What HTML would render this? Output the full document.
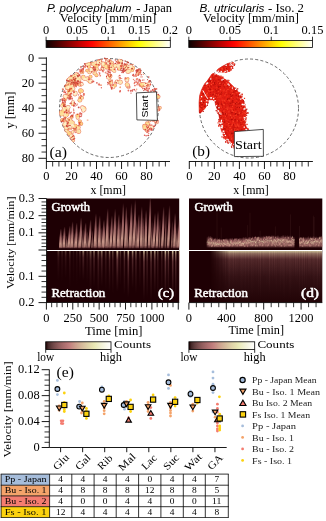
<!DOCTYPE html>
<html><head><meta charset="utf-8"><style>
html,body{margin:0;padding:0;background:#fff;overflow:hidden;width:326px;height:521px;}
svg{display:block;will-change:transform;}
</style></head><body>
<svg width="326" height="521" viewBox="0 0 326 521">
<defs><linearGradient id="ghot" x1="0" y1="0" x2="1" y2="0"><stop offset="0.0000" stop-color="#0b0000"/><stop offset="0.0417" stop-color="#270000"/><stop offset="0.0833" stop-color="#420000"/><stop offset="0.1250" stop-color="#5e0000"/><stop offset="0.1667" stop-color="#7a0000"/><stop offset="0.2083" stop-color="#960000"/><stop offset="0.2500" stop-color="#b20000"/><stop offset="0.2917" stop-color="#ce0000"/><stop offset="0.3333" stop-color="#ea0000"/><stop offset="0.3750" stop-color="#ff0700"/><stop offset="0.4167" stop-color="#ff2300"/><stop offset="0.4583" stop-color="#ff3e00"/><stop offset="0.5000" stop-color="#ff5a00"/><stop offset="0.5417" stop-color="#ff7600"/><stop offset="0.5833" stop-color="#ff9200"/><stop offset="0.6250" stop-color="#ffae00"/><stop offset="0.6667" stop-color="#ffca00"/><stop offset="0.7083" stop-color="#ffe600"/><stop offset="0.7500" stop-color="#ffff04"/><stop offset="0.7917" stop-color="#ffff2e"/><stop offset="0.8333" stop-color="#ffff58"/><stop offset="0.8750" stop-color="#ffff81"/><stop offset="0.9167" stop-color="#ffffab"/><stop offset="0.9583" stop-color="#ffffd5"/><stop offset="1.0000" stop-color="#ffffff"/></linearGradient><linearGradient id="gpink" x1="0" y1="0" x2="1" y2="0"><stop offset="0.0000" stop-color="#1e0000"/><stop offset="0.0417" stop-color="#472a2a"/><stop offset="0.0833" stop-color="#603c3c"/><stop offset="0.1250" stop-color="#744a4a"/><stop offset="0.1667" stop-color="#855555"/><stop offset="0.2083" stop-color="#945f5f"/><stop offset="0.2500" stop-color="#a16868"/><stop offset="0.2917" stop-color="#ae7070"/><stop offset="0.3333" stop-color="#b97878"/><stop offset="0.3750" stop-color="#c38280"/><stop offset="0.4167" stop-color="#c79186"/><stop offset="0.4583" stop-color="#cc9f8d"/><stop offset="0.5000" stop-color="#d0ab93"/><stop offset="0.5417" stop-color="#d4b799"/><stop offset="0.5833" stop-color="#d9c29f"/><stop offset="0.6250" stop-color="#ddcda5"/><stop offset="0.6667" stop-color="#e1d7aa"/><stop offset="0.7083" stop-color="#e5e0af"/><stop offset="0.7500" stop-color="#e9e9b5"/><stop offset="0.7917" stop-color="#ededc3"/><stop offset="0.8333" stop-color="#f0f0d1"/><stop offset="0.8750" stop-color="#f4f4dd"/><stop offset="0.9167" stop-color="#f8f8e9"/><stop offset="0.9583" stop-color="#fbfbf4"/><stop offset="1.0000" stop-color="#ffffff"/></linearGradient><linearGradient id="gup" x1="0" y1="0" x2="0" y2="1"><stop offset="0" stop-color="#aa6e6e" stop-opacity="0.0"/><stop offset="0.12" stop-color="#b07272" stop-opacity="0.32"/><stop offset="0.45" stop-color="#c2807f" stop-opacity="0.75"/><stop offset="0.78" stop-color="#ca998a" stop-opacity="0.97"/><stop offset="0.93" stop-color="#c78f85" stop-opacity="0.82"/><stop offset="1" stop-color="#b67676" stop-opacity="0.35"/></linearGradient><linearGradient id="gdn" x1="0" y1="0" x2="0" y2="1"><stop offset="0" stop-color="#e0d5a9" stop-opacity="1"/><stop offset="0.07" stop-color="#d0ab93" stop-opacity="0.75"/><stop offset="0.22" stop-color="#c07d7d" stop-opacity="0.42"/><stop offset="0.6" stop-color="#aa6e6e" stop-opacity="0.2"/><stop offset="1" stop-color="#a16868" stop-opacity="0"/></linearGradient><linearGradient id="gdn2" x1="0" y1="0" x2="0" y2="1"><stop offset="0" stop-color="#e2daac" stop-opacity="1"/><stop offset="0.05" stop-color="#d0ab93" stop-opacity="0.7"/><stop offset="0.16" stop-color="#bb7979" stop-opacity="0.36"/><stop offset="0.5" stop-color="#a46a6a" stop-opacity="0.18"/><stop offset="1" stop-color="#986262" stop-opacity="0.04"/></linearGradient><linearGradient id="gband" x1="0" y1="0" x2="0" y2="1"><stop offset="0" stop-color="#b07272" stop-opacity="0"/><stop offset="0.2" stop-color="#b87878" stop-opacity="0.55"/><stop offset="0.5" stop-color="#c89287" stop-opacity="0.85"/><stop offset="0.8" stop-color="#c68b84" stop-opacity="0.75"/><stop offset="1" stop-color="#b07272" stop-opacity="0.25"/></linearGradient><linearGradient id="hramp" x1="0" y1="0" x2="1" y2="0"><stop offset="0" stop-color="#fff" stop-opacity="0"/><stop offset="1" stop-color="#fff" stop-opacity="1"/></linearGradient><mask id="dmask" maskUnits="userSpaceOnUse" x="189.0" y="250" width="133.3" height="53"><rect x="210" y="250" width="20" height="53" fill="url(#hramp)"/><rect x="229.9" y="250" width="93.4" height="53" fill="#fff"/></mask></defs>
<text x="46.90" y="11.80" font-family="Liberation Sans" font-size="10" font-style="italic" textLength="84.50" lengthAdjust="spacingAndGlyphs">P. polycephalum</text>
<text x="136.30" y="11.80" font-family="Liberation Serif" font-size="11.5" textLength="35.60" lengthAdjust="spacingAndGlyphs">- Japan</text>
<text x="59.70" y="22.10" font-family="Liberation Serif" font-size="11.5" textLength="96.60" lengthAdjust="spacingAndGlyphs">Velocity [mm/min]</text>
<text x="199.60" y="11.80" font-family="Liberation Sans" font-size="10" font-style="italic" textLength="64.80" lengthAdjust="spacingAndGlyphs">B. utricularis</text>
<text x="268.00" y="11.80" font-family="Liberation Serif" font-size="11.5" textLength="36.00" lengthAdjust="spacingAndGlyphs">- Iso. 2</text>
<text x="202.90" y="22.10" font-family="Liberation Serif" font-size="11.5" textLength="96.00" lengthAdjust="spacingAndGlyphs">Velocity [mm/min]</text>
<rect x="46.10" y="40.50" width="124.20" height="7.00" fill="url(#ghot)" stroke="#000" stroke-width="0.8"/>
<line x1="46.10" y1="36.70" x2="46.10" y2="40.50" stroke="#000" stroke-width="0.8"/>
<text x="46.10" y="34.30" font-family="Liberation Serif" font-size="11.5" text-anchor="middle" textLength="6.23" lengthAdjust="spacingAndGlyphs">0</text>
<line x1="77.15" y1="36.70" x2="77.15" y2="40.50" stroke="#000" stroke-width="0.8"/>
<text x="77.15" y="34.30" font-family="Liberation Serif" font-size="11.5" text-anchor="middle" textLength="21.79" lengthAdjust="spacingAndGlyphs">0.05</text>
<line x1="108.20" y1="36.70" x2="108.20" y2="40.50" stroke="#000" stroke-width="0.8"/>
<text x="108.20" y="34.30" font-family="Liberation Serif" font-size="11.5" text-anchor="middle" textLength="15.56" lengthAdjust="spacingAndGlyphs">0.1</text>
<line x1="139.25" y1="36.70" x2="139.25" y2="40.50" stroke="#000" stroke-width="0.8"/>
<text x="139.25" y="34.30" font-family="Liberation Serif" font-size="11.5" text-anchor="middle" textLength="21.79" lengthAdjust="spacingAndGlyphs">0.15</text>
<line x1="170.30" y1="36.70" x2="170.30" y2="40.50" stroke="#000" stroke-width="0.8"/>
<text x="170.30" y="34.30" font-family="Liberation Serif" font-size="11.5" text-anchor="middle" textLength="15.56" lengthAdjust="spacingAndGlyphs">0.2</text>
<rect x="188.80" y="40.50" width="123.70" height="7.00" fill="url(#ghot)" stroke="#000" stroke-width="0.8"/>
<line x1="188.80" y1="36.70" x2="188.80" y2="40.50" stroke="#000" stroke-width="0.8"/>
<text x="188.80" y="34.30" font-family="Liberation Serif" font-size="11.5" text-anchor="middle" textLength="6.23" lengthAdjust="spacingAndGlyphs">0</text>
<line x1="230.03" y1="36.70" x2="230.03" y2="40.50" stroke="#000" stroke-width="0.8"/>
<text x="230.03" y="34.30" font-family="Liberation Serif" font-size="11.5" text-anchor="middle" textLength="21.79" lengthAdjust="spacingAndGlyphs">0.05</text>
<line x1="271.27" y1="36.70" x2="271.27" y2="40.50" stroke="#000" stroke-width="0.8"/>
<text x="271.27" y="34.30" font-family="Liberation Serif" font-size="11.5" text-anchor="middle" textLength="15.56" lengthAdjust="spacingAndGlyphs">0.1</text>
<line x1="312.50" y1="36.70" x2="312.50" y2="40.50" stroke="#000" stroke-width="0.8"/>
<text x="312.50" y="34.30" font-family="Liberation Serif" font-size="11.5" text-anchor="middle" textLength="21.79" lengthAdjust="spacingAndGlyphs">0.15</text>
<line x1="46.00" y1="161.50" x2="170.00" y2="161.50" stroke="#000" stroke-width="0.9"/>
<line x1="46.40" y1="161.50" x2="46.40" y2="169.00" stroke="#000" stroke-width="0.9"/>
<text x="46.40" y="180.10" font-family="Liberation Serif" font-size="11.5" text-anchor="middle" textLength="6.23" lengthAdjust="spacingAndGlyphs">0</text>
<line x1="52.66" y1="161.50" x2="52.66" y2="166.50" stroke="#000" stroke-width="0.8"/>
<line x1="58.92" y1="161.50" x2="58.92" y2="166.50" stroke="#000" stroke-width="0.8"/>
<line x1="65.19" y1="161.50" x2="65.19" y2="166.50" stroke="#000" stroke-width="0.8"/>
<line x1="71.45" y1="161.50" x2="71.45" y2="169.00" stroke="#000" stroke-width="0.9"/>
<text x="71.45" y="180.10" font-family="Liberation Serif" font-size="11.5" text-anchor="middle" textLength="12.46" lengthAdjust="spacingAndGlyphs">20</text>
<line x1="77.71" y1="161.50" x2="77.71" y2="166.50" stroke="#000" stroke-width="0.8"/>
<line x1="83.97" y1="161.50" x2="83.97" y2="166.50" stroke="#000" stroke-width="0.8"/>
<line x1="90.24" y1="161.50" x2="90.24" y2="166.50" stroke="#000" stroke-width="0.8"/>
<line x1="96.50" y1="161.50" x2="96.50" y2="169.00" stroke="#000" stroke-width="0.9"/>
<text x="96.50" y="180.10" font-family="Liberation Serif" font-size="11.5" text-anchor="middle" textLength="12.46" lengthAdjust="spacingAndGlyphs">40</text>
<line x1="102.76" y1="161.50" x2="102.76" y2="166.50" stroke="#000" stroke-width="0.8"/>
<line x1="109.03" y1="161.50" x2="109.03" y2="166.50" stroke="#000" stroke-width="0.8"/>
<line x1="115.29" y1="161.50" x2="115.29" y2="166.50" stroke="#000" stroke-width="0.8"/>
<line x1="121.55" y1="161.50" x2="121.55" y2="169.00" stroke="#000" stroke-width="0.9"/>
<text x="121.55" y="180.10" font-family="Liberation Serif" font-size="11.5" text-anchor="middle" textLength="12.46" lengthAdjust="spacingAndGlyphs">60</text>
<line x1="127.81" y1="161.50" x2="127.81" y2="166.50" stroke="#000" stroke-width="0.8"/>
<line x1="134.07" y1="161.50" x2="134.07" y2="166.50" stroke="#000" stroke-width="0.8"/>
<line x1="140.34" y1="161.50" x2="140.34" y2="166.50" stroke="#000" stroke-width="0.8"/>
<line x1="146.60" y1="161.50" x2="146.60" y2="169.00" stroke="#000" stroke-width="0.9"/>
<text x="146.60" y="180.10" font-family="Liberation Serif" font-size="11.5" text-anchor="middle" textLength="12.46" lengthAdjust="spacingAndGlyphs">80</text>
<line x1="152.86" y1="161.50" x2="152.86" y2="166.50" stroke="#000" stroke-width="0.8"/>
<line x1="159.12" y1="161.50" x2="159.12" y2="166.50" stroke="#000" stroke-width="0.8"/>
<line x1="165.39" y1="161.50" x2="165.39" y2="166.50" stroke="#000" stroke-width="0.8"/>
<text x="108.20" y="193.80" font-family="Liberation Serif" font-size="11.5" text-anchor="middle" textLength="35.50" lengthAdjust="spacingAndGlyphs">x [mm]</text>
<line x1="188.90" y1="161.50" x2="312.90" y2="161.50" stroke="#000" stroke-width="0.9"/>
<line x1="189.30" y1="161.50" x2="189.30" y2="169.00" stroke="#000" stroke-width="0.9"/>
<text x="189.30" y="180.10" font-family="Liberation Serif" font-size="11.5" text-anchor="middle" textLength="6.23" lengthAdjust="spacingAndGlyphs">0</text>
<line x1="195.56" y1="161.50" x2="195.56" y2="166.50" stroke="#000" stroke-width="0.8"/>
<line x1="201.83" y1="161.50" x2="201.83" y2="166.50" stroke="#000" stroke-width="0.8"/>
<line x1="208.09" y1="161.50" x2="208.09" y2="166.50" stroke="#000" stroke-width="0.8"/>
<line x1="214.35" y1="161.50" x2="214.35" y2="169.00" stroke="#000" stroke-width="0.9"/>
<text x="214.35" y="180.10" font-family="Liberation Serif" font-size="11.5" text-anchor="middle" textLength="12.46" lengthAdjust="spacingAndGlyphs">20</text>
<line x1="220.61" y1="161.50" x2="220.61" y2="166.50" stroke="#000" stroke-width="0.8"/>
<line x1="226.88" y1="161.50" x2="226.88" y2="166.50" stroke="#000" stroke-width="0.8"/>
<line x1="233.14" y1="161.50" x2="233.14" y2="166.50" stroke="#000" stroke-width="0.8"/>
<line x1="239.40" y1="161.50" x2="239.40" y2="169.00" stroke="#000" stroke-width="0.9"/>
<text x="239.40" y="180.10" font-family="Liberation Serif" font-size="11.5" text-anchor="middle" textLength="12.46" lengthAdjust="spacingAndGlyphs">40</text>
<line x1="245.66" y1="161.50" x2="245.66" y2="166.50" stroke="#000" stroke-width="0.8"/>
<line x1="251.93" y1="161.50" x2="251.93" y2="166.50" stroke="#000" stroke-width="0.8"/>
<line x1="258.19" y1="161.50" x2="258.19" y2="166.50" stroke="#000" stroke-width="0.8"/>
<line x1="264.45" y1="161.50" x2="264.45" y2="169.00" stroke="#000" stroke-width="0.9"/>
<text x="264.45" y="180.10" font-family="Liberation Serif" font-size="11.5" text-anchor="middle" textLength="12.46" lengthAdjust="spacingAndGlyphs">60</text>
<line x1="270.71" y1="161.50" x2="270.71" y2="166.50" stroke="#000" stroke-width="0.8"/>
<line x1="276.98" y1="161.50" x2="276.98" y2="166.50" stroke="#000" stroke-width="0.8"/>
<line x1="283.24" y1="161.50" x2="283.24" y2="166.50" stroke="#000" stroke-width="0.8"/>
<line x1="289.50" y1="161.50" x2="289.50" y2="169.00" stroke="#000" stroke-width="0.9"/>
<text x="289.50" y="180.10" font-family="Liberation Serif" font-size="11.5" text-anchor="middle" textLength="12.46" lengthAdjust="spacingAndGlyphs">80</text>
<line x1="295.76" y1="161.50" x2="295.76" y2="166.50" stroke="#000" stroke-width="0.8"/>
<line x1="302.02" y1="161.50" x2="302.02" y2="166.50" stroke="#000" stroke-width="0.8"/>
<line x1="308.29" y1="161.50" x2="308.29" y2="166.50" stroke="#000" stroke-width="0.8"/>
<text x="251.10" y="193.80" font-family="Liberation Serif" font-size="11.5" text-anchor="middle" textLength="35.50" lengthAdjust="spacingAndGlyphs">x [mm]</text>
<line x1="46.40" y1="57.30" x2="46.40" y2="161.50" stroke="#000" stroke-width="0.9"/>
<line x1="38.50" y1="58.10" x2="46.40" y2="58.10" stroke="#000" stroke-width="0.9"/>
<text x="34.20" y="61.70" font-family="Liberation Serif" font-size="11.5" text-anchor="end" textLength="6.23" lengthAdjust="spacingAndGlyphs">0</text>
<line x1="41.50" y1="64.36" x2="46.40" y2="64.36" stroke="#000" stroke-width="0.8"/>
<line x1="41.50" y1="70.62" x2="46.40" y2="70.62" stroke="#000" stroke-width="0.8"/>
<line x1="41.50" y1="76.89" x2="46.40" y2="76.89" stroke="#000" stroke-width="0.8"/>
<line x1="38.50" y1="83.15" x2="46.40" y2="83.15" stroke="#000" stroke-width="0.9"/>
<text x="34.20" y="86.75" font-family="Liberation Serif" font-size="11.5" text-anchor="end" textLength="12.46" lengthAdjust="spacingAndGlyphs">20</text>
<line x1="41.50" y1="89.41" x2="46.40" y2="89.41" stroke="#000" stroke-width="0.8"/>
<line x1="41.50" y1="95.67" x2="46.40" y2="95.67" stroke="#000" stroke-width="0.8"/>
<line x1="41.50" y1="101.94" x2="46.40" y2="101.94" stroke="#000" stroke-width="0.8"/>
<line x1="38.50" y1="108.20" x2="46.40" y2="108.20" stroke="#000" stroke-width="0.9"/>
<text x="34.20" y="111.80" font-family="Liberation Serif" font-size="11.5" text-anchor="end" textLength="12.46" lengthAdjust="spacingAndGlyphs">40</text>
<line x1="41.50" y1="114.46" x2="46.40" y2="114.46" stroke="#000" stroke-width="0.8"/>
<line x1="41.50" y1="120.72" x2="46.40" y2="120.72" stroke="#000" stroke-width="0.8"/>
<line x1="41.50" y1="126.99" x2="46.40" y2="126.99" stroke="#000" stroke-width="0.8"/>
<line x1="38.50" y1="133.25" x2="46.40" y2="133.25" stroke="#000" stroke-width="0.9"/>
<text x="34.20" y="136.85" font-family="Liberation Serif" font-size="11.5" text-anchor="end" textLength="12.46" lengthAdjust="spacingAndGlyphs">60</text>
<line x1="41.50" y1="139.51" x2="46.40" y2="139.51" stroke="#000" stroke-width="0.8"/>
<line x1="41.50" y1="145.78" x2="46.40" y2="145.78" stroke="#000" stroke-width="0.8"/>
<line x1="41.50" y1="152.04" x2="46.40" y2="152.04" stroke="#000" stroke-width="0.8"/>
<line x1="38.50" y1="158.30" x2="46.40" y2="158.30" stroke="#000" stroke-width="0.9"/>
<text x="34.20" y="161.90" font-family="Liberation Serif" font-size="11.5" text-anchor="end" textLength="12.46" lengthAdjust="spacingAndGlyphs">80</text>
<text x="14.20" y="110.00" font-family="Liberation Serif" font-size="11.6" text-anchor="middle" textLength="37.00" lengthAdjust="spacingAndGlyphs" transform="rotate(-90 14.20 110.00)">y [mm]</text>
<circle cx="109" cy="108" r="49.5" fill="none" stroke="#444" stroke-width="0.8" stroke-dasharray="3,2.2"/>
<circle cx="249" cy="108.5" r="49.5" fill="none" stroke="#444" stroke-width="0.8" stroke-dasharray="3,2.2"/>
<g fill="#e6603e" opacity="0.75"><circle cx="73.6" cy="78.3" r="1.65"/><circle cx="74.1" cy="79.5" r="1.69"/><circle cx="74.5" cy="79.7" r="2.17"/><circle cx="73.4" cy="140.6" r="1.65"/><circle cx="73.2" cy="138.4" r="1.76"/><circle cx="73.7" cy="126.8" r="2.25"/><circle cx="74.4" cy="127.0" r="2.07"/><circle cx="74.9" cy="129.6" r="1.85"/><circle cx="102.9" cy="68.5" r="1.96"/><circle cx="103.1" cy="68.4" r="2.49"/><circle cx="73.9" cy="84.3" r="2.08"/><circle cx="120.8" cy="67.7" r="1.80"/><circle cx="149.9" cy="127.0" r="1.83"/><circle cx="151.4" cy="127.6" r="2.40"/><circle cx="73.7" cy="82.6" r="1.99"/><circle cx="76.0" cy="84.1" r="2.43"/><circle cx="74.0" cy="83.2" r="2.02"/><circle cx="129.9" cy="68.1" r="1.80"/><circle cx="131.0" cy="66.4" r="2.21"/><circle cx="89.5" cy="72.1" r="2.21"/><circle cx="64.1" cy="109.6" r="2.40"/><circle cx="107.1" cy="62.1" r="2.09"/><circle cx="79.0" cy="78.2" r="1.91"/><circle cx="78.7" cy="80.1" r="2.50"/><circle cx="64.7" cy="112.5" r="1.88"/><circle cx="75.3" cy="77.2" r="2.25"/><circle cx="75.5" cy="76.8" r="1.87"/><circle cx="76.4" cy="75.5" r="2.03"/><circle cx="127.1" cy="84.5" r="2.30"/><circle cx="127.9" cy="84.8" r="1.88"/><circle cx="128.5" cy="87.0" r="2.10"/><circle cx="62.1" cy="105.7" r="1.82"/><circle cx="72.7" cy="132.0" r="1.76"/><circle cx="62.4" cy="120.0" r="2.10"/><circle cx="71.4" cy="79.0" r="2.33"/><circle cx="68.8" cy="80.1" r="2.30"/><circle cx="69.4" cy="79.7" r="2.09"/><circle cx="64.6" cy="124.5" r="2.26"/><circle cx="103.6" cy="67.2" r="1.76"/><circle cx="106.1" cy="66.8" r="2.20"/><circle cx="94.6" cy="67.6" r="1.79"/><circle cx="96.1" cy="66.2" r="2.42"/><circle cx="95.7" cy="65.5" r="2.31"/><circle cx="94.4" cy="70.0" r="2.45"/><circle cx="96.5" cy="69.1" r="2.41"/><circle cx="133.2" cy="67.9" r="1.99"/><circle cx="69.0" cy="80.1" r="2.39"/><circle cx="70.2" cy="78.8" r="1.90"/><circle cx="70.6" cy="78.2" r="2.26"/><circle cx="149.4" cy="120.7" r="1.63"/><circle cx="149.3" cy="119.6" r="2.03"/><circle cx="149.7" cy="119.6" r="2.39"/><circle cx="122.4" cy="65.5" r="1.69"/><circle cx="63.4" cy="104.4" r="2.27"/><circle cx="67.9" cy="107.6" r="2.07"/><circle cx="68.4" cy="107.6" r="1.99"/><circle cx="68.1" cy="107.1" r="2.21"/><circle cx="141.3" cy="84.4" r="2.31"/><circle cx="143.7" cy="84.1" r="1.86"/><circle cx="142.6" cy="85.2" r="2.26"/><circle cx="86.6" cy="64.6" r="1.77"/><circle cx="67.4" cy="85.6" r="1.71"/><circle cx="66.7" cy="85.4" r="2.00"/><circle cx="68.1" cy="86.6" r="1.89"/><circle cx="71.2" cy="90.8" r="1.67"/><circle cx="79.1" cy="130.7" r="1.82"/><circle cx="78.9" cy="131.6" r="2.31"/><circle cx="77.9" cy="131.5" r="2.07"/><circle cx="98.4" cy="63.7" r="2.41"/><circle cx="98.7" cy="61.2" r="1.89"/><circle cx="99.4" cy="62.3" r="2.04"/><circle cx="110.1" cy="68.5" r="2.03"/><circle cx="109.8" cy="67.2" r="1.95"/><circle cx="109.9" cy="66.6" r="1.99"/><circle cx="69.0" cy="91.3" r="2.21"/><circle cx="69.5" cy="92.4" r="2.42"/><circle cx="126.9" cy="80.1" r="2.33"/><circle cx="127.8" cy="78.5" r="1.62"/><circle cx="68.6" cy="120.3" r="1.81"/><circle cx="69.8" cy="119.8" r="2.26"/><circle cx="65.1" cy="116.2" r="2.07"/><circle cx="65.1" cy="120.2" r="2.18"/><circle cx="66.1" cy="119.3" r="1.86"/><circle cx="113.2" cy="70.0" r="2.03"/><circle cx="114.4" cy="70.9" r="1.92"/><circle cx="69.3" cy="133.5" r="2.43"/><circle cx="146.8" cy="84.8" r="2.16"/><circle cx="149.0" cy="84.2" r="2.14"/><circle cx="146.1" cy="85.4" r="2.05"/><circle cx="129.6" cy="67.2" r="2.46"/><circle cx="98.3" cy="62.4" r="2.09"/><circle cx="99.4" cy="61.4" r="1.99"/><circle cx="67.0" cy="109.2" r="2.13"/><circle cx="65.2" cy="110.0" r="2.18"/><circle cx="68.0" cy="110.8" r="2.00"/><circle cx="71.5" cy="135.8" r="2.18"/><circle cx="83.4" cy="108.5" r="2.06"/><circle cx="84.1" cy="108.5" r="2.25"/><circle cx="82.4" cy="107.6" r="2.26"/><circle cx="128.8" cy="71.2" r="2.22"/><circle cx="83.4" cy="110.0" r="1.98"/><circle cx="119.6" cy="68.5" r="1.81"/><circle cx="119.0" cy="68.8" r="1.85"/><circle cx="82.0" cy="71.9" r="2.33"/><circle cx="108.6" cy="77.1" r="2.50"/><circle cx="110.4" cy="75.9" r="2.05"/><circle cx="109.8" cy="76.8" r="2.16"/><circle cx="66.0" cy="114.8" r="2.44"/><circle cx="65.8" cy="115.2" r="2.16"/><circle cx="67.1" cy="114.4" r="2.10"/><circle cx="80.4" cy="97.8" r="2.06"/><circle cx="79.8" cy="100.3" r="2.32"/><circle cx="82.1" cy="97.7" r="1.84"/><circle cx="63.9" cy="107.5" r="1.86"/><circle cx="64.9" cy="107.8" r="1.66"/><circle cx="65.3" cy="108.0" r="1.62"/><circle cx="113.2" cy="68.6" r="2.10"/><circle cx="113.1" cy="68.7" r="2.35"/><circle cx="84.5" cy="109.7" r="1.86"/><circle cx="83.2" cy="109.5" r="1.79"/><circle cx="83.3" cy="110.9" r="1.71"/><circle cx="108.5" cy="63.0" r="2.02"/><circle cx="117.0" cy="81.6" r="2.15"/><circle cx="72.8" cy="84.8" r="2.30"/><circle cx="72.0" cy="85.2" r="2.14"/><circle cx="70.3" cy="83.5" r="1.80"/><circle cx="100.2" cy="61.7" r="2.20"/><circle cx="125.6" cy="66.8" r="2.27"/><circle cx="126.0" cy="68.8" r="1.67"/><circle cx="126.8" cy="66.1" r="2.07"/><circle cx="72.7" cy="104.0" r="2.04"/><circle cx="71.7" cy="80.6" r="1.72"/><circle cx="70.9" cy="82.6" r="2.19"/><circle cx="72.7" cy="82.3" r="2.19"/><circle cx="68.5" cy="86.6" r="2.11"/><circle cx="72.5" cy="137.8" r="2.36"/><circle cx="73.2" cy="137.0" r="1.66"/><circle cx="71.8" cy="136.8" r="2.29"/><circle cx="76.9" cy="127.2" r="1.66"/><circle cx="71.8" cy="82.5" r="1.88"/><circle cx="148.7" cy="123.8" r="1.64"/><circle cx="146.9" cy="123.2" r="1.88"/><circle cx="147.8" cy="123.9" r="1.74"/><circle cx="119.9" cy="64.0" r="2.08"/><circle cx="70.4" cy="91.6" r="1.62"/><circle cx="69.6" cy="92.4" r="2.33"/><circle cx="126.4" cy="66.8" r="2.20"/><circle cx="125.8" cy="67.1" r="2.44"/><circle cx="66.3" cy="87.1" r="1.74"/><circle cx="68.9" cy="87.3" r="2.44"/><circle cx="66.9" cy="87.9" r="2.04"/><circle cx="146.4" cy="130.6" r="1.62"/><circle cx="146.8" cy="128.1" r="2.20"/><circle cx="147.1" cy="127.9" r="2.44"/><circle cx="91.2" cy="70.0" r="2.34"/><circle cx="90.9" cy="69.4" r="2.30"/><circle cx="89.7" cy="70.0" r="1.85"/><circle cx="127.8" cy="71.6" r="2.38"/><circle cx="88.9" cy="66.8" r="1.94"/><circle cx="89.1" cy="64.0" r="2.07"/><circle cx="87.6" cy="64.7" r="1.69"/><circle cx="125.4" cy="68.8" r="2.21"/><circle cx="72.5" cy="122.7" r="2.32"/><circle cx="72.0" cy="123.6" r="1.96"/><circle cx="72.6" cy="125.9" r="2.48"/><circle cx="119.3" cy="60.6" r="1.90"/><circle cx="120.6" cy="63.0" r="2.26"/><circle cx="72.8" cy="77.7" r="1.74"/><circle cx="72.6" cy="77.0" r="1.75"/><circle cx="72.8" cy="78.4" r="1.65"/><circle cx="118.1" cy="66.0" r="2.41"/><circle cx="118.0" cy="65.8" r="1.78"/><circle cx="115.3" cy="65.7" r="2.42"/><circle cx="70.3" cy="90.8" r="1.86"/><circle cx="69.7" cy="90.6" r="2.12"/><circle cx="70.0" cy="92.4" r="1.81"/><circle cx="77.7" cy="128.2" r="2.06"/><circle cx="78.3" cy="127.4" r="2.33"/><circle cx="76.7" cy="127.0" r="2.24"/><circle cx="68.5" cy="95.6" r="2.02"/><circle cx="69.0" cy="96.4" r="2.19"/><circle cx="103.5" cy="64.0" r="2.46"/><circle cx="102.8" cy="64.6" r="1.85"/><circle cx="102.9" cy="63.4" r="1.74"/><circle cx="71.9" cy="116.9" r="1.79"/><circle cx="77.1" cy="77.0" r="2.10"/><circle cx="77.8" cy="78.3" r="1.69"/><circle cx="78.6" cy="77.4" r="2.34"/><circle cx="156.5" cy="121.9" r="2.36"/><circle cx="67.7" cy="131.5" r="1.81"/><circle cx="66.1" cy="130.6" r="1.66"/><circle cx="73.8" cy="76.3" r="2.14"/><circle cx="76.4" cy="77.9" r="1.97"/><circle cx="75.8" cy="76.8" r="1.88"/><circle cx="91.0" cy="70.1" r="1.73"/><circle cx="89.8" cy="71.7" r="1.63"/><circle cx="90.2" cy="71.0" r="2.06"/><circle cx="70.9" cy="122.2" r="1.70"/><circle cx="68.9" cy="124.0" r="1.68"/><circle cx="69.5" cy="124.5" r="2.27"/><circle cx="70.8" cy="87.2" r="2.25"/><circle cx="73.0" cy="88.8" r="2.36"/><circle cx="71.2" cy="89.1" r="2.42"/><circle cx="70.2" cy="122.0" r="2.40"/><circle cx="71.0" cy="121.5" r="2.15"/><circle cx="70.1" cy="82.2" r="1.69"/><circle cx="72.6" cy="81.3" r="2.18"/><circle cx="70.1" cy="84.7" r="1.99"/><circle cx="68.4" cy="83.4" r="2.01"/><circle cx="75.1" cy="127.1" r="2.38"/><circle cx="75.3" cy="125.7" r="2.01"/><circle cx="112.9" cy="87.0" r="2.31"/><circle cx="114.8" cy="85.4" r="2.08"/><circle cx="111.9" cy="86.5" r="1.64"/><circle cx="80.1" cy="84.4" r="2.42"/><circle cx="81.5" cy="84.2" r="2.13"/><circle cx="95.3" cy="63.2" r="2.02"/><circle cx="93.3" cy="64.1" r="2.43"/><circle cx="110.9" cy="82.6" r="2.22"/><circle cx="110.2" cy="83.0" r="1.84"/><circle cx="110.0" cy="80.4" r="1.65"/><circle cx="68.2" cy="126.6" r="2.12"/><circle cx="68.6" cy="127.5" r="2.27"/><circle cx="66.1" cy="127.6" r="2.23"/><circle cx="78.0" cy="78.8" r="1.68"/><circle cx="79.6" cy="79.0" r="1.85"/><circle cx="77.0" cy="78.8" r="2.47"/><circle cx="76.0" cy="74.1" r="1.66"/><circle cx="76.5" cy="74.4" r="2.07"/><circle cx="139.0" cy="72.9" r="1.80"/><circle cx="137.7" cy="73.8" r="1.71"/><circle cx="138.8" cy="72.0" r="2.34"/><circle cx="160.0" cy="107.8" r="1.73"/><circle cx="157.9" cy="109.0" r="2.50"/><circle cx="77.7" cy="117.7" r="2.02"/><circle cx="87.1" cy="70.5" r="1.86"/><circle cx="120.8" cy="61.6" r="2.17"/><circle cx="118.6" cy="62.1" r="2.00"/><circle cx="121.0" cy="60.8" r="1.68"/><circle cx="75.2" cy="93.1" r="2.37"/><circle cx="75.0" cy="94.0" r="2.41"/><circle cx="77.6" cy="115.7" r="2.21"/><circle cx="154.5" cy="120.3" r="1.79"/><circle cx="152.8" cy="119.3" r="2.26"/><circle cx="65.5" cy="123.6" r="2.09"/><circle cx="65.0" cy="98.4" r="1.84"/><circle cx="65.3" cy="98.9" r="2.04"/><circle cx="65.2" cy="96.4" r="2.46"/><circle cx="90.5" cy="76.7" r="2.01"/><circle cx="112.0" cy="63.9" r="1.81"/><circle cx="112.2" cy="62.3" r="1.60"/><circle cx="109.8" cy="61.1" r="2.06"/><circle cx="83.7" cy="78.5" r="2.03"/><circle cx="83.3" cy="76.9" r="2.25"/><circle cx="85.3" cy="78.9" r="2.08"/><circle cx="81.4" cy="90.9" r="2.21"/><circle cx="80.6" cy="90.7" r="2.50"/><circle cx="81.6" cy="91.1" r="1.99"/><circle cx="127.2" cy="85.3" r="2.10"/><circle cx="96.5" cy="75.2" r="1.93"/><circle cx="94.6" cy="73.1" r="2.22"/><circle cx="89.6" cy="81.5" r="2.03"/><circle cx="90.7" cy="81.3" r="2.35"/><circle cx="62.6" cy="113.7" r="2.26"/><circle cx="60.7" cy="111.9" r="1.75"/><circle cx="69.0" cy="90.9" r="2.25"/><circle cx="70.1" cy="125.6" r="2.37"/><circle cx="70.0" cy="128.1" r="2.21"/><circle cx="77.0" cy="78.9" r="2.42"/><circle cx="80.0" cy="121.7" r="2.08"/><circle cx="79.7" cy="121.6" r="1.74"/><circle cx="81.1" cy="123.8" r="2.14"/><circle cx="62.8" cy="111.6" r="2.12"/><circle cx="61.7" cy="114.1" r="2.49"/><circle cx="111.8" cy="66.4" r="1.94"/><circle cx="111.0" cy="67.5" r="2.45"/><circle cx="110.5" cy="66.3" r="1.64"/><circle cx="132.1" cy="70.0" r="2.10"/><circle cx="131.3" cy="69.7" r="2.34"/><circle cx="131.5" cy="70.0" r="2.15"/><circle cx="158.8" cy="96.5" r="1.65"/><circle cx="158.2" cy="97.3" r="1.85"/><circle cx="156.5" cy="95.8" r="2.21"/><circle cx="72.9" cy="102.4" r="2.05"/><circle cx="126.8" cy="67.9" r="2.50"/><circle cx="145.1" cy="84.8" r="1.77"/><circle cx="143.6" cy="84.6" r="2.35"/><circle cx="143.1" cy="84.7" r="1.93"/><circle cx="120.3" cy="82.2" r="2.49"/><circle cx="69.0" cy="119.6" r="2.03"/><circle cx="144.5" cy="126.1" r="2.30"/><circle cx="144.7" cy="128.0" r="2.20"/><circle cx="147.1" cy="127.6" r="2.14"/><circle cx="108.3" cy="67.2" r="2.47"/><circle cx="106.2" cy="66.5" r="2.47"/><circle cx="69.7" cy="84.3" r="1.80"/><circle cx="87.6" cy="79.3" r="2.20"/><circle cx="87.5" cy="78.4" r="2.09"/></g>
<g opacity="0.95"><circle cx="73.6" cy="78.3" r="1.05" fill="#ffe49a"/><circle cx="74.1" cy="79.5" r="1.09" fill="#fff4d0"/><circle cx="74.5" cy="79.7" r="1.57" fill="#ffd884"/><circle cx="73.4" cy="140.6" r="1.05" fill="#ffeeb8"/><circle cx="73.2" cy="138.4" r="1.16" fill="#ffd884"/><circle cx="73.7" cy="126.8" r="1.65" fill="#ffe49a"/><circle cx="74.4" cy="127.0" r="1.47" fill="#fff4d0"/><circle cx="74.9" cy="129.6" r="1.25" fill="#ffe49a"/><circle cx="102.9" cy="68.5" r="1.36" fill="#ffeeb8"/><circle cx="103.1" cy="68.4" r="1.89" fill="#fff4d0"/><circle cx="73.9" cy="84.3" r="1.48" fill="#ffeeb8"/><circle cx="120.8" cy="67.7" r="1.20" fill="#ffe49a"/><circle cx="149.9" cy="127.0" r="1.23" fill="#ffe49a"/><circle cx="151.4" cy="127.6" r="1.80" fill="#fff4d0"/><circle cx="73.7" cy="82.6" r="1.39" fill="#ffe49a"/><circle cx="76.0" cy="84.1" r="1.83" fill="#ffe49a"/><circle cx="74.0" cy="83.2" r="1.42" fill="#fde3a6"/><circle cx="129.9" cy="68.1" r="1.20" fill="#ffe49a"/><circle cx="131.0" cy="66.4" r="1.61" fill="#fff4d0"/><circle cx="89.5" cy="72.1" r="1.61" fill="#ffeeb8"/><circle cx="64.1" cy="109.6" r="1.80" fill="#fde3a6"/><circle cx="107.1" cy="62.1" r="1.49" fill="#fff4d0"/><circle cx="79.0" cy="78.2" r="1.31" fill="#fff4d0"/><circle cx="78.7" cy="80.1" r="1.90" fill="#ffeeb8"/><circle cx="64.7" cy="112.5" r="1.28" fill="#fff4d0"/><circle cx="75.3" cy="77.2" r="1.65" fill="#ffe49a"/><circle cx="75.5" cy="76.8" r="1.27" fill="#fde3a6"/><circle cx="76.4" cy="75.5" r="1.43" fill="#ffe49a"/><circle cx="127.1" cy="84.5" r="1.70" fill="#ffe49a"/><circle cx="127.9" cy="84.8" r="1.28" fill="#fde3a6"/><circle cx="128.5" cy="87.0" r="1.50" fill="#fff4d0"/><circle cx="62.1" cy="105.7" r="1.22" fill="#ffeeb8"/><circle cx="72.7" cy="132.0" r="1.16" fill="#ffeeb8"/><circle cx="62.4" cy="120.0" r="1.50" fill="#ffd884"/><circle cx="71.4" cy="79.0" r="1.73" fill="#ffd884"/><circle cx="68.8" cy="80.1" r="1.70" fill="#ffeeb8"/><circle cx="69.4" cy="79.7" r="1.49" fill="#ffd884"/><circle cx="64.6" cy="124.5" r="1.66" fill="#ffeeb8"/><circle cx="103.6" cy="67.2" r="1.16" fill="#ffeeb8"/><circle cx="106.1" cy="66.8" r="1.60" fill="#ffe49a"/><circle cx="94.6" cy="67.6" r="1.19" fill="#ffeeb8"/><circle cx="96.1" cy="66.2" r="1.82" fill="#ffe49a"/><circle cx="95.7" cy="65.5" r="1.71" fill="#ffd884"/><circle cx="94.4" cy="70.0" r="1.85" fill="#fff4d0"/><circle cx="96.5" cy="69.1" r="1.81" fill="#fde3a6"/><circle cx="133.2" cy="67.9" r="1.39" fill="#ffe49a"/><circle cx="69.0" cy="80.1" r="1.79" fill="#fff4d0"/><circle cx="70.2" cy="78.8" r="1.30" fill="#ffeeb8"/><circle cx="70.6" cy="78.2" r="1.66" fill="#fde3a6"/><circle cx="149.4" cy="120.7" r="1.03" fill="#ffd884"/><circle cx="149.3" cy="119.6" r="1.43" fill="#ffd884"/><circle cx="149.7" cy="119.6" r="1.79" fill="#fff4d0"/><circle cx="122.4" cy="65.5" r="1.09" fill="#ffeeb8"/><circle cx="63.4" cy="104.4" r="1.67" fill="#ffd884"/><circle cx="67.9" cy="107.6" r="1.47" fill="#ffeeb8"/><circle cx="68.4" cy="107.6" r="1.39" fill="#fff4d0"/><circle cx="68.1" cy="107.1" r="1.61" fill="#fff4d0"/><circle cx="141.3" cy="84.4" r="1.71" fill="#ffd884"/><circle cx="143.7" cy="84.1" r="1.26" fill="#ffeeb8"/><circle cx="142.6" cy="85.2" r="1.66" fill="#ffd884"/><circle cx="86.6" cy="64.6" r="1.17" fill="#ffeeb8"/><circle cx="67.4" cy="85.6" r="1.11" fill="#ffe49a"/><circle cx="66.7" cy="85.4" r="1.40" fill="#fde3a6"/><circle cx="68.1" cy="86.6" r="1.29" fill="#fff4d0"/><circle cx="71.2" cy="90.8" r="1.07" fill="#ffeeb8"/><circle cx="79.1" cy="130.7" r="1.22" fill="#ffeeb8"/><circle cx="78.9" cy="131.6" r="1.71" fill="#ffeeb8"/><circle cx="77.9" cy="131.5" r="1.47" fill="#fde3a6"/><circle cx="98.4" cy="63.7" r="1.81" fill="#ffe49a"/><circle cx="98.7" cy="61.2" r="1.29" fill="#ffe49a"/><circle cx="99.4" cy="62.3" r="1.44" fill="#fff4d0"/><circle cx="110.1" cy="68.5" r="1.43" fill="#ffeeb8"/><circle cx="109.8" cy="67.2" r="1.35" fill="#ffeeb8"/><circle cx="109.9" cy="66.6" r="1.39" fill="#ffd884"/><circle cx="69.0" cy="91.3" r="1.61" fill="#ffd884"/><circle cx="69.5" cy="92.4" r="1.82" fill="#fff4d0"/><circle cx="126.9" cy="80.1" r="1.73" fill="#fff4d0"/><circle cx="127.8" cy="78.5" r="1.02" fill="#ffd884"/><circle cx="68.6" cy="120.3" r="1.21" fill="#fff4d0"/><circle cx="69.8" cy="119.8" r="1.66" fill="#ffeeb8"/><circle cx="65.1" cy="116.2" r="1.47" fill="#ffeeb8"/><circle cx="65.1" cy="120.2" r="1.58" fill="#fde3a6"/><circle cx="66.1" cy="119.3" r="1.26" fill="#fff4d0"/><circle cx="113.2" cy="70.0" r="1.43" fill="#fde3a6"/><circle cx="114.4" cy="70.9" r="1.32" fill="#ffeeb8"/><circle cx="69.3" cy="133.5" r="1.83" fill="#ffd884"/><circle cx="146.8" cy="84.8" r="1.56" fill="#ffe49a"/><circle cx="149.0" cy="84.2" r="1.54" fill="#fff4d0"/><circle cx="146.1" cy="85.4" r="1.45" fill="#fff4d0"/><circle cx="129.6" cy="67.2" r="1.86" fill="#fff4d0"/><circle cx="98.3" cy="62.4" r="1.49" fill="#fff4d0"/><circle cx="99.4" cy="61.4" r="1.39" fill="#ffe49a"/><circle cx="67.0" cy="109.2" r="1.53" fill="#fde3a6"/><circle cx="65.2" cy="110.0" r="1.58" fill="#ffeeb8"/><circle cx="68.0" cy="110.8" r="1.40" fill="#ffeeb8"/><circle cx="71.5" cy="135.8" r="1.58" fill="#fff4d0"/><circle cx="83.4" cy="108.5" r="1.46" fill="#ffeeb8"/><circle cx="84.1" cy="108.5" r="1.65" fill="#ffe49a"/><circle cx="82.4" cy="107.6" r="1.66" fill="#fff4d0"/><circle cx="128.8" cy="71.2" r="1.62" fill="#ffeeb8"/><circle cx="83.4" cy="110.0" r="1.38" fill="#ffd884"/><circle cx="119.6" cy="68.5" r="1.21" fill="#ffe49a"/><circle cx="119.0" cy="68.8" r="1.25" fill="#ffe49a"/><circle cx="82.0" cy="71.9" r="1.73" fill="#fde3a6"/><circle cx="108.6" cy="77.1" r="1.90" fill="#fff4d0"/><circle cx="110.4" cy="75.9" r="1.45" fill="#ffe49a"/><circle cx="109.8" cy="76.8" r="1.56" fill="#fde3a6"/><circle cx="66.0" cy="114.8" r="1.84" fill="#fff4d0"/><circle cx="65.8" cy="115.2" r="1.56" fill="#ffeeb8"/><circle cx="67.1" cy="114.4" r="1.50" fill="#ffe49a"/><circle cx="80.4" cy="97.8" r="1.46" fill="#ffd884"/><circle cx="79.8" cy="100.3" r="1.72" fill="#ffe49a"/><circle cx="82.1" cy="97.7" r="1.24" fill="#fde3a6"/><circle cx="63.9" cy="107.5" r="1.26" fill="#fff4d0"/><circle cx="64.9" cy="107.8" r="1.06" fill="#ffd884"/><circle cx="65.3" cy="108.0" r="1.02" fill="#fde3a6"/><circle cx="113.2" cy="68.6" r="1.50" fill="#ffd884"/><circle cx="113.1" cy="68.7" r="1.75" fill="#fde3a6"/><circle cx="84.5" cy="109.7" r="1.26" fill="#fff4d0"/><circle cx="83.2" cy="109.5" r="1.19" fill="#fff4d0"/><circle cx="83.3" cy="110.9" r="1.11" fill="#fff4d0"/><circle cx="108.5" cy="63.0" r="1.42" fill="#fff4d0"/><circle cx="117.0" cy="81.6" r="1.55" fill="#fff4d0"/><circle cx="72.8" cy="84.8" r="1.70" fill="#ffeeb8"/><circle cx="72.0" cy="85.2" r="1.54" fill="#ffeeb8"/><circle cx="70.3" cy="83.5" r="1.20" fill="#fde3a6"/><circle cx="100.2" cy="61.7" r="1.60" fill="#fff4d0"/><circle cx="125.6" cy="66.8" r="1.67" fill="#fde3a6"/><circle cx="126.0" cy="68.8" r="1.07" fill="#ffeeb8"/><circle cx="126.8" cy="66.1" r="1.47" fill="#fde3a6"/><circle cx="72.7" cy="104.0" r="1.44" fill="#ffe49a"/><circle cx="71.7" cy="80.6" r="1.12" fill="#ffe49a"/><circle cx="70.9" cy="82.6" r="1.59" fill="#fff4d0"/><circle cx="72.7" cy="82.3" r="1.59" fill="#fde3a6"/><circle cx="68.5" cy="86.6" r="1.51" fill="#ffd884"/><circle cx="72.5" cy="137.8" r="1.76" fill="#fff4d0"/><circle cx="73.2" cy="137.0" r="1.06" fill="#fde3a6"/><circle cx="71.8" cy="136.8" r="1.69" fill="#ffeeb8"/><circle cx="76.9" cy="127.2" r="1.06" fill="#fff4d0"/><circle cx="71.8" cy="82.5" r="1.28" fill="#ffd884"/><circle cx="148.7" cy="123.8" r="1.04" fill="#ffd884"/><circle cx="146.9" cy="123.2" r="1.28" fill="#ffd884"/><circle cx="147.8" cy="123.9" r="1.14" fill="#ffe49a"/><circle cx="119.9" cy="64.0" r="1.48" fill="#ffeeb8"/><circle cx="70.4" cy="91.6" r="1.02" fill="#ffd884"/><circle cx="69.6" cy="92.4" r="1.73" fill="#ffd884"/><circle cx="126.4" cy="66.8" r="1.60" fill="#ffeeb8"/><circle cx="125.8" cy="67.1" r="1.84" fill="#fde3a6"/><circle cx="66.3" cy="87.1" r="1.14" fill="#ffd884"/><circle cx="68.9" cy="87.3" r="1.84" fill="#fff4d0"/><circle cx="66.9" cy="87.9" r="1.44" fill="#ffeeb8"/><circle cx="146.4" cy="130.6" r="1.02" fill="#fff4d0"/><circle cx="146.8" cy="128.1" r="1.60" fill="#ffd884"/><circle cx="147.1" cy="127.9" r="1.84" fill="#fff4d0"/><circle cx="91.2" cy="70.0" r="1.74" fill="#ffe49a"/><circle cx="90.9" cy="69.4" r="1.70" fill="#fff4d0"/><circle cx="89.7" cy="70.0" r="1.25" fill="#fff4d0"/><circle cx="127.8" cy="71.6" r="1.78" fill="#ffeeb8"/><circle cx="88.9" cy="66.8" r="1.34" fill="#ffd884"/><circle cx="89.1" cy="64.0" r="1.47" fill="#ffe49a"/><circle cx="87.6" cy="64.7" r="1.09" fill="#ffeeb8"/><circle cx="125.4" cy="68.8" r="1.61" fill="#fff4d0"/><circle cx="72.5" cy="122.7" r="1.72" fill="#ffe49a"/><circle cx="72.0" cy="123.6" r="1.36" fill="#fde3a6"/><circle cx="72.6" cy="125.9" r="1.88" fill="#fff4d0"/><circle cx="119.3" cy="60.6" r="1.30" fill="#fff4d0"/><circle cx="120.6" cy="63.0" r="1.66" fill="#ffeeb8"/><circle cx="72.8" cy="77.7" r="1.14" fill="#ffe49a"/><circle cx="72.6" cy="77.0" r="1.15" fill="#ffeeb8"/><circle cx="72.8" cy="78.4" r="1.05" fill="#ffeeb8"/><circle cx="118.1" cy="66.0" r="1.81" fill="#fff4d0"/><circle cx="118.0" cy="65.8" r="1.18" fill="#ffeeb8"/><circle cx="115.3" cy="65.7" r="1.82" fill="#ffeeb8"/><circle cx="70.3" cy="90.8" r="1.26" fill="#fde3a6"/><circle cx="69.7" cy="90.6" r="1.52" fill="#ffd884"/><circle cx="70.0" cy="92.4" r="1.21" fill="#fff4d0"/><circle cx="77.7" cy="128.2" r="1.46" fill="#fff4d0"/><circle cx="78.3" cy="127.4" r="1.73" fill="#fde3a6"/><circle cx="76.7" cy="127.0" r="1.64" fill="#ffe49a"/><circle cx="68.5" cy="95.6" r="1.42" fill="#ffd884"/><circle cx="69.0" cy="96.4" r="1.59" fill="#fde3a6"/><circle cx="103.5" cy="64.0" r="1.86" fill="#ffd884"/><circle cx="102.8" cy="64.6" r="1.25" fill="#ffeeb8"/><circle cx="102.9" cy="63.4" r="1.14" fill="#fff4d0"/><circle cx="71.9" cy="116.9" r="1.19" fill="#ffd884"/><circle cx="77.1" cy="77.0" r="1.50" fill="#fde3a6"/><circle cx="77.8" cy="78.3" r="1.09" fill="#ffeeb8"/><circle cx="78.6" cy="77.4" r="1.74" fill="#fff4d0"/><circle cx="156.5" cy="121.9" r="1.76" fill="#fff4d0"/><circle cx="67.7" cy="131.5" r="1.21" fill="#ffe49a"/><circle cx="66.1" cy="130.6" r="1.06" fill="#ffeeb8"/><circle cx="73.8" cy="76.3" r="1.54" fill="#ffe49a"/><circle cx="76.4" cy="77.9" r="1.37" fill="#ffd884"/><circle cx="75.8" cy="76.8" r="1.28" fill="#fff4d0"/><circle cx="91.0" cy="70.1" r="1.13" fill="#fff4d0"/><circle cx="89.8" cy="71.7" r="1.03" fill="#fde3a6"/><circle cx="90.2" cy="71.0" r="1.46" fill="#fff4d0"/><circle cx="70.9" cy="122.2" r="1.10" fill="#fff4d0"/><circle cx="68.9" cy="124.0" r="1.08" fill="#ffeeb8"/><circle cx="69.5" cy="124.5" r="1.67" fill="#ffd884"/><circle cx="70.8" cy="87.2" r="1.65" fill="#fde3a6"/><circle cx="73.0" cy="88.8" r="1.76" fill="#fff4d0"/><circle cx="71.2" cy="89.1" r="1.82" fill="#ffd884"/><circle cx="70.2" cy="122.0" r="1.80" fill="#fde3a6"/><circle cx="71.0" cy="121.5" r="1.55" fill="#fde3a6"/><circle cx="70.1" cy="82.2" r="1.09" fill="#fff4d0"/><circle cx="72.6" cy="81.3" r="1.58" fill="#fde3a6"/><circle cx="70.1" cy="84.7" r="1.39" fill="#ffd884"/><circle cx="68.4" cy="83.4" r="1.41" fill="#fde3a6"/><circle cx="75.1" cy="127.1" r="1.78" fill="#ffeeb8"/><circle cx="75.3" cy="125.7" r="1.41" fill="#ffd884"/><circle cx="112.9" cy="87.0" r="1.71" fill="#fff4d0"/><circle cx="114.8" cy="85.4" r="1.48" fill="#ffd884"/><circle cx="111.9" cy="86.5" r="1.04" fill="#fff4d0"/><circle cx="80.1" cy="84.4" r="1.82" fill="#ffeeb8"/><circle cx="81.5" cy="84.2" r="1.53" fill="#fff4d0"/><circle cx="95.3" cy="63.2" r="1.42" fill="#ffeeb8"/><circle cx="93.3" cy="64.1" r="1.83" fill="#fde3a6"/><circle cx="110.9" cy="82.6" r="1.62" fill="#ffeeb8"/><circle cx="110.2" cy="83.0" r="1.24" fill="#ffe49a"/><circle cx="110.0" cy="80.4" r="1.05" fill="#fde3a6"/><circle cx="68.2" cy="126.6" r="1.52" fill="#fff4d0"/><circle cx="68.6" cy="127.5" r="1.67" fill="#fff4d0"/><circle cx="66.1" cy="127.6" r="1.63" fill="#ffeeb8"/><circle cx="78.0" cy="78.8" r="1.08" fill="#ffd884"/><circle cx="79.6" cy="79.0" r="1.25" fill="#fde3a6"/><circle cx="77.0" cy="78.8" r="1.87" fill="#ffe49a"/><circle cx="76.0" cy="74.1" r="1.06" fill="#ffeeb8"/><circle cx="76.5" cy="74.4" r="1.47" fill="#ffeeb8"/><circle cx="139.0" cy="72.9" r="1.20" fill="#ffeeb8"/><circle cx="137.7" cy="73.8" r="1.11" fill="#ffeeb8"/><circle cx="138.8" cy="72.0" r="1.74" fill="#fff4d0"/><circle cx="160.0" cy="107.8" r="1.13" fill="#ffe49a"/><circle cx="157.9" cy="109.0" r="1.90" fill="#fff4d0"/><circle cx="77.7" cy="117.7" r="1.42" fill="#ffeeb8"/><circle cx="87.1" cy="70.5" r="1.26" fill="#ffd884"/><circle cx="120.8" cy="61.6" r="1.57" fill="#fff4d0"/><circle cx="118.6" cy="62.1" r="1.40" fill="#fde3a6"/><circle cx="121.0" cy="60.8" r="1.08" fill="#fde3a6"/><circle cx="75.2" cy="93.1" r="1.77" fill="#fff4d0"/><circle cx="75.0" cy="94.0" r="1.81" fill="#fff4d0"/><circle cx="77.6" cy="115.7" r="1.61" fill="#ffd884"/><circle cx="154.5" cy="120.3" r="1.19" fill="#ffeeb8"/><circle cx="152.8" cy="119.3" r="1.66" fill="#fff4d0"/><circle cx="65.5" cy="123.6" r="1.49" fill="#fff4d0"/><circle cx="65.0" cy="98.4" r="1.24" fill="#ffeeb8"/><circle cx="65.3" cy="98.9" r="1.44" fill="#ffe49a"/><circle cx="65.2" cy="96.4" r="1.86" fill="#fff4d0"/><circle cx="90.5" cy="76.7" r="1.41" fill="#ffd884"/><circle cx="112.0" cy="63.9" r="1.21" fill="#ffe49a"/><circle cx="112.2" cy="62.3" r="1.00" fill="#fde3a6"/><circle cx="109.8" cy="61.1" r="1.46" fill="#ffeeb8"/><circle cx="83.7" cy="78.5" r="1.43" fill="#fff4d0"/><circle cx="83.3" cy="76.9" r="1.65" fill="#ffe49a"/><circle cx="85.3" cy="78.9" r="1.48" fill="#fff4d0"/><circle cx="81.4" cy="90.9" r="1.61" fill="#fff4d0"/><circle cx="80.6" cy="90.7" r="1.90" fill="#ffd884"/><circle cx="81.6" cy="91.1" r="1.39" fill="#ffd884"/><circle cx="127.2" cy="85.3" r="1.50" fill="#fde3a6"/><circle cx="96.5" cy="75.2" r="1.33" fill="#ffd884"/><circle cx="94.6" cy="73.1" r="1.62" fill="#fde3a6"/><circle cx="89.6" cy="81.5" r="1.43" fill="#ffd884"/><circle cx="90.7" cy="81.3" r="1.75" fill="#fff4d0"/><circle cx="62.6" cy="113.7" r="1.66" fill="#fde3a6"/><circle cx="60.7" cy="111.9" r="1.15" fill="#ffe49a"/><circle cx="69.0" cy="90.9" r="1.65" fill="#ffd884"/><circle cx="70.1" cy="125.6" r="1.77" fill="#fff4d0"/><circle cx="70.0" cy="128.1" r="1.61" fill="#fff4d0"/><circle cx="77.0" cy="78.9" r="1.82" fill="#ffeeb8"/><circle cx="80.0" cy="121.7" r="1.48" fill="#ffe49a"/><circle cx="79.7" cy="121.6" r="1.14" fill="#ffd884"/><circle cx="81.1" cy="123.8" r="1.54" fill="#ffd884"/><circle cx="62.8" cy="111.6" r="1.52" fill="#ffd884"/><circle cx="61.7" cy="114.1" r="1.89" fill="#ffe49a"/><circle cx="111.8" cy="66.4" r="1.34" fill="#ffd884"/><circle cx="111.0" cy="67.5" r="1.85" fill="#ffeeb8"/><circle cx="110.5" cy="66.3" r="1.04" fill="#fff4d0"/><circle cx="132.1" cy="70.0" r="1.50" fill="#ffd884"/><circle cx="131.3" cy="69.7" r="1.74" fill="#ffeeb8"/><circle cx="131.5" cy="70.0" r="1.55" fill="#ffe49a"/><circle cx="158.8" cy="96.5" r="1.05" fill="#ffd884"/><circle cx="158.2" cy="97.3" r="1.25" fill="#ffd884"/><circle cx="156.5" cy="95.8" r="1.61" fill="#ffe49a"/><circle cx="72.9" cy="102.4" r="1.45" fill="#fff4d0"/><circle cx="126.8" cy="67.9" r="1.90" fill="#fde3a6"/><circle cx="145.1" cy="84.8" r="1.17" fill="#fff4d0"/><circle cx="143.6" cy="84.6" r="1.75" fill="#fff4d0"/><circle cx="143.1" cy="84.7" r="1.33" fill="#ffe49a"/><circle cx="120.3" cy="82.2" r="1.89" fill="#ffeeb8"/><circle cx="69.0" cy="119.6" r="1.43" fill="#ffe49a"/><circle cx="144.5" cy="126.1" r="1.70" fill="#ffd884"/><circle cx="144.7" cy="128.0" r="1.60" fill="#ffe49a"/><circle cx="147.1" cy="127.6" r="1.54" fill="#fde3a6"/><circle cx="108.3" cy="67.2" r="1.87" fill="#ffd884"/><circle cx="106.2" cy="66.5" r="1.87" fill="#ffe49a"/><circle cx="69.7" cy="84.3" r="1.20" fill="#fde3a6"/><circle cx="87.6" cy="79.3" r="1.60" fill="#fff4d0"/><circle cx="87.5" cy="78.4" r="1.49" fill="#ffeeb8"/></g>
<g opacity="0.8"><circle cx="96.5" cy="64.4" r="0.88" fill="#e86a50"/><circle cx="98.3" cy="64.5" r="0.72" fill="#d8322a"/><circle cx="96.1" cy="64.6" r="0.75" fill="#d8322a"/><circle cx="99.0" cy="65.0" r="0.66" fill="#d8322a"/><circle cx="78.1" cy="73.2" r="0.78" fill="#e0483a"/><circle cx="76.1" cy="74.2" r="0.56" fill="#f08a60"/><circle cx="74.7" cy="129.1" r="0.62" fill="#e86a50"/><circle cx="73.8" cy="128.3" r="0.72" fill="#c82820"/><circle cx="137.0" cy="70.6" r="0.67" fill="#e0483a"/><circle cx="139.3" cy="72.4" r="0.92" fill="#e0483a"/><circle cx="138.9" cy="69.5" r="0.90" fill="#e0483a"/><circle cx="140.2" cy="70.9" r="0.56" fill="#d8322a"/><circle cx="64.0" cy="91.3" r="0.79" fill="#e0483a"/><circle cx="66.1" cy="93.9" r="0.84" fill="#e86a50"/><circle cx="64.7" cy="90.7" r="0.68" fill="#e86a50"/><circle cx="106.5" cy="76.4" r="0.59" fill="#c82820"/><circle cx="107.6" cy="74.3" r="0.83" fill="#f08a60"/><circle cx="108.4" cy="75.0" r="0.72" fill="#f08a60"/><circle cx="108.3" cy="73.9" r="0.58" fill="#e0483a"/><circle cx="148.2" cy="127.3" r="0.78" fill="#d8322a"/><circle cx="147.2" cy="127.5" r="0.72" fill="#c82820"/><circle cx="147.4" cy="128.1" r="0.73" fill="#d8322a"/><circle cx="138.2" cy="80.5" r="0.56" fill="#d8322a"/><circle cx="139.9" cy="80.3" r="0.57" fill="#d8322a"/><circle cx="118.1" cy="62.5" r="0.77" fill="#c82820"/><circle cx="119.6" cy="62.3" r="0.67" fill="#c82820"/><circle cx="119.7" cy="63.1" r="0.82" fill="#d8322a"/><circle cx="118.4" cy="61.1" r="0.57" fill="#c82820"/><circle cx="136.6" cy="79.2" r="0.85" fill="#e86a50"/><circle cx="137.5" cy="78.9" r="0.82" fill="#e86a50"/><circle cx="136.5" cy="81.1" r="0.66" fill="#d8322a"/><circle cx="131.0" cy="93.1" r="0.61" fill="#c82820"/><circle cx="130.6" cy="91.0" r="0.55" fill="#c82820"/><circle cx="128.4" cy="90.5" r="0.88" fill="#e0483a"/><circle cx="131.0" cy="90.7" r="0.91" fill="#d8322a"/><circle cx="101.4" cy="87.7" r="0.69" fill="#e0483a"/><circle cx="98.7" cy="84.5" r="0.91" fill="#e86a50"/><circle cx="101.1" cy="85.2" r="0.87" fill="#f08a60"/><circle cx="99.6" cy="84.9" r="0.55" fill="#f08a60"/><circle cx="75.0" cy="106.0" r="0.67" fill="#e0483a"/><circle cx="73.3" cy="104.0" r="0.56" fill="#f08a60"/><circle cx="73.6" cy="106.0" r="0.67" fill="#d8322a"/><circle cx="75.4" cy="103.8" r="0.83" fill="#c82820"/><circle cx="126.5" cy="65.9" r="0.74" fill="#c82820"/><circle cx="125.3" cy="65.2" r="0.63" fill="#f08a60"/><circle cx="128.8" cy="67.4" r="0.60" fill="#d8322a"/><circle cx="127.5" cy="68.1" r="0.57" fill="#e86a50"/><circle cx="147.9" cy="85.1" r="0.90" fill="#c82820"/><circle cx="150.3" cy="84.4" r="0.76" fill="#d8322a"/><circle cx="148.6" cy="85.4" r="0.80" fill="#f08a60"/><circle cx="121.7" cy="78.5" r="0.61" fill="#e86a50"/><circle cx="120.3" cy="78.2" r="0.85" fill="#d8322a"/><circle cx="110.4" cy="76.9" r="0.59" fill="#f08a60"/><circle cx="109.7" cy="76.9" r="0.58" fill="#c82820"/><circle cx="112.2" cy="80.3" r="0.86" fill="#e86a50"/><circle cx="81.6" cy="115.7" r="0.58" fill="#e0483a"/><circle cx="80.1" cy="113.4" r="0.92" fill="#c82820"/><circle cx="80.6" cy="113.4" r="0.86" fill="#d8322a"/><circle cx="79.8" cy="116.3" r="0.85" fill="#e0483a"/><circle cx="83.1" cy="68.7" r="0.90" fill="#e0483a"/><circle cx="85.2" cy="66.8" r="0.83" fill="#e0483a"/><circle cx="85.2" cy="66.6" r="0.59" fill="#e0483a"/><circle cx="83.6" cy="68.4" r="0.58" fill="#e0483a"/><circle cx="79.4" cy="74.5" r="0.86" fill="#e86a50"/><circle cx="79.4" cy="75.3" r="0.93" fill="#d8322a"/><circle cx="149.1" cy="81.3" r="0.67" fill="#e0483a"/><circle cx="149.0" cy="81.3" r="0.92" fill="#e86a50"/><circle cx="150.0" cy="81.1" r="0.89" fill="#c82820"/><circle cx="149.4" cy="80.7" r="0.66" fill="#c82820"/><circle cx="70.9" cy="75.6" r="0.78" fill="#c82820"/><circle cx="71.8" cy="75.9" r="0.65" fill="#c82820"/><circle cx="134.4" cy="83.5" r="0.83" fill="#e86a50"/><circle cx="134.9" cy="85.5" r="0.86" fill="#e0483a"/><circle cx="156.4" cy="121.1" r="0.74" fill="#c82820"/><circle cx="156.7" cy="121.8" r="0.87" fill="#c82820"/><circle cx="157.8" cy="120.4" r="0.70" fill="#c82820"/><circle cx="155.8" cy="122.8" r="0.69" fill="#c82820"/><circle cx="69.9" cy="128.2" r="0.70" fill="#e86a50"/><circle cx="71.0" cy="128.7" r="0.57" fill="#e0483a"/><circle cx="69.5" cy="125.5" r="0.65" fill="#e0483a"/><circle cx="77.6" cy="114.3" r="0.65" fill="#c82820"/><circle cx="79.7" cy="113.7" r="0.88" fill="#e86a50"/><circle cx="71.9" cy="126.9" r="0.76" fill="#f08a60"/><circle cx="70.2" cy="125.5" r="0.71" fill="#d8322a"/><circle cx="136.5" cy="72.5" r="0.76" fill="#d8322a"/><circle cx="138.0" cy="73.2" r="0.59" fill="#f08a60"/><circle cx="90.7" cy="62.6" r="0.70" fill="#d8322a"/><circle cx="91.7" cy="62.5" r="0.64" fill="#f08a60"/><circle cx="116.5" cy="66.8" r="0.62" fill="#f08a60"/><circle cx="117.6" cy="69.4" r="0.78" fill="#e86a50"/><circle cx="114.4" cy="69.4" r="0.79" fill="#d8322a"/><circle cx="137.6" cy="69.9" r="0.84" fill="#e86a50"/><circle cx="137.4" cy="72.0" r="0.68" fill="#f08a60"/><circle cx="136.6" cy="89.3" r="0.77" fill="#f08a60"/><circle cx="134.2" cy="89.5" r="0.77" fill="#d8322a"/><circle cx="134.3" cy="89.7" r="0.82" fill="#c82820"/><circle cx="135.9" cy="90.9" r="0.65" fill="#e0483a"/><circle cx="84.0" cy="66.5" r="0.81" fill="#e0483a"/><circle cx="83.1" cy="69.1" r="0.93" fill="#c82820"/><circle cx="85.3" cy="67.3" r="0.84" fill="#f08a60"/><circle cx="73.6" cy="109.2" r="0.66" fill="#e0483a"/><circle cx="73.7" cy="110.7" r="0.80" fill="#e86a50"/><circle cx="78.8" cy="84.2" r="0.80" fill="#f08a60"/><circle cx="80.2" cy="82.2" r="0.93" fill="#e0483a"/><circle cx="78.1" cy="83.8" r="0.69" fill="#d8322a"/><circle cx="109.0" cy="76.5" r="0.77" fill="#e0483a"/><circle cx="110.6" cy="76.3" r="0.59" fill="#c82820"/><circle cx="110.9" cy="75.1" r="0.93" fill="#c82820"/><circle cx="108.5" cy="75.2" r="0.59" fill="#d8322a"/><circle cx="69.4" cy="96.1" r="0.69" fill="#d8322a"/><circle cx="70.7" cy="97.1" r="0.86" fill="#e0483a"/><circle cx="101.6" cy="61.4" r="0.69" fill="#e86a50"/><circle cx="99.1" cy="60.0" r="0.69" fill="#c82820"/><circle cx="101.9" cy="59.6" r="0.82" fill="#e86a50"/><circle cx="146.8" cy="124.5" r="0.62" fill="#e86a50"/><circle cx="146.6" cy="126.5" r="0.56" fill="#c82820"/><circle cx="149.9" cy="124.9" r="0.88" fill="#e86a50"/><circle cx="148.4" cy="126.9" r="0.61" fill="#d8322a"/><circle cx="69.7" cy="81.3" r="0.64" fill="#f08a60"/><circle cx="68.9" cy="80.9" r="0.84" fill="#c82820"/><circle cx="69.9" cy="79.9" r="0.60" fill="#f08a60"/><circle cx="138.1" cy="70.1" r="0.91" fill="#e0483a"/><circle cx="138.5" cy="71.1" r="0.84" fill="#f08a60"/><circle cx="138.4" cy="70.6" r="0.57" fill="#e86a50"/><circle cx="71.4" cy="96.3" r="0.88" fill="#f08a60"/><circle cx="70.9" cy="96.4" r="0.73" fill="#c82820"/><circle cx="70.9" cy="98.8" r="0.72" fill="#d8322a"/><circle cx="119.6" cy="77.8" r="0.87" fill="#e0483a"/><circle cx="119.7" cy="75.5" r="0.86" fill="#d8322a"/><circle cx="118.3" cy="76.8" r="0.56" fill="#f08a60"/><circle cx="119.3" cy="75.5" r="0.60" fill="#e0483a"/><circle cx="132.5" cy="90.0" r="0.68" fill="#c82820"/><circle cx="132.5" cy="91.0" r="0.69" fill="#c82820"/><circle cx="80.7" cy="85.2" r="0.86" fill="#e86a50"/><circle cx="80.1" cy="83.4" r="0.87" fill="#e86a50"/><circle cx="81.8" cy="82.2" r="0.66" fill="#e86a50"/><circle cx="78.5" cy="85.0" r="0.86" fill="#f08a60"/><circle cx="149.7" cy="86.8" r="0.58" fill="#e0483a"/><circle cx="148.0" cy="86.8" r="0.91" fill="#f08a60"/><circle cx="123.2" cy="70.2" r="0.56" fill="#d8322a"/><circle cx="122.5" cy="70.3" r="0.61" fill="#c82820"/><circle cx="96.9" cy="82.9" r="0.79" fill="#c82820"/><circle cx="100.1" cy="85.1" r="0.63" fill="#e86a50"/><circle cx="99.2" cy="83.2" r="0.56" fill="#e86a50"/><circle cx="99.3" cy="84.6" r="0.59" fill="#d8322a"/><circle cx="107.3" cy="58.8" r="0.74" fill="#e86a50"/><circle cx="105.9" cy="59.0" r="0.91" fill="#f08a60"/><circle cx="124.2" cy="71.3" r="0.70" fill="#c82820"/><circle cx="124.8" cy="68.3" r="0.73" fill="#e86a50"/><circle cx="126.8" cy="69.7" r="0.61" fill="#e0483a"/><circle cx="126.1" cy="69.6" r="0.65" fill="#d8322a"/><circle cx="68.5" cy="129.2" r="0.88" fill="#f08a60"/><circle cx="67.8" cy="129.6" r="0.89" fill="#f08a60"/><circle cx="136.9" cy="82.3" r="0.88" fill="#e86a50"/><circle cx="135.8" cy="82.3" r="0.57" fill="#e0483a"/><circle cx="135.2" cy="81.8" r="0.67" fill="#e0483a"/><circle cx="134.8" cy="80.5" r="0.58" fill="#d8322a"/><circle cx="70.4" cy="98.2" r="0.88" fill="#e0483a"/><circle cx="69.0" cy="99.7" r="0.59" fill="#d8322a"/><circle cx="70.0" cy="98.8" r="0.87" fill="#d8322a"/><circle cx="69.6" cy="98.2" r="0.94" fill="#d8322a"/><circle cx="84.1" cy="95.1" r="0.73" fill="#e86a50"/><circle cx="84.3" cy="94.0" r="0.83" fill="#e86a50"/><circle cx="106.0" cy="71.9" r="0.60" fill="#f08a60"/><circle cx="105.4" cy="72.7" r="0.74" fill="#e86a50"/><circle cx="103.1" cy="71.8" r="0.73" fill="#e0483a"/><circle cx="102.6" cy="70.8" r="0.90" fill="#e0483a"/><circle cx="73.9" cy="79.4" r="0.94" fill="#c82820"/><circle cx="74.5" cy="81.4" r="0.87" fill="#f08a60"/><circle cx="75.6" cy="78.5" r="0.95" fill="#c82820"/><circle cx="140.9" cy="72.0" r="0.56" fill="#e86a50"/><circle cx="143.4" cy="74.2" r="0.76" fill="#f08a60"/><circle cx="140.5" cy="72.0" r="0.61" fill="#d8322a"/><circle cx="133.1" cy="75.5" r="0.69" fill="#c82820"/><circle cx="133.1" cy="75.2" r="0.91" fill="#d8322a"/><circle cx="134.0" cy="75.9" r="0.85" fill="#e0483a"/><circle cx="100.0" cy="70.1" r="0.93" fill="#e0483a"/><circle cx="101.7" cy="69.7" r="0.63" fill="#e0483a"/><circle cx="62.3" cy="99.4" r="0.94" fill="#f08a60"/><circle cx="64.4" cy="100.3" r="0.86" fill="#d8322a"/><circle cx="64.5" cy="98.5" r="0.76" fill="#e0483a"/><circle cx="65.4" cy="99.6" r="0.67" fill="#e86a50"/><circle cx="133.1" cy="64.5" r="0.79" fill="#f08a60"/><circle cx="131.0" cy="64.5" r="0.71" fill="#e0483a"/><circle cx="112.7" cy="82.1" r="0.64" fill="#f08a60"/><circle cx="115.2" cy="81.8" r="0.65" fill="#f08a60"/><circle cx="114.6" cy="82.5" r="0.63" fill="#f08a60"/><circle cx="95.7" cy="69.3" r="0.69" fill="#f08a60"/><circle cx="94.6" cy="70.2" r="0.93" fill="#c82820"/><circle cx="95.6" cy="67.3" r="0.83" fill="#e86a50"/><circle cx="95.1" cy="69.3" r="0.57" fill="#c82820"/><circle cx="89.3" cy="71.4" r="0.68" fill="#f08a60"/><circle cx="89.1" cy="69.9" r="0.85" fill="#f08a60"/><circle cx="133.5" cy="79.5" r="0.68" fill="#e86a50"/><circle cx="134.5" cy="82.4" r="0.67" fill="#e0483a"/><circle cx="137.6" cy="75.2" r="0.58" fill="#f08a60"/><circle cx="135.8" cy="75.7" r="0.88" fill="#e86a50"/><circle cx="110.4" cy="85.4" r="0.80" fill="#e0483a"/><circle cx="109.8" cy="83.6" r="0.69" fill="#e0483a"/><circle cx="108.2" cy="83.2" r="0.82" fill="#e0483a"/><circle cx="107.9" cy="84.6" r="0.56" fill="#c82820"/><circle cx="80.3" cy="98.0" r="0.88" fill="#d8322a"/><circle cx="80.8" cy="95.6" r="0.91" fill="#e86a50"/><circle cx="78.4" cy="94.9" r="0.56" fill="#d8322a"/><circle cx="93.5" cy="81.4" r="0.86" fill="#d8322a"/><circle cx="92.0" cy="82.0" r="0.80" fill="#c82820"/><circle cx="117.5" cy="80.8" r="0.57" fill="#d8322a"/><circle cx="119.6" cy="78.8" r="0.94" fill="#f08a60"/><circle cx="140.3" cy="68.6" r="0.68" fill="#f08a60"/><circle cx="138.6" cy="69.3" r="0.81" fill="#c82820"/><circle cx="137.0" cy="69.5" r="0.59" fill="#c82820"/><circle cx="108.3" cy="67.2" r="0.92" fill="#e86a50"/><circle cx="109.9" cy="69.9" r="0.76" fill="#c82820"/><circle cx="109.0" cy="69.1" r="0.91" fill="#e0483a"/><circle cx="154.7" cy="88.5" r="0.81" fill="#e0483a"/><circle cx="155.6" cy="88.7" r="0.60" fill="#e86a50"/><circle cx="154.3" cy="89.1" r="0.75" fill="#c82820"/><circle cx="156.6" cy="88.9" r="0.80" fill="#e0483a"/><circle cx="82.1" cy="69.2" r="0.61" fill="#e0483a"/><circle cx="80.9" cy="70.5" r="0.93" fill="#f08a60"/><circle cx="81.8" cy="70.7" r="0.83" fill="#d8322a"/><circle cx="82.9" cy="71.8" r="0.95" fill="#f08a60"/><circle cx="154.2" cy="89.8" r="0.79" fill="#e86a50"/><circle cx="154.1" cy="90.7" r="0.90" fill="#e0483a"/><circle cx="156.8" cy="92.2" r="0.74" fill="#d8322a"/><circle cx="155.4" cy="89.3" r="0.72" fill="#e86a50"/><circle cx="127.5" cy="62.1" r="0.86" fill="#f08a60"/><circle cx="125.9" cy="64.2" r="0.83" fill="#d8322a"/><circle cx="127.0" cy="63.9" r="0.85" fill="#f08a60"/><circle cx="129.0" cy="63.2" r="0.55" fill="#e86a50"/><circle cx="67.1" cy="126.7" r="0.74" fill="#f08a60"/><circle cx="68.1" cy="126.1" r="0.65" fill="#d8322a"/><circle cx="68.6" cy="128.5" r="0.67" fill="#e86a50"/><circle cx="66.3" cy="126.3" r="0.61" fill="#e86a50"/><circle cx="81.5" cy="113.9" r="0.87" fill="#d8322a"/><circle cx="80.9" cy="116.5" r="0.80" fill="#c82820"/><circle cx="74.1" cy="92.2" r="0.86" fill="#d8322a"/><circle cx="73.7" cy="91.4" r="0.84" fill="#e86a50"/><circle cx="120.3" cy="87.2" r="0.67" fill="#f08a60"/><circle cx="120.2" cy="87.3" r="0.84" fill="#f08a60"/><circle cx="137.8" cy="83.2" r="0.91" fill="#e0483a"/><circle cx="137.0" cy="84.8" r="0.82" fill="#e0483a"/><circle cx="139.0" cy="84.7" r="0.68" fill="#d8322a"/><circle cx="99.4" cy="64.0" r="0.58" fill="#e0483a"/><circle cx="99.6" cy="62.4" r="0.62" fill="#d8322a"/><circle cx="79.4" cy="122.8" r="0.77" fill="#d8322a"/><circle cx="80.0" cy="122.3" r="0.86" fill="#d8322a"/><circle cx="79.9" cy="124.6" r="0.73" fill="#e0483a"/><circle cx="79.4" cy="123.7" r="0.91" fill="#d8322a"/><circle cx="143.2" cy="85.9" r="0.61" fill="#c82820"/><circle cx="146.5" cy="85.6" r="0.68" fill="#d8322a"/><circle cx="146.7" cy="87.5" r="0.77" fill="#e86a50"/><circle cx="138.8" cy="73.5" r="0.93" fill="#e86a50"/><circle cx="138.4" cy="75.1" r="0.78" fill="#d8322a"/><circle cx="141.2" cy="74.8" r="0.74" fill="#c82820"/><circle cx="148.1" cy="89.1" r="0.74" fill="#e86a50"/><circle cx="148.2" cy="89.5" r="0.60" fill="#e86a50"/><circle cx="149.2" cy="88.6" r="0.81" fill="#d8322a"/><circle cx="147.4" cy="90.6" r="0.86" fill="#f08a60"/><circle cx="142.1" cy="76.8" r="0.66" fill="#e0483a"/><circle cx="140.9" cy="76.9" r="0.71" fill="#e86a50"/><circle cx="142.6" cy="80.1" r="0.72" fill="#c82820"/><circle cx="143.9" cy="80.0" r="0.63" fill="#e86a50"/><circle cx="109.1" cy="72.3" r="0.92" fill="#c82820"/><circle cx="108.6" cy="71.6" r="0.94" fill="#e0483a"/><circle cx="108.0" cy="71.1" r="0.82" fill="#c82820"/><circle cx="106.8" cy="69.8" r="0.55" fill="#e86a50"/><circle cx="141.7" cy="87.2" r="0.89" fill="#f08a60"/><circle cx="140.0" cy="86.1" r="0.75" fill="#d8322a"/><circle cx="138.9" cy="84.8" r="0.59" fill="#f08a60"/><circle cx="74.9" cy="130.8" r="0.63" fill="#e0483a"/><circle cx="75.4" cy="132.5" r="0.66" fill="#e86a50"/><circle cx="110.6" cy="70.1" r="0.68" fill="#f08a60"/><circle cx="109.5" cy="66.8" r="0.75" fill="#e86a50"/><circle cx="109.6" cy="69.2" r="0.58" fill="#c82820"/><circle cx="109.3" cy="67.8" r="0.78" fill="#c82820"/><circle cx="136.1" cy="76.1" r="0.92" fill="#e86a50"/><circle cx="135.5" cy="74.2" r="0.68" fill="#e0483a"/><circle cx="133.4" cy="74.5" r="0.78" fill="#e86a50"/><circle cx="133.4" cy="74.3" r="0.60" fill="#c82820"/><circle cx="154.5" cy="88.5" r="0.60" fill="#d8322a"/><circle cx="152.6" cy="89.9" r="0.71" fill="#d8322a"/><circle cx="154.1" cy="91.9" r="0.91" fill="#f08a60"/><circle cx="153.8" cy="91.8" r="0.74" fill="#e86a50"/><circle cx="83.6" cy="94.8" r="0.88" fill="#e0483a"/><circle cx="83.7" cy="93.8" r="0.78" fill="#e0483a"/><circle cx="81.5" cy="95.9" r="0.65" fill="#d8322a"/><circle cx="80.3" cy="93.7" r="0.86" fill="#f08a60"/><circle cx="74.9" cy="85.1" r="0.81" fill="#f08a60"/><circle cx="75.7" cy="85.7" r="0.72" fill="#e0483a"/><circle cx="74.6" cy="86.4" r="0.61" fill="#f08a60"/><circle cx="87.3" cy="120.1" r="0.65" fill="#f08a60"/><circle cx="88.0" cy="120.1" r="0.57" fill="#f08a60"/><circle cx="148.6" cy="91.9" r="0.60" fill="#d8322a"/><circle cx="151.0" cy="90.3" r="0.65" fill="#e0483a"/><circle cx="151.0" cy="91.4" r="0.77" fill="#d8322a"/><circle cx="126.1" cy="78.6" r="0.78" fill="#e86a50"/><circle cx="125.5" cy="78.4" r="0.80" fill="#f08a60"/><circle cx="125.3" cy="78.1" r="0.74" fill="#d8322a"/><circle cx="125.0" cy="78.9" r="0.73" fill="#f08a60"/><circle cx="69.0" cy="89.8" r="0.58" fill="#e0483a"/><circle cx="69.4" cy="90.8" r="0.89" fill="#c82820"/><circle cx="71.1" cy="88.6" r="0.91" fill="#d8322a"/><circle cx="69.8" cy="89.2" r="0.88" fill="#d8322a"/><circle cx="72.2" cy="116.7" r="0.83" fill="#c82820"/><circle cx="73.2" cy="115.0" r="0.78" fill="#e86a50"/><circle cx="70.7" cy="116.6" r="0.90" fill="#e0483a"/><circle cx="148.0" cy="84.8" r="0.77" fill="#e0483a"/><circle cx="145.7" cy="83.2" r="0.65" fill="#d8322a"/><circle cx="148.6" cy="84.5" r="0.75" fill="#e86a50"/><circle cx="129.2" cy="87.0" r="0.79" fill="#d8322a"/><circle cx="127.2" cy="87.2" r="0.56" fill="#d8322a"/><circle cx="127.8" cy="87.2" r="0.91" fill="#f08a60"/><circle cx="147.5" cy="79.6" r="0.59" fill="#c82820"/><circle cx="148.7" cy="77.0" r="0.79" fill="#d8322a"/><circle cx="76.4" cy="128.0" r="0.66" fill="#e0483a"/><circle cx="78.6" cy="125.5" r="0.93" fill="#e86a50"/><circle cx="76.3" cy="127.3" r="0.73" fill="#d8322a"/><circle cx="75.1" cy="128.9" r="0.86" fill="#c82820"/><circle cx="146.0" cy="89.3" r="0.64" fill="#d8322a"/><circle cx="146.6" cy="88.3" r="0.62" fill="#d8322a"/><circle cx="145.3" cy="89.6" r="0.95" fill="#e0483a"/><circle cx="138.4" cy="81.9" r="0.65" fill="#c82820"/><circle cx="139.4" cy="79.6" r="0.93" fill="#d03a30"/><circle cx="140.1" cy="81.0" r="0.95" fill="#e0483a"/><circle cx="140.3" cy="80.6" r="0.91" fill="#d8322a"/><circle cx="72.1" cy="115.2" r="0.67" fill="#b82018"/><circle cx="71.3" cy="112.3" r="0.76" fill="#e86a50"/><circle cx="71.9" cy="115.4" r="0.65" fill="#c82820"/><circle cx="74.0" cy="112.8" r="0.86" fill="#d8322a"/><circle cx="155.0" cy="125.2" r="0.73" fill="#e0483a"/><circle cx="151.8" cy="124.9" r="0.62" fill="#d8322a"/><circle cx="154.4" cy="126.4" r="0.76" fill="#d03a30"/><circle cx="122.3" cy="70.5" r="0.88" fill="#b82018"/><circle cx="122.0" cy="72.5" r="0.78" fill="#c82820"/><circle cx="123.4" cy="72.4" r="0.73" fill="#e0483a"/><circle cx="123.1" cy="71.6" r="0.94" fill="#b82018"/><circle cx="123.6" cy="69.9" r="0.73" fill="#c82820"/><circle cx="146.1" cy="135.8" r="0.76" fill="#d8322a"/><circle cx="148.3" cy="135.5" r="0.82" fill="#b82018"/><circle cx="144.6" cy="135.3" r="0.80" fill="#d8322a"/><circle cx="148.7" cy="133.5" r="0.70" fill="#e86a50"/><circle cx="147.9" cy="135.2" r="0.55" fill="#c82820"/><circle cx="109.5" cy="65.7" r="0.79" fill="#d03a30"/><circle cx="110.1" cy="67.3" r="0.63" fill="#d8322a"/><circle cx="108.0" cy="65.9" r="0.68" fill="#d8322a"/><circle cx="112.0" cy="63.8" r="0.68" fill="#e86a50"/><circle cx="111.6" cy="67.2" r="0.58" fill="#b82018"/><circle cx="70.0" cy="112.9" r="0.87" fill="#c82820"/><circle cx="68.3" cy="111.2" r="0.89" fill="#e86a50"/><circle cx="67.1" cy="112.9" r="0.61" fill="#d8322a"/><circle cx="70.0" cy="98.4" r="0.89" fill="#c82820"/><circle cx="70.2" cy="97.0" r="0.58" fill="#e86a50"/><circle cx="68.1" cy="98.1" r="0.83" fill="#c82820"/><circle cx="72.2" cy="98.2" r="0.75" fill="#d8322a"/><circle cx="72.2" cy="98.9" r="0.76" fill="#e0483a"/><circle cx="104.7" cy="58.3" r="0.86" fill="#b82018"/><circle cx="105.6" cy="60.1" r="0.58" fill="#d8322a"/><circle cx="106.5" cy="59.0" r="0.56" fill="#e0483a"/><circle cx="68.3" cy="95.5" r="0.60" fill="#c82820"/><circle cx="69.9" cy="97.7" r="0.71" fill="#d03a30"/><circle cx="69.1" cy="96.2" r="0.62" fill="#d8322a"/><circle cx="64.6" cy="112.3" r="0.89" fill="#d8322a"/><circle cx="66.4" cy="112.8" r="0.78" fill="#c82820"/><circle cx="66.4" cy="110.2" r="0.93" fill="#c82820"/><circle cx="65.1" cy="111.5" r="0.73" fill="#e0483a"/><circle cx="121.3" cy="66.4" r="0.82" fill="#d8322a"/><circle cx="121.8" cy="68.3" r="0.76" fill="#b82018"/><circle cx="121.0" cy="70.5" r="0.71" fill="#b82018"/><circle cx="66.1" cy="120.3" r="0.66" fill="#e86a50"/><circle cx="69.1" cy="119.9" r="0.88" fill="#c82820"/><circle cx="68.0" cy="122.5" r="0.90" fill="#d03a30"/><circle cx="122.0" cy="63.3" r="0.93" fill="#b82018"/><circle cx="121.0" cy="67.2" r="0.55" fill="#e86a50"/><circle cx="123.5" cy="66.2" r="0.59" fill="#e86a50"/><circle cx="74.6" cy="82.9" r="0.89" fill="#b82018"/><circle cx="76.2" cy="82.5" r="0.73" fill="#d03a30"/><circle cx="76.1" cy="82.9" r="0.79" fill="#d03a30"/><circle cx="77.1" cy="84.0" r="0.71" fill="#c82820"/><circle cx="124.4" cy="63.6" r="0.74" fill="#e0483a"/><circle cx="127.5" cy="62.1" r="0.65" fill="#c82820"/><circle cx="124.8" cy="64.8" r="0.82" fill="#b82018"/><circle cx="125.1" cy="61.0" r="0.74" fill="#d8322a"/><circle cx="128.5" cy="62.4" r="0.62" fill="#b82018"/><circle cx="155.8" cy="94.9" r="0.91" fill="#e86a50"/><circle cx="155.0" cy="93.1" r="0.79" fill="#d03a30"/><circle cx="155.0" cy="91.8" r="0.69" fill="#e0483a"/><circle cx="158.5" cy="94.5" r="0.68" fill="#c82820"/><circle cx="94.9" cy="68.5" r="0.67" fill="#c82820"/><circle cx="95.4" cy="69.4" r="0.68" fill="#c82820"/><circle cx="94.3" cy="67.9" r="0.74" fill="#e86a50"/><circle cx="93.8" cy="66.7" r="0.77" fill="#d8322a"/><circle cx="93.7" cy="69.7" r="0.89" fill="#d8322a"/><circle cx="149.0" cy="129.4" r="0.69" fill="#e0483a"/><circle cx="151.7" cy="129.9" r="0.88" fill="#d8322a"/><circle cx="149.7" cy="128.7" r="0.77" fill="#c82820"/><circle cx="148.9" cy="131.2" r="0.58" fill="#d03a30"/><circle cx="151.3" cy="128.5" r="0.68" fill="#d8322a"/><circle cx="78.0" cy="76.4" r="0.87" fill="#b82018"/><circle cx="75.1" cy="76.5" r="0.57" fill="#e86a50"/><circle cx="74.8" cy="76.7" r="0.59" fill="#e86a50"/><circle cx="77.4" cy="75.7" r="0.81" fill="#b82018"/><circle cx="68.8" cy="125.3" r="0.57" fill="#b82018"/><circle cx="67.7" cy="126.7" r="0.65" fill="#b82018"/><circle cx="67.5" cy="123.6" r="0.94" fill="#d03a30"/><circle cx="66.8" cy="126.0" r="0.94" fill="#c82820"/><circle cx="154.4" cy="120.1" r="0.82" fill="#d03a30"/><circle cx="152.9" cy="120.7" r="0.70" fill="#d8322a"/><circle cx="154.3" cy="120.6" r="0.82" fill="#d8322a"/><circle cx="103.5" cy="69.0" r="0.57" fill="#b82018"/><circle cx="101.2" cy="69.1" r="0.68" fill="#e86a50"/><circle cx="102.0" cy="67.3" r="0.83" fill="#b82018"/><circle cx="101.6" cy="67.4" r="0.75" fill="#e86a50"/><circle cx="103.7" cy="67.6" r="0.79" fill="#e0483a"/><circle cx="120.1" cy="91.8" r="0.68" fill="#e86a50"/><circle cx="119.7" cy="91.8" r="0.71" fill="#e86a50"/><circle cx="120.2" cy="90.9" r="0.88" fill="#d8322a"/><circle cx="63.9" cy="120.9" r="0.75" fill="#e86a50"/><circle cx="62.6" cy="120.4" r="0.81" fill="#d8322a"/><circle cx="63.6" cy="119.2" r="0.94" fill="#d03a30"/><circle cx="63.2" cy="121.1" r="0.70" fill="#e86a50"/><circle cx="61.4" cy="121.5" r="0.86" fill="#d03a30"/><circle cx="128.0" cy="67.7" r="0.66" fill="#b82018"/><circle cx="125.4" cy="70.3" r="0.67" fill="#b82018"/><circle cx="124.2" cy="71.2" r="0.84" fill="#d8322a"/><circle cx="123.8" cy="68.7" r="0.65" fill="#c82820"/><circle cx="125.5" cy="67.2" r="0.56" fill="#b82018"/><circle cx="95.0" cy="69.9" r="0.88" fill="#c82820"/><circle cx="93.7" cy="67.6" r="0.88" fill="#b82018"/><circle cx="92.7" cy="67.7" r="0.77" fill="#e86a50"/><circle cx="146.9" cy="88.6" r="0.68" fill="#d8322a"/><circle cx="146.8" cy="90.3" r="0.70" fill="#e0483a"/><circle cx="147.9" cy="90.7" r="0.88" fill="#d8322a"/><circle cx="155.7" cy="92.9" r="0.67" fill="#d03a30"/><circle cx="152.5" cy="90.0" r="0.58" fill="#d03a30"/><circle cx="155.6" cy="89.4" r="0.69" fill="#d03a30"/><circle cx="152.7" cy="89.7" r="0.71" fill="#c82820"/><circle cx="153.4" cy="93.7" r="0.74" fill="#d03a30"/><circle cx="111.8" cy="87.4" r="0.87" fill="#c82820"/><circle cx="111.6" cy="88.8" r="0.88" fill="#d03a30"/><circle cx="111.6" cy="87.6" r="0.84" fill="#d8322a"/><circle cx="137.7" cy="71.1" r="0.70" fill="#c82820"/><circle cx="140.7" cy="70.4" r="0.82" fill="#e0483a"/><circle cx="136.4" cy="70.5" r="0.87" fill="#d8322a"/><circle cx="66.0" cy="89.0" r="0.56" fill="#e86a50"/><circle cx="62.7" cy="89.1" r="0.93" fill="#e86a50"/><circle cx="63.3" cy="89.1" r="0.64" fill="#e86a50"/><circle cx="65.3" cy="92.3" r="0.90" fill="#c82820"/><circle cx="64.2" cy="92.3" r="0.93" fill="#e0483a"/><circle cx="73.6" cy="139.0" r="0.81" fill="#b82018"/><circle cx="73.5" cy="135.8" r="0.78" fill="#e0483a"/><circle cx="72.7" cy="136.6" r="0.80" fill="#c82820"/><circle cx="74.7" cy="138.6" r="0.69" fill="#d03a30"/><circle cx="91.3" cy="71.7" r="0.71" fill="#d03a30"/><circle cx="94.6" cy="70.8" r="0.57" fill="#d03a30"/><circle cx="94.0" cy="72.0" r="0.58" fill="#e86a50"/><circle cx="67.0" cy="121.5" r="0.82" fill="#e86a50"/><circle cx="65.3" cy="118.7" r="0.65" fill="#b82018"/><circle cx="65.1" cy="117.3" r="0.91" fill="#e0483a"/><circle cx="62.9" cy="121.0" r="0.63" fill="#d8322a"/><circle cx="65.2" cy="119.9" r="0.57" fill="#b82018"/><circle cx="62.8" cy="102.6" r="0.90" fill="#d03a30"/><circle cx="65.0" cy="104.6" r="0.79" fill="#e86a50"/><circle cx="63.3" cy="103.2" r="0.60" fill="#d03a30"/><circle cx="107.2" cy="73.3" r="0.85" fill="#e0483a"/><circle cx="110.3" cy="72.9" r="0.63" fill="#b82018"/><circle cx="110.5" cy="72.1" r="0.56" fill="#d8322a"/><circle cx="76.8" cy="82.7" r="0.74" fill="#d8322a"/><circle cx="74.1" cy="83.7" r="0.70" fill="#b82018"/><circle cx="76.7" cy="84.4" r="0.63" fill="#e86a50"/><circle cx="69.6" cy="81.3" r="0.84" fill="#d03a30"/><circle cx="70.2" cy="81.8" r="0.94" fill="#e86a50"/><circle cx="67.0" cy="80.4" r="0.94" fill="#b82018"/><circle cx="70.1" cy="80.1" r="0.76" fill="#e0483a"/><circle cx="68.6" cy="81.2" r="0.60" fill="#b82018"/><circle cx="77.9" cy="81.9" r="0.57" fill="#d03a30"/><circle cx="78.3" cy="81.3" r="0.94" fill="#c82820"/><circle cx="77.3" cy="83.6" r="0.84" fill="#b82018"/><circle cx="77.4" cy="81.0" r="0.79" fill="#b82018"/><circle cx="116.4" cy="82.8" r="0.72" fill="#c82820"/><circle cx="112.9" cy="85.1" r="0.79" fill="#d8322a"/><circle cx="112.9" cy="84.8" r="0.66" fill="#e86a50"/><circle cx="147.9" cy="131.9" r="0.61" fill="#b82018"/><circle cx="147.4" cy="130.4" r="0.86" fill="#e0483a"/><circle cx="145.4" cy="129.7" r="0.89" fill="#d03a30"/><circle cx="148.3" cy="130.8" r="0.87" fill="#e0483a"/><circle cx="147.1" cy="132.5" r="0.82" fill="#e0483a"/><circle cx="144.8" cy="89.1" r="0.91" fill="#e0483a"/><circle cx="142.8" cy="88.6" r="0.79" fill="#e0483a"/><circle cx="144.4" cy="88.5" r="0.82" fill="#d8322a"/><circle cx="143.8" cy="90.6" r="0.67" fill="#b82018"/><circle cx="144.5" cy="88.8" r="0.70" fill="#b82018"/><circle cx="75.6" cy="84.9" r="0.61" fill="#b82018"/><circle cx="75.4" cy="84.0" r="0.89" fill="#d8322a"/><circle cx="75.9" cy="85.4" r="0.60" fill="#e0483a"/><circle cx="76.1" cy="86.4" r="0.86" fill="#e0483a"/><circle cx="88.4" cy="79.3" r="0.70" fill="#e0483a"/><circle cx="88.9" cy="77.9" r="0.68" fill="#e0483a"/><circle cx="89.0" cy="79.5" r="0.85" fill="#e0483a"/><circle cx="65.0" cy="101.8" r="0.95" fill="#d03a30"/><circle cx="63.7" cy="100.8" r="0.55" fill="#e86a50"/><circle cx="65.4" cy="102.7" r="0.58" fill="#e0483a"/><circle cx="80.8" cy="66.8" r="0.86" fill="#e86a50"/><circle cx="79.5" cy="69.9" r="0.68" fill="#d03a30"/><circle cx="81.1" cy="69.3" r="0.77" fill="#d03a30"/><circle cx="72.6" cy="80.9" r="0.73" fill="#e86a50"/><circle cx="75.0" cy="80.4" r="0.62" fill="#c82820"/><circle cx="71.9" cy="80.3" r="0.94" fill="#d8322a"/><circle cx="75.4" cy="82.7" r="0.77" fill="#d8322a"/><circle cx="75.9" cy="82.2" r="0.70" fill="#d8322a"/><circle cx="122.0" cy="65.4" r="0.84" fill="#d03a30"/><circle cx="121.0" cy="65.8" r="0.92" fill="#e0483a"/><circle cx="120.5" cy="68.9" r="0.65" fill="#d03a30"/><circle cx="123.7" cy="69.2" r="0.93" fill="#b82018"/><circle cx="73.6" cy="77.7" r="0.70" fill="#c82820"/><circle cx="74.9" cy="79.9" r="0.85" fill="#b82018"/><circle cx="73.2" cy="78.0" r="0.81" fill="#d8322a"/><circle cx="70.8" cy="93.7" r="0.93" fill="#d8322a"/><circle cx="70.3" cy="94.3" r="0.81" fill="#e86a50"/><circle cx="69.9" cy="95.0" r="0.87" fill="#d03a30"/><circle cx="68.4" cy="91.6" r="0.71" fill="#c82820"/><circle cx="138.5" cy="69.9" r="0.59" fill="#d8322a"/><circle cx="136.2" cy="71.2" r="0.66" fill="#d03a30"/><circle cx="137.3" cy="70.9" r="0.84" fill="#c82820"/><circle cx="136.6" cy="70.5" r="0.87" fill="#b82018"/><circle cx="81.2" cy="71.7" r="0.64" fill="#d8322a"/><circle cx="80.3" cy="71.5" r="0.94" fill="#e0483a"/><circle cx="82.2" cy="72.1" r="0.61" fill="#c82820"/><circle cx="99.0" cy="72.2" r="0.55" fill="#d03a30"/><circle cx="100.3" cy="75.7" r="0.85" fill="#e86a50"/><circle cx="99.8" cy="73.1" r="0.64" fill="#c82820"/><circle cx="99.5" cy="73.9" r="0.75" fill="#d8322a"/><circle cx="106.3" cy="63.0" r="0.81" fill="#d8322a"/><circle cx="108.1" cy="61.8" r="0.72" fill="#c82820"/><circle cx="109.5" cy="62.1" r="0.65" fill="#e86a50"/><circle cx="73.6" cy="84.5" r="0.60" fill="#b82018"/><circle cx="71.8" cy="82.3" r="0.85" fill="#c82820"/><circle cx="74.9" cy="81.5" r="0.57" fill="#d03a30"/><circle cx="72.9" cy="83.9" r="0.76" fill="#d03a30"/><circle cx="71.2" cy="83.7" r="0.91" fill="#d03a30"/><circle cx="110.4" cy="81.4" r="0.95" fill="#e0483a"/><circle cx="109.6" cy="81.9" r="0.67" fill="#b82018"/><circle cx="107.7" cy="82.4" r="0.62" fill="#b82018"/><circle cx="158.0" cy="109.8" r="0.89" fill="#e86a50"/><circle cx="159.2" cy="108.8" r="0.75" fill="#e0483a"/><circle cx="159.5" cy="110.0" r="0.70" fill="#d03a30"/><circle cx="156.3" cy="111.1" r="0.56" fill="#d03a30"/><circle cx="158.8" cy="107.7" r="0.69" fill="#d03a30"/><circle cx="109.8" cy="60.6" r="0.89" fill="#d03a30"/><circle cx="110.1" cy="63.6" r="0.94" fill="#c82820"/><circle cx="109.5" cy="61.5" r="0.65" fill="#d8322a"/><circle cx="115.3" cy="60.0" r="0.67" fill="#b82018"/><circle cx="116.4" cy="61.7" r="0.86" fill="#e0483a"/><circle cx="115.3" cy="63.4" r="0.69" fill="#b82018"/><circle cx="118.2" cy="63.4" r="0.58" fill="#e0483a"/><circle cx="72.5" cy="83.5" r="0.69" fill="#e86a50"/><circle cx="73.8" cy="85.5" r="0.70" fill="#d03a30"/><circle cx="71.0" cy="84.3" r="0.94" fill="#e86a50"/><circle cx="70.3" cy="84.2" r="0.56" fill="#e0483a"/><circle cx="73.2" cy="82.5" r="0.90" fill="#b82018"/><circle cx="71.5" cy="137.3" r="0.55" fill="#b82018"/><circle cx="71.1" cy="137.6" r="0.60" fill="#e86a50"/><circle cx="73.0" cy="139.3" r="0.64" fill="#d8322a"/><circle cx="73.9" cy="105.4" r="0.92" fill="#d8322a"/><circle cx="74.3" cy="102.7" r="0.80" fill="#d03a30"/><circle cx="70.2" cy="103.6" r="0.76" fill="#c82820"/><circle cx="71.2" cy="103.2" r="0.65" fill="#b82018"/><circle cx="70.7" cy="103.1" r="0.57" fill="#e0483a"/><circle cx="78.7" cy="107.4" r="0.94" fill="#c82820"/><circle cx="76.8" cy="105.1" r="0.72" fill="#c82820"/><circle cx="77.5" cy="104.1" r="0.65" fill="#e86a50"/><circle cx="65.2" cy="85.7" r="0.82" fill="#d8322a"/><circle cx="66.8" cy="85.2" r="0.73" fill="#e86a50"/><circle cx="68.1" cy="84.8" r="0.72" fill="#d03a30"/><circle cx="68.9" cy="83.4" r="0.62" fill="#e86a50"/><circle cx="151.4" cy="128.8" r="0.90" fill="#d03a30"/><circle cx="153.6" cy="126.2" r="0.62" fill="#c82820"/><circle cx="149.7" cy="128.7" r="0.83" fill="#e0483a"/><circle cx="150.1" cy="130.1" r="0.63" fill="#d03a30"/><circle cx="150.7" cy="127.2" r="0.57" fill="#e86a50"/><circle cx="65.1" cy="106.4" r="0.81" fill="#b82018"/><circle cx="63.9" cy="104.3" r="0.88" fill="#c82820"/><circle cx="63.7" cy="105.3" r="0.90" fill="#d03a30"/><circle cx="63.9" cy="106.2" r="0.91" fill="#b82018"/><circle cx="63.5" cy="103.9" r="0.64" fill="#e86a50"/><circle cx="84.7" cy="63.8" r="0.86" fill="#b82018"/><circle cx="87.3" cy="66.6" r="0.77" fill="#c82820"/><circle cx="83.8" cy="65.5" r="0.58" fill="#d03a30"/><circle cx="85.7" cy="65.4" r="0.56" fill="#d8322a"/><circle cx="83.7" cy="66.8" r="0.92" fill="#d03a30"/><circle cx="62.3" cy="100.3" r="0.81" fill="#c82820"/><circle cx="62.7" cy="101.1" r="0.81" fill="#e86a50"/><circle cx="62.3" cy="99.2" r="0.89" fill="#d03a30"/><circle cx="62.7" cy="100.7" r="0.83" fill="#b82018"/><circle cx="132.0" cy="68.6" r="0.88" fill="#d8322a"/><circle cx="132.1" cy="68.7" r="0.71" fill="#b82018"/><circle cx="131.3" cy="70.0" r="0.61" fill="#e86a50"/></g>
<polygon points="136.4,92.9 156.5,91.9 157.4,120.4 136.9,119.9" fill="#fff" stroke="#222" stroke-width="0.8"/>
<text x="148.30" y="106.40" font-family="Liberation Sans" font-size="9.6" text-anchor="middle" textLength="22.20" lengthAdjust="spacingAndGlyphs" transform="rotate(-90 148.30 106.40)">Start</text>
<text x="49.50" y="156.60" font-family="Liberation Serif" font-size="14.2" textLength="17.60" lengthAdjust="spacingAndGlyphs">(a)</text>
<polygon points="212.0,74.0 214.4,73.3 217.5,75.2 220.5,76.4 224.2,78.9 226.0,79.8 229.7,82.9 233.4,86.6 237.0,90.3 240.1,94.6 242.6,98.9 244.4,103.8 245.6,108.7 246.2,113.6 245.3,116.9 244.7,121.8 245.9,126.7 248.4,129.2 250.0,132.0 240.0,140.0 234.2,147.6 232.4,145.1 230.0,142.7 226.3,140.2 223.8,136.5 221.4,130.4 220.1,124.3 219.5,118.1 218.7,113.8 217.5,110.0 216.2,106.4 215.6,105.2 215.0,101.5 213.2,99.7 209.5,99.7 207.7,99.5 207.7,101.5 207.0,105.2 204.6,108.9 200.9,111.9 199.3,112.5 199.1,102.7 199.7,95.4 201.5,90.0 203.4,86.0 205.2,83.0 207.0,81.3 209.5,77.6" fill="#e21e12" stroke="#da1a0e" stroke-width="0.7" stroke-linejoin="round"/>
<polygon points="216.8,71.0 218.1,69.0 223.0,66.0 227.9,63.5 231.6,62.3 232.8,64.1 232.2,68.4 229.7,71.0 226.7,72.0 221.8,72.0 218.5,71.8" fill="#e21e12" stroke="#da1a0e" stroke-width="0.7" stroke-linejoin="round"/>
<rect x="228.2" y="139.5" width="1.2" height="1.2" fill="#c0100a"/>
<rect x="237.6" y="110.3" width="1.2" height="1.2" fill="#f02a18"/>
<rect x="223.9" y="85.3" width="1.2" height="1.2" fill="#f43c24"/>
<rect x="223.1" y="120.0" width="1.2" height="1.2" fill="#f43c24"/>
<rect x="237.4" y="119.9" width="1.2" height="1.2" fill="#b00c08"/>
<rect x="213.8" y="80.5" width="1.2" height="1.2" fill="#e8281c"/>
<rect x="233.1" y="92.8" width="1.2" height="1.2" fill="#d41a10"/>
<rect x="227.2" y="70.3" width="1.2" height="1.2" fill="#c0100a"/>
<rect x="203.6" y="92.4" width="1.2" height="1.2" fill="#cc160e"/>
<rect x="214.7" y="97.2" width="1.2" height="1.2" fill="#f02a18"/>
<rect x="207.3" y="87.6" width="1.2" height="1.2" fill="#ff4c2c"/>
<rect x="230.5" y="115.6" width="1.2" height="1.2" fill="#f43c24"/>
<rect x="245.6" y="113.1" width="1.2" height="1.2" fill="#b00c08"/>
<rect x="239.2" y="125.8" width="1.2" height="1.2" fill="#e8281c"/>
<rect x="218.1" y="94.5" width="1.2" height="1.2" fill="#ff4c2c"/>
<rect x="237.0" y="100.4" width="1.2" height="1.2" fill="#e62014"/>
<rect x="233.1" y="88.3" width="1.2" height="1.2" fill="#b00c08"/>
<rect x="203.3" y="108.1" width="1.2" height="1.2" fill="#ff4c2c"/>
<rect x="222.2" y="102.6" width="1.2" height="1.2" fill="#f02a18"/>
<rect x="216.9" y="97.0" width="1.2" height="1.2" fill="#f02a18"/>
<rect x="212.0" y="75.5" width="1.2" height="1.2" fill="#c0100a"/>
<rect x="217.9" y="86.7" width="1.2" height="1.2" fill="#b00c08"/>
<rect x="222.0" y="96.9" width="1.2" height="1.2" fill="#e62014"/>
<rect x="232.8" y="110.9" width="1.2" height="1.2" fill="#f02a18"/>
<rect x="242.0" y="115.7" width="1.2" height="1.2" fill="#cc160e"/>
<rect x="230.3" y="125.6" width="1.2" height="1.2" fill="#e8281c"/>
<rect x="235.8" y="103.0" width="1.2" height="1.2" fill="#b00c08"/>
<rect x="249.0" y="132.5" width="1.2" height="1.2" fill="#ff4c2c"/>
<rect x="238.0" y="94.2" width="1.2" height="1.2" fill="#b00c08"/>
<rect x="234.9" y="141.8" width="1.2" height="1.2" fill="#f02a18"/>
<rect x="225.1" y="132.1" width="1.2" height="1.2" fill="#b00c08"/>
<rect x="222.3" y="82.0" width="1.2" height="1.2" fill="#d41a10"/>
<rect x="233.6" y="98.0" width="1.2" height="1.2" fill="#c0100a"/>
<rect x="222.2" y="113.2" width="1.2" height="1.2" fill="#b00c08"/>
<rect x="207.1" y="94.3" width="1.2" height="1.2" fill="#ff4c2c"/>
<rect x="224.7" y="113.0" width="1.2" height="1.2" fill="#b00c08"/>
<rect x="228.0" y="82.3" width="1.2" height="1.2" fill="#f43c24"/>
<rect x="241.3" y="134.6" width="1.2" height="1.2" fill="#cc160e"/>
<rect x="225.2" y="90.9" width="1.2" height="1.2" fill="#cc160e"/>
<rect x="241.8" y="106.0" width="1.2" height="1.2" fill="#cc160e"/>
<rect x="227.2" y="91.0" width="1.2" height="1.2" fill="#e62014"/>
<rect x="244.4" y="132.1" width="1.2" height="1.2" fill="#d41a10"/>
<rect x="225.2" y="68.0" width="1.2" height="1.2" fill="#cc160e"/>
<rect x="222.5" y="125.5" width="1.2" height="1.2" fill="#ff4c2c"/>
<rect x="213.6" y="93.0" width="1.2" height="1.2" fill="#ff4c2c"/>
<rect x="199.7" y="102.3" width="1.2" height="1.2" fill="#b00c08"/>
<rect x="232.0" y="64.5" width="1.2" height="1.2" fill="#c0100a"/>
<rect x="206.9" y="97.9" width="1.2" height="1.2" fill="#f43c24"/>
<rect x="236.4" y="127.4" width="1.2" height="1.2" fill="#d41a10"/>
<rect x="227.2" y="140.6" width="1.2" height="1.2" fill="#f02a18"/>
<rect x="237.5" y="105.6" width="1.2" height="1.2" fill="#d41a10"/>
<rect x="236.1" y="106.4" width="1.2" height="1.2" fill="#f43c24"/>
<rect x="219.8" y="102.9" width="1.2" height="1.2" fill="#e8281c"/>
<rect x="227.5" y="108.0" width="1.2" height="1.2" fill="#ff4c2c"/>
<rect x="235.1" y="90.3" width="1.2" height="1.2" fill="#c0100a"/>
<rect x="225.5" y="66.5" width="1.2" height="1.2" fill="#ff4c2c"/>
<rect x="232.7" y="110.8" width="1.2" height="1.2" fill="#f43c24"/>
<rect x="234.0" y="127.7" width="1.2" height="1.2" fill="#d41a10"/>
<rect x="201.4" y="105.7" width="1.2" height="1.2" fill="#cc160e"/>
<rect x="206.4" y="98.0" width="1.2" height="1.2" fill="#f02a18"/>
<rect x="201.1" y="108.9" width="1.2" height="1.2" fill="#e8281c"/>
<rect x="242.6" y="130.2" width="1.2" height="1.2" fill="#d41a10"/>
<rect x="219.4" y="69.6" width="1.2" height="1.2" fill="#e62014"/>
<rect x="217.5" y="95.1" width="1.2" height="1.2" fill="#f02a18"/>
<rect x="233.2" y="91.4" width="1.2" height="1.2" fill="#b00c08"/>
<rect x="217.7" y="80.9" width="1.2" height="1.2" fill="#ff4c2c"/>
<rect x="232.6" y="98.8" width="1.2" height="1.2" fill="#e62014"/>
<rect x="216.7" y="76.6" width="1.2" height="1.2" fill="#d41a10"/>
<rect x="201.7" y="106.3" width="1.2" height="1.2" fill="#d41a10"/>
<rect x="221.5" y="122.0" width="1.2" height="1.2" fill="#f02a18"/>
<rect x="199.5" y="107.3" width="1.2" height="1.2" fill="#f02a18"/>
<rect x="221.2" y="92.4" width="1.2" height="1.2" fill="#b00c08"/>
<rect x="235.8" y="114.4" width="1.2" height="1.2" fill="#f02a18"/>
<rect x="224.1" y="86.9" width="1.2" height="1.2" fill="#e62014"/>
<rect x="218.0" y="76.2" width="1.2" height="1.2" fill="#f02a18"/>
<rect x="227.1" y="114.5" width="1.2" height="1.2" fill="#cc160e"/>
<rect x="216.4" y="91.8" width="1.2" height="1.2" fill="#e62014"/>
<rect x="242.3" y="119.4" width="1.2" height="1.2" fill="#f02a18"/>
<rect x="201.6" y="102.1" width="1.2" height="1.2" fill="#ff4c2c"/>
<rect x="210.6" y="86.0" width="1.2" height="1.2" fill="#cc160e"/>
<rect x="241.9" y="124.0" width="1.2" height="1.2" fill="#cc160e"/>
<rect x="227.7" y="89.6" width="1.2" height="1.2" fill="#d41a10"/>
<rect x="227.6" y="85.0" width="1.2" height="1.2" fill="#c0100a"/>
<rect x="229.5" y="124.5" width="1.2" height="1.2" fill="#e62014"/>
<rect x="233.8" y="128.4" width="1.2" height="1.2" fill="#f43c24"/>
<rect x="218.8" y="108.3" width="1.2" height="1.2" fill="#c0100a"/>
<rect x="228.9" y="93.7" width="1.2" height="1.2" fill="#f02a18"/>
<rect x="227.3" y="83.5" width="1.2" height="1.2" fill="#f02a18"/>
<rect x="240.4" y="121.3" width="1.2" height="1.2" fill="#ff4c2c"/>
<rect x="217.5" y="102.8" width="1.2" height="1.2" fill="#c0100a"/>
<rect x="205.0" y="95.2" width="1.2" height="1.2" fill="#f02a18"/>
<rect x="240.8" y="108.4" width="1.2" height="1.2" fill="#e8281c"/>
<rect x="238.1" y="131.9" width="1.2" height="1.2" fill="#b00c08"/>
<rect x="218.1" y="88.9" width="1.2" height="1.2" fill="#c0100a"/>
<rect x="224.2" y="100.3" width="1.2" height="1.2" fill="#f02a18"/>
<rect x="231.9" y="143.1" width="1.2" height="1.2" fill="#f43c24"/>
<rect x="223.4" y="101.9" width="1.2" height="1.2" fill="#d41a10"/>
<rect x="219.8" y="81.5" width="1.2" height="1.2" fill="#c0100a"/>
<rect x="221.1" y="112.5" width="1.2" height="1.2" fill="#f02a18"/>
<rect x="229.0" y="101.1" width="1.2" height="1.2" fill="#c0100a"/>
<rect x="223.7" y="113.7" width="1.2" height="1.2" fill="#d41a10"/>
<rect x="229.8" y="120.7" width="1.2" height="1.2" fill="#e8281c"/>
<rect x="234.1" y="98.0" width="1.2" height="1.2" fill="#e8281c"/>
<rect x="244.8" y="110.4" width="1.2" height="1.2" fill="#e8281c"/>
<rect x="230.3" y="103.2" width="1.2" height="1.2" fill="#cc160e"/>
<rect x="240.1" y="139.7" width="1.2" height="1.2" fill="#f43c24"/>
<rect x="199.3" y="108.0" width="1.2" height="1.2" fill="#ff4c2c"/>
<rect x="231.4" y="112.2" width="1.2" height="1.2" fill="#c0100a"/>
<rect x="223.3" y="104.0" width="1.2" height="1.2" fill="#f43c24"/>
<rect x="234.9" y="118.5" width="1.2" height="1.2" fill="#cc160e"/>
<rect x="237.9" y="102.4" width="1.2" height="1.2" fill="#f43c24"/>
<rect x="215.4" y="86.1" width="1.2" height="1.2" fill="#c0100a"/>
<rect x="225.0" y="128.4" width="1.2" height="1.2" fill="#e62014"/>
<rect x="230.8" y="133.3" width="1.2" height="1.2" fill="#cc160e"/>
<rect x="236.8" y="120.2" width="1.2" height="1.2" fill="#ff4c2c"/>
<rect x="220.1" y="96.2" width="1.2" height="1.2" fill="#e62014"/>
<rect x="237.6" y="137.5" width="1.2" height="1.2" fill="#f02a18"/>
<rect x="202.8" y="106.8" width="1.2" height="1.2" fill="#f02a18"/>
<rect x="224.3" y="79.2" width="1.2" height="1.2" fill="#ff4c2c"/>
<rect x="243.3" y="106.6" width="1.2" height="1.2" fill="#e8281c"/>
<rect x="206.6" y="92.4" width="1.2" height="1.2" fill="#f02a18"/>
<rect x="229.6" y="65.0" width="1.2" height="1.2" fill="#cc160e"/>
<rect x="231.0" y="113.1" width="1.2" height="1.2" fill="#cc160e"/>
<rect x="229.1" y="100.9" width="1.2" height="1.2" fill="#e8281c"/>
<rect x="226.4" y="85.6" width="1.2" height="1.2" fill="#b00c08"/>
<rect x="244.2" y="110.5" width="1.2" height="1.2" fill="#e62014"/>
<rect x="220.6" y="96.8" width="1.2" height="1.2" fill="#e8281c"/>
<rect x="241.9" y="113.5" width="1.2" height="1.2" fill="#b00c08"/>
<rect x="217.2" y="105.1" width="1.2" height="1.2" fill="#cc160e"/>
<rect x="229.0" y="97.6" width="1.2" height="1.2" fill="#c0100a"/>
<rect x="231.5" y="91.3" width="1.2" height="1.2" fill="#c0100a"/>
<rect x="234.8" y="122.9" width="1.2" height="1.2" fill="#c0100a"/>
<rect x="202.1" y="92.1" width="1.2" height="1.2" fill="#e8281c"/>
<rect x="217.6" y="107.2" width="1.2" height="1.2" fill="#c0100a"/>
<rect x="216.8" y="103.6" width="1.2" height="1.2" fill="#cc160e"/>
<rect x="209.6" y="82.9" width="1.2" height="1.2" fill="#e62014"/>
<rect x="223.6" y="81.8" width="1.2" height="1.2" fill="#c0100a"/>
<rect x="223.0" y="83.6" width="1.2" height="1.2" fill="#c0100a"/>
<rect x="239.9" y="98.5" width="1.2" height="1.2" fill="#d41a10"/>
<rect x="223.3" y="127.4" width="1.2" height="1.2" fill="#cc160e"/>
<rect x="204.5" y="99.4" width="1.2" height="1.2" fill="#ff4c2c"/>
<rect x="230.3" y="87.4" width="1.2" height="1.2" fill="#c0100a"/>
<rect x="223.2" y="108.6" width="1.2" height="1.2" fill="#cc160e"/>
<rect x="206.6" y="104.8" width="1.2" height="1.2" fill="#cc160e"/>
<rect x="230.5" y="119.3" width="1.2" height="1.2" fill="#d41a10"/>
<rect x="222.6" y="67.1" width="1.2" height="1.2" fill="#d41a10"/>
<rect x="213.6" y="85.2" width="1.2" height="1.2" fill="#d41a10"/>
<rect x="221.0" y="122.1" width="1.2" height="1.2" fill="#f43c24"/>
<rect x="209.7" y="81.0" width="1.2" height="1.2" fill="#b00c08"/>
<rect x="225.7" y="125.9" width="1.2" height="1.2" fill="#d41a10"/>
<rect x="229.1" y="119.1" width="1.2" height="1.2" fill="#d41a10"/>
<rect x="206.3" y="94.3" width="1.2" height="1.2" fill="#f02a18"/>
<rect x="228.9" y="102.6" width="1.2" height="1.2" fill="#f02a18"/>
<rect x="226.0" y="136.5" width="1.2" height="1.2" fill="#f02a18"/>
<rect x="221.3" y="117.3" width="1.2" height="1.2" fill="#cc160e"/>
<rect x="230.5" y="69.4" width="1.2" height="1.2" fill="#cc160e"/>
<rect x="228.8" y="137.1" width="1.2" height="1.2" fill="#d41a10"/>
<rect x="219.1" y="115.5" width="1.2" height="1.2" fill="#c0100a"/>
<rect x="235.1" y="114.5" width="1.2" height="1.2" fill="#ff4c2c"/>
<rect x="238.9" y="112.1" width="1.2" height="1.2" fill="#f02a18"/>
<rect x="217.8" y="76.6" width="1.2" height="1.2" fill="#d41a10"/>
<rect x="236.3" y="112.7" width="1.2" height="1.2" fill="#c0100a"/>
<rect x="237.9" y="122.2" width="1.2" height="1.2" fill="#d41a10"/>
<rect x="211.6" y="89.5" width="1.2" height="1.2" fill="#f02a18"/>
<rect x="230.9" y="119.0" width="1.2" height="1.2" fill="#b00c08"/>
<rect x="199.3" y="107.3" width="1.2" height="1.2" fill="#f43c24"/>
<rect x="212.7" y="76.0" width="1.2" height="1.2" fill="#f43c24"/>
<rect x="215.4" y="88.9" width="1.2" height="1.2" fill="#f43c24"/>
<rect x="236.4" y="99.6" width="1.2" height="1.2" fill="#f43c24"/>
<rect x="235.0" y="127.2" width="1.2" height="1.2" fill="#f43c24"/>
<rect x="240.4" y="123.9" width="1.2" height="1.2" fill="#c0100a"/>
<rect x="221.2" y="106.0" width="1.2" height="1.2" fill="#e62014"/>
<rect x="219.4" y="103.7" width="1.2" height="1.2" fill="#e62014"/>
<rect x="235.7" y="102.4" width="1.2" height="1.2" fill="#b00c08"/>
<rect x="234.9" y="136.3" width="1.2" height="1.2" fill="#e8281c"/>
<rect x="243.7" y="134.4" width="1.2" height="1.2" fill="#b00c08"/>
<rect x="217.3" y="102.1" width="1.2" height="1.2" fill="#b00c08"/>
<rect x="208.4" y="84.3" width="1.2" height="1.2" fill="#e62014"/>
<rect x="230.1" y="116.4" width="1.2" height="1.2" fill="#c0100a"/>
<rect x="234.8" y="101.7" width="1.2" height="1.2" fill="#e8281c"/>
<rect x="202.8" y="94.7" width="1.2" height="1.2" fill="#e62014"/>
<rect x="234.3" y="115.9" width="1.2" height="1.2" fill="#cc160e"/>
<rect x="245.4" y="109.1" width="1.2" height="1.2" fill="#d41a10"/>
<rect x="204.4" y="92.5" width="1.2" height="1.2" fill="#cc160e"/>
<rect x="226.5" y="94.0" width="1.2" height="1.2" fill="#c0100a"/>
<rect x="220.1" y="69.6" width="1.2" height="1.2" fill="#b00c08"/>
<rect x="244.6" y="115.5" width="1.2" height="1.2" fill="#e8281c"/>
<rect x="216.4" y="82.8" width="1.2" height="1.2" fill="#c0100a"/>
<rect x="239.8" y="122.1" width="1.2" height="1.2" fill="#cc160e"/>
<rect x="219.2" y="83.1" width="1.2" height="1.2" fill="#c0100a"/>
<rect x="238.1" y="139.1" width="1.2" height="1.2" fill="#c0100a"/>
<rect x="235.6" y="94.7" width="1.2" height="1.2" fill="#c0100a"/>
<rect x="204.5" y="102.1" width="1.2" height="1.2" fill="#e8281c"/>
<rect x="228.1" y="92.6" width="1.2" height="1.2" fill="#d41a10"/>
<rect x="211.0" y="76.6" width="1.2" height="1.2" fill="#ff4c2c"/>
<rect x="242.1" y="135.8" width="1.2" height="1.2" fill="#e62014"/>
<rect x="239.8" y="112.4" width="1.2" height="1.2" fill="#c0100a"/>
<rect x="225.3" y="92.5" width="1.2" height="1.2" fill="#ff4c2c"/>
<rect x="200.8" y="111.2" width="1.2" height="1.2" fill="#e62014"/>
<rect x="225.8" y="137.7" width="1.2" height="1.2" fill="#e62014"/>
<rect x="228.3" y="130.8" width="1.2" height="1.2" fill="#e8281c"/>
<rect x="216.8" y="106.9" width="1.2" height="1.2" fill="#b00c08"/>
<rect x="232.5" y="142.9" width="1.2" height="1.2" fill="#e62014"/>
<rect x="244.8" y="112.7" width="1.2" height="1.2" fill="#ff4c2c"/>
<rect x="217.8" y="91.3" width="1.2" height="1.2" fill="#ff4c2c"/>
<rect x="226.0" y="113.2" width="1.2" height="1.2" fill="#f43c24"/>
<rect x="237.6" y="130.0" width="1.2" height="1.2" fill="#b00c08"/>
<rect x="235.1" y="140.0" width="1.2" height="1.2" fill="#d41a10"/>
<rect x="236.9" y="140.6" width="1.2" height="1.2" fill="#ff4c2c"/>
<rect x="224.8" y="100.7" width="1.2" height="1.2" fill="#e8281c"/>
<rect x="236.8" y="143.0" width="1.2" height="1.2" fill="#b00c08"/>
<rect x="230.6" y="103.0" width="1.2" height="1.2" fill="#f43c24"/>
<rect x="230.5" y="129.8" width="1.2" height="1.2" fill="#b00c08"/>
<rect x="212.4" y="89.8" width="1.2" height="1.2" fill="#ff4c2c"/>
<rect x="238.2" y="130.3" width="1.2" height="1.2" fill="#c0100a"/>
<rect x="226.8" y="99.4" width="1.2" height="1.2" fill="#e8281c"/>
<rect x="224.3" y="99.5" width="1.2" height="1.2" fill="#e8281c"/>
<rect x="209.2" y="90.3" width="1.2" height="1.2" fill="#f43c24"/>
<rect x="240.3" y="108.0" width="1.2" height="1.2" fill="#e8281c"/>
<rect x="216.4" y="93.2" width="1.2" height="1.2" fill="#cc160e"/>
<rect x="234.0" y="88.6" width="1.2" height="1.2" fill="#e8281c"/>
<rect x="219.3" y="79.6" width="1.2" height="1.2" fill="#ff4c2c"/>
<rect x="234.5" y="124.1" width="1.2" height="1.2" fill="#e8281c"/>
<rect x="224.4" y="104.2" width="1.2" height="1.2" fill="#cc160e"/>
<rect x="220.1" y="69.8" width="1.2" height="1.2" fill="#e8281c"/>
<rect x="229.0" y="99.7" width="1.2" height="1.2" fill="#f43c24"/>
<rect x="226.0" y="64.8" width="1.2" height="1.2" fill="#d41a10"/>
<rect x="201.1" y="106.0" width="1.2" height="1.2" fill="#f43c24"/>
<rect x="221.7" y="83.4" width="1.2" height="1.2" fill="#e8281c"/>
<rect x="229.5" y="140.5" width="1.2" height="1.2" fill="#c0100a"/>
<rect x="238.6" y="105.0" width="1.2" height="1.2" fill="#f43c24"/>
<rect x="229.3" y="141.7" width="1.2" height="1.2" fill="#cc160e"/>
<rect x="249.0" y="131.0" width="1.2" height="1.2" fill="#b00c08"/>
<rect x="213.8" y="83.2" width="1.2" height="1.2" fill="#b00c08"/>
<rect x="230.6" y="112.3" width="1.2" height="1.2" fill="#b00c08"/>
<rect x="216.3" y="77.6" width="1.2" height="1.2" fill="#d41a10"/>
<rect x="224.0" y="100.2" width="1.2" height="1.2" fill="#ff4c2c"/>
<rect x="244.0" y="132.4" width="1.2" height="1.2" fill="#ff4c2c"/>
<rect x="231.3" y="89.7" width="1.2" height="1.2" fill="#d41a10"/>
<rect x="214.9" y="94.5" width="1.2" height="1.2" fill="#cc160e"/>
<rect x="243.7" y="112.1" width="1.2" height="1.2" fill="#ff4c2c"/>
<rect x="229.0" y="124.1" width="1.2" height="1.2" fill="#f43c24"/>
<rect x="220.2" y="115.7" width="1.2" height="1.2" fill="#c0100a"/>
<rect x="231.6" y="141.3" width="1.2" height="1.2" fill="#d41a10"/>
<rect x="222.5" y="90.0" width="1.2" height="1.2" fill="#f43c24"/>
<rect x="231.9" y="90.8" width="1.2" height="1.2" fill="#f02a18"/>
<rect x="238.0" y="121.2" width="1.2" height="1.2" fill="#cc160e"/>
<rect x="233.8" y="134.0" width="1.2" height="1.2" fill="#e62014"/>
<rect x="220.4" y="119.5" width="1.2" height="1.2" fill="#b00c08"/>
<rect x="215.9" y="92.8" width="1.2" height="1.2" fill="#c0100a"/>
<rect x="225.9" y="71.3" width="1.2" height="1.2" fill="#e8281c"/>
<rect x="220.9" y="101.3" width="1.2" height="1.2" fill="#c0100a"/>
<rect x="230.0" y="107.8" width="1.2" height="1.2" fill="#e8281c"/>
<rect x="220.8" y="82.7" width="1.2" height="1.2" fill="#cc160e"/>
<rect x="220.8" y="127.4" width="1.2" height="1.2" fill="#cc160e"/>
<rect x="234.9" y="103.1" width="1.2" height="1.2" fill="#b00c08"/>
<rect x="232.9" y="118.2" width="1.2" height="1.2" fill="#e8281c"/>
<rect x="227.2" y="129.8" width="1.2" height="1.2" fill="#c0100a"/>
<rect x="219.6" y="81.7" width="1.2" height="1.2" fill="#ff4c2c"/>
<rect x="227.2" y="123.7" width="1.2" height="1.2" fill="#f02a18"/>
<rect x="208.5" y="95.7" width="1.2" height="1.2" fill="#e8281c"/>
<rect x="228.2" y="104.6" width="1.2" height="1.2" fill="#c0100a"/>
<rect x="221.8" y="101.4" width="1.2" height="1.2" fill="#f02a18"/>
<rect x="239.6" y="96.2" width="1.2" height="1.2" fill="#c0100a"/>
<rect x="230.0" y="142.1" width="1.2" height="1.2" fill="#f02a18"/>
<rect x="222.6" y="128.7" width="1.2" height="1.2" fill="#b00c08"/>
<rect x="235.7" y="111.5" width="1.2" height="1.2" fill="#f02a18"/>
<rect x="244.3" y="109.7" width="1.2" height="1.2" fill="#cc160e"/>
<rect x="226.5" y="102.7" width="1.2" height="1.2" fill="#cc160e"/>
<rect x="226.0" y="97.3" width="1.2" height="1.2" fill="#c0100a"/>
<rect x="238.6" y="96.6" width="1.2" height="1.2" fill="#e8281c"/>
<rect x="227.3" y="107.5" width="1.2" height="1.2" fill="#f43c24"/>
<rect x="219.6" y="114.5" width="1.2" height="1.2" fill="#b00c08"/>
<rect x="213.4" y="79.5" width="1.2" height="1.2" fill="#c0100a"/>
<rect x="242.1" y="113.2" width="1.2" height="1.2" fill="#f43c24"/>
<rect x="225.0" y="69.2" width="1.2" height="1.2" fill="#f43c24"/>
<rect x="233.6" y="89.3" width="1.2" height="1.2" fill="#d41a10"/>
<rect x="236.6" y="104.4" width="1.2" height="1.2" fill="#f43c24"/>
<rect x="229.9" y="134.8" width="1.2" height="1.2" fill="#cc160e"/>
<rect x="221.8" y="69.4" width="1.2" height="1.2" fill="#f02a18"/>
<rect x="204.7" y="103.0" width="1.2" height="1.2" fill="#f43c24"/>
<rect x="224.4" y="70.8" width="1.2" height="1.2" fill="#f02a18"/>
<rect x="206.6" y="100.1" width="1.2" height="1.2" fill="#f02a18"/>
<rect x="240.3" y="99.2" width="1.2" height="1.2" fill="#ff4c2c"/>
<rect x="230.7" y="108.1" width="1.2" height="1.2" fill="#f43c24"/>
<rect x="225.9" y="67.7" width="1.2" height="1.2" fill="#b00c08"/>
<rect x="221.5" y="79.5" width="1.2" height="1.2" fill="#e8281c"/>
<rect x="237.4" y="113.2" width="1.2" height="1.2" fill="#b00c08"/>
<rect x="204.3" y="86.1" width="1.2" height="1.2" fill="#f43c24"/>
<rect x="219.6" y="113.3" width="1.2" height="1.2" fill="#f43c24"/>
<rect x="231.2" y="94.1" width="1.2" height="1.2" fill="#f43c24"/>
<rect x="215.0" y="101.3" width="1.2" height="1.2" fill="#b00c08"/>
<rect x="238.8" y="101.6" width="1.2" height="1.2" fill="#e8281c"/>
<rect x="222.3" y="116.2" width="1.2" height="1.2" fill="#f02a18"/>
<rect x="211.7" y="94.4" width="1.2" height="1.2" fill="#b00c08"/>
<rect x="224.3" y="127.2" width="1.2" height="1.2" fill="#f43c24"/>
<rect x="229.4" y="121.3" width="1.2" height="1.2" fill="#e62014"/>
<rect x="230.1" y="94.1" width="1.2" height="1.2" fill="#b00c08"/>
<rect x="202.3" y="108.7" width="1.2" height="1.2" fill="#e62014"/>
<rect x="233.0" y="117.6" width="1.2" height="1.2" fill="#e62014"/>
<rect x="234.0" y="142.4" width="1.2" height="1.2" fill="#e62014"/>
<rect x="227.8" y="115.2" width="1.2" height="1.2" fill="#e62014"/>
<rect x="203.0" y="93.8" width="1.2" height="1.2" fill="#cc160e"/>
<rect x="220.5" y="112.2" width="1.2" height="1.2" fill="#ff4c2c"/>
<rect x="246.3" y="134.3" width="1.2" height="1.2" fill="#d41a10"/>
<rect x="224.9" y="91.6" width="1.2" height="1.2" fill="#d41a10"/>
<rect x="238.1" y="112.5" width="1.2" height="1.2" fill="#c0100a"/>
<rect x="231.6" y="111.3" width="1.2" height="1.2" fill="#b00c08"/>
<rect x="236.9" y="142.6" width="1.2" height="1.2" fill="#f43c24"/>
<rect x="218.5" y="106.9" width="1.2" height="1.2" fill="#cc160e"/>
<rect x="242.1" y="100.0" width="1.2" height="1.2" fill="#f02a18"/>
<rect x="213.1" y="88.1" width="1.2" height="1.2" fill="#d41a10"/>
<rect x="231.7" y="101.2" width="1.2" height="1.2" fill="#c0100a"/>
<rect x="223.8" y="69.1" width="1.2" height="1.2" fill="#cc160e"/>
<rect x="231.5" y="120.7" width="1.2" height="1.2" fill="#d41a10"/>
<rect x="241.0" y="105.4" width="1.2" height="1.2" fill="#b00c08"/>
<rect x="223.8" y="105.3" width="1.2" height="1.2" fill="#e8281c"/>
<rect x="208.3" y="91.2" width="1.2" height="1.2" fill="#e62014"/>
<rect x="232.5" y="120.3" width="1.2" height="1.2" fill="#e62014"/>
<rect x="228.1" y="114.0" width="1.2" height="1.2" fill="#ff4c2c"/>
<rect x="221.4" y="113.5" width="1.2" height="1.2" fill="#e8281c"/>
<rect x="222.1" y="101.7" width="1.2" height="1.2" fill="#f02a18"/>
<rect x="237.8" y="103.0" width="1.2" height="1.2" fill="#d41a10"/>
<rect x="231.7" y="105.9" width="1.2" height="1.2" fill="#e8281c"/>
<rect x="207.6" y="89.9" width="1.2" height="1.2" fill="#e62014"/>
<rect x="239.2" y="140.6" width="1.2" height="1.2" fill="#cc160e"/>
<rect x="208.9" y="83.7" width="1.2" height="1.2" fill="#d41a10"/>
<rect x="243.9" y="105.4" width="1.2" height="1.2" fill="#c0100a"/>
<rect x="221.9" y="116.8" width="1.2" height="1.2" fill="#f02a18"/>
<rect x="222.0" y="70.8" width="1.2" height="1.2" fill="#d41a10"/>
<rect x="215.8" y="90.4" width="1.2" height="1.2" fill="#b00c08"/>
<rect x="219.8" y="111.1" width="1.2" height="1.2" fill="#f43c24"/>
<rect x="242.9" y="119.8" width="1.2" height="1.2" fill="#f43c24"/>
<rect x="237.5" y="124.7" width="1.2" height="1.2" fill="#ff4c2c"/>
<rect x="244.1" y="112.5" width="1.2" height="1.2" fill="#f02a18"/>
<rect x="228.8" y="107.9" width="1.2" height="1.2" fill="#e62014"/>
<rect x="219.8" y="104.3" width="1.2" height="1.2" fill="#f43c24"/>
<rect x="208.0" y="80.7" width="1.2" height="1.2" fill="#b00c08"/>
<rect x="240.4" y="111.5" width="1.2" height="1.2" fill="#c0100a"/>
<rect x="232.1" y="67.7" width="1.2" height="1.2" fill="#b00c08"/>
<rect x="201.1" y="99.6" width="1.2" height="1.2" fill="#c0100a"/>
<rect x="233.1" y="103.2" width="1.2" height="1.2" fill="#f02a18"/>
<rect x="231.9" y="94.7" width="1.2" height="1.2" fill="#b00c08"/>
<rect x="222.4" y="96.9" width="1.2" height="1.2" fill="#e8281c"/>
<rect x="223.8" y="91.1" width="1.2" height="1.2" fill="#f43c24"/>
<rect x="245.1" y="134.0" width="1.2" height="1.2" fill="#e62014"/>
<rect x="243.1" y="135.3" width="1.2" height="1.2" fill="#f02a18"/>
<rect x="222.3" y="90.7" width="1.2" height="1.2" fill="#c0100a"/>
<rect x="202.2" y="106.1" width="1.2" height="1.2" fill="#c0100a"/>
<rect x="239.9" y="104.2" width="1.2" height="1.2" fill="#d41a10"/>
<rect x="221.5" y="81.6" width="1.2" height="1.2" fill="#c0100a"/>
<rect x="232.8" y="124.6" width="1.2" height="1.2" fill="#c0100a"/>
<rect x="219.1" y="86.0" width="1.2" height="1.2" fill="#cc160e"/>
<rect x="240.8" y="119.6" width="1.2" height="1.2" fill="#c0100a"/>
<rect x="210.6" y="83.3" width="1.2" height="1.2" fill="#e62014"/>
<rect x="232.9" y="116.5" width="1.2" height="1.2" fill="#e8281c"/>
<rect x="243.2" y="123.3" width="1.2" height="1.2" fill="#ff4c2c"/>
<rect x="228.3" y="125.4" width="1.2" height="1.2" fill="#f43c24"/>
<rect x="213.3" y="74.7" width="1.2" height="1.2" fill="#f43c24"/>
<rect x="229.2" y="135.3" width="1.2" height="1.2" fill="#f43c24"/>
<rect x="224.9" y="71.7" width="1.2" height="1.2" fill="#ff4c2c"/>
<rect x="223.9" y="79.4" width="1.2" height="1.2" fill="#cc160e"/>
<rect x="239.4" y="102.6" width="1.2" height="1.2" fill="#e62014"/>
<rect x="225.5" y="108.2" width="1.2" height="1.2" fill="#e62014"/>
<rect x="209.4" y="79.6" width="1.2" height="1.2" fill="#b00c08"/>
<rect x="231.8" y="105.8" width="1.2" height="1.2" fill="#ff4c2c"/>
<rect x="224.8" y="128.6" width="1.2" height="1.2" fill="#cc160e"/>
<rect x="231.7" y="133.0" width="1.2" height="1.2" fill="#cc160e"/>
<rect x="241.3" y="122.5" width="1.2" height="1.2" fill="#e8281c"/>
<rect x="223.9" y="114.2" width="1.2" height="1.2" fill="#f02a18"/>
<rect x="229.0" y="123.8" width="1.2" height="1.2" fill="#cc160e"/>
<rect x="229.3" y="105.3" width="1.2" height="1.2" fill="#b00c08"/>
<rect x="208.8" y="82.1" width="1.2" height="1.2" fill="#e8281c"/>
<rect x="234.5" y="90.0" width="1.2" height="1.2" fill="#d41a10"/>
<rect x="203.0" y="101.9" width="1.2" height="1.2" fill="#b00c08"/>
<rect x="238.4" y="138.6" width="1.2" height="1.2" fill="#e8281c"/>
<rect x="230.5" y="136.1" width="1.2" height="1.2" fill="#ff4c2c"/>
<rect x="234.1" y="113.3" width="1.2" height="1.2" fill="#d41a10"/>
<rect x="228.0" y="81.7" width="1.2" height="1.2" fill="#f02a18"/>
<rect x="227.6" y="63.9" width="1.2" height="1.2" fill="#e62014"/>
<rect x="224.1" y="121.4" width="1.2" height="1.2" fill="#b00c08"/>
<rect x="226.3" y="98.2" width="1.2" height="1.2" fill="#f02a18"/>
<rect x="230.5" y="129.7" width="1.2" height="1.2" fill="#c0100a"/>
<rect x="219.9" y="89.0" width="1.2" height="1.2" fill="#ff4c2c"/>
<rect x="230.6" y="142.0" width="1.2" height="1.2" fill="#f43c24"/>
<rect x="231.4" y="143.6" width="1.2" height="1.2" fill="#d41a10"/>
<rect x="239.0" y="120.2" width="1.2" height="1.2" fill="#c0100a"/>
<rect x="226.0" y="130.6" width="1.2" height="1.2" fill="#e8281c"/>
<rect x="221.9" y="118.0" width="1.2" height="1.2" fill="#c0100a"/>
<rect x="202.0" y="97.0" width="1.2" height="1.2" fill="#c0100a"/>
<rect x="221.9" y="129.7" width="1.2" height="1.2" fill="#e8281c"/>
<rect x="219.9" y="93.0" width="1.2" height="1.2" fill="#d41a10"/>
<rect x="224.3" y="102.6" width="1.2" height="1.2" fill="#c0100a"/>
<rect x="231.2" y="95.1" width="1.2" height="1.2" fill="#cc160e"/>
<rect x="228.0" y="107.4" width="1.2" height="1.2" fill="#e8281c"/>
<rect x="224.0" y="118.3" width="1.2" height="1.2" fill="#ff4c2c"/>
<rect x="229.4" y="129.8" width="1.2" height="1.2" fill="#f43c24"/>
<rect x="226.7" y="96.1" width="1.2" height="1.2" fill="#f02a18"/>
<rect x="206.7" y="104.5" width="1.2" height="1.2" fill="#e8281c"/>
<rect x="227.3" y="106.2" width="1.2" height="1.2" fill="#cc160e"/>
<rect x="221.0" y="83.5" width="1.2" height="1.2" fill="#d41a10"/>
<rect x="219.0" y="79.2" width="1.2" height="1.2" fill="#c0100a"/>
<rect x="228.5" y="114.4" width="1.2" height="1.2" fill="#f02a18"/>
<rect x="221.1" y="118.0" width="1.2" height="1.2" fill="#e62014"/>
<rect x="241.4" y="122.3" width="1.2" height="1.2" fill="#cc160e"/>
<rect x="242.5" y="101.1" width="1.2" height="1.2" fill="#cc160e"/>
<rect x="236.0" y="111.0" width="1.2" height="1.2" fill="#ff4c2c"/>
<rect x="229.4" y="135.4" width="1.2" height="1.2" fill="#f02a18"/>
<rect x="234.8" y="123.0" width="1.2" height="1.2" fill="#cc160e"/>
<rect x="230.4" y="126.5" width="1.2" height="1.2" fill="#e62014"/>
<rect x="227.2" y="107.7" width="1.2" height="1.2" fill="#e62014"/>
<rect x="222.0" y="111.9" width="1.2" height="1.2" fill="#b00c08"/>
<rect x="218.2" y="104.1" width="1.2" height="1.2" fill="#f02a18"/>
<rect x="221.5" y="114.5" width="1.2" height="1.2" fill="#f02a18"/>
<rect x="217.9" y="104.3" width="1.2" height="1.2" fill="#b00c08"/>
<rect x="240.3" y="97.0" width="1.2" height="1.2" fill="#cc160e"/>
<rect x="225.9" y="127.3" width="1.2" height="1.2" fill="#e62014"/>
<rect x="221.4" y="103.2" width="1.2" height="1.2" fill="#c0100a"/>
<rect x="221.0" y="97.5" width="1.2" height="1.2" fill="#e62014"/>
<rect x="237.4" y="135.8" width="1.2" height="1.2" fill="#f43c24"/>
<rect x="232.4" y="126.5" width="1.2" height="1.2" fill="#c0100a"/>
<rect x="221.5" y="91.2" width="1.2" height="1.2" fill="#c0100a"/>
<rect x="215.3" y="100.0" width="1.2" height="1.2" fill="#e8281c"/>
<rect x="247.8" y="128.6" width="1.2" height="1.2" fill="#b00c08"/>
<rect x="230.0" y="110.2" width="1.2" height="1.2" fill="#b00c08"/>
<rect x="239.4" y="111.8" width="1.2" height="1.2" fill="#f43c24"/>
<rect x="233.4" y="118.0" width="1.2" height="1.2" fill="#d41a10"/>
<rect x="228.6" y="102.8" width="1.2" height="1.2" fill="#cc160e"/>
<rect x="229.1" y="86.9" width="1.2" height="1.2" fill="#ff4c2c"/>
<rect x="215.3" y="75.5" width="1.2" height="1.2" fill="#b00c08"/>
<rect x="222.0" y="131.0" width="1.2" height="1.2" fill="#c0100a"/>
<rect x="231.9" y="67.8" width="1.2" height="1.2" fill="#e62014"/>
<rect x="224.6" y="113.7" width="1.2" height="1.2" fill="#b00c08"/>
<rect x="241.8" y="102.8" width="1.2" height="1.2" fill="#e62014"/>
<rect x="231.1" y="133.2" width="1.2" height="1.2" fill="#b00c08"/>
<rect x="227.0" y="135.1" width="1.2" height="1.2" fill="#e8281c"/>
<rect x="232.2" y="89.1" width="1.2" height="1.2" fill="#ff4c2c"/>
<rect x="229.9" y="109.9" width="1.2" height="1.2" fill="#d41a10"/>
<rect x="227.7" y="86.2" width="1.2" height="1.2" fill="#e62014"/>
<rect x="232.1" y="128.7" width="1.2" height="1.2" fill="#f43c24"/>
<rect x="219.2" y="114.3" width="1.2" height="1.2" fill="#c0100a"/>
<rect x="201.1" y="110.7" width="1.2" height="1.2" fill="#e62014"/>
<rect x="221.5" y="98.3" width="1.2" height="1.2" fill="#e8281c"/>
<rect x="234.2" y="110.8" width="1.2" height="1.2" fill="#f02a18"/>
<rect x="224.3" y="94.8" width="1.2" height="1.2" fill="#f43c24"/>
<rect x="236.8" y="127.3" width="1.2" height="1.2" fill="#c0100a"/>
<rect x="241.7" y="124.7" width="1.2" height="1.2" fill="#f02a18"/>
<rect x="216.4" y="106.1" width="1.2" height="1.2" fill="#b00c08"/>
<rect x="206.7" y="104.7" width="1.2" height="1.2" fill="#b00c08"/>
<rect x="233.5" y="119.4" width="1.2" height="1.2" fill="#f02a18"/>
<rect x="233.5" y="115.4" width="1.2" height="1.2" fill="#f43c24"/>
<rect x="239.4" y="119.8" width="1.2" height="1.2" fill="#e62014"/>
<rect x="232.1" y="87.5" width="1.2" height="1.2" fill="#e62014"/>
<rect x="215.0" y="80.4" width="1.2" height="1.2" fill="#b00c08"/>
<rect x="219.3" y="94.5" width="1.2" height="1.2" fill="#c0100a"/>
<rect x="226.7" y="108.6" width="1.2" height="1.2" fill="#ff4c2c"/>
<rect x="217.7" y="103.2" width="1.2" height="1.2" fill="#cc160e"/>
<rect x="243.7" y="106.7" width="1.2" height="1.2" fill="#ff4c2c"/>
<rect x="231.3" y="117.1" width="1.2" height="1.2" fill="#ff4c2c"/>
<rect x="229.4" y="123.9" width="1.2" height="1.2" fill="#c0100a"/>
<rect x="223.8" y="106.7" width="1.2" height="1.2" fill="#f02a18"/>
<rect x="224.9" y="115.8" width="1.2" height="1.2" fill="#f43c24"/>
<rect x="211.4" y="78.5" width="1.2" height="1.2" fill="#cc160e"/>
<rect x="207.2" y="101.0" width="1.2" height="1.2" fill="#f02a18"/>
<rect x="222.2" y="93.6" width="1.2" height="1.2" fill="#e62014"/>
<rect x="233.1" y="104.2" width="1.2" height="1.2" fill="#e8281c"/>
<rect x="217.6" y="103.9" width="1.2" height="1.2" fill="#b00c08"/>
<rect x="200.2" y="99.2" width="1.2" height="1.2" fill="#e62014"/>
<rect x="234.4" y="142.5" width="1.2" height="1.2" fill="#f02a18"/>
<rect x="222.9" y="104.8" width="1.2" height="1.2" fill="#e62014"/>
<rect x="220.2" y="83.5" width="1.2" height="1.2" fill="#b00c08"/>
<rect x="229.6" y="126.6" width="1.2" height="1.2" fill="#f43c24"/>
<rect x="240.1" y="99.2" width="1.2" height="1.2" fill="#c0100a"/>
<rect x="218.2" y="69.4" width="1.2" height="1.2" fill="#ff4c2c"/>
<rect x="239.1" y="117.3" width="1.2" height="1.2" fill="#ff4c2c"/>
<rect x="239.0" y="106.9" width="1.2" height="1.2" fill="#b00c08"/>
<rect x="237.2" y="117.9" width="1.2" height="1.2" fill="#f43c24"/>
<rect x="225.0" y="91.1" width="1.2" height="1.2" fill="#e8281c"/>
<rect x="237.2" y="128.0" width="1.2" height="1.2" fill="#d41a10"/>
<rect x="241.4" y="104.4" width="1.2" height="1.2" fill="#d41a10"/>
<rect x="233.6" y="123.4" width="1.2" height="1.2" fill="#f02a18"/>
<rect x="224.3" y="88.7" width="1.2" height="1.2" fill="#d41a10"/>
<rect x="207.8" y="93.1" width="1.2" height="1.2" fill="#cc160e"/>
<rect x="234.1" y="117.5" width="1.2" height="1.2" fill="#f43c24"/>
<rect x="201.6" y="98.7" width="1.2" height="1.2" fill="#f43c24"/>
<rect x="219.2" y="106.0" width="1.2" height="1.2" fill="#f43c24"/>
<rect x="247.6" y="133.5" width="1.2" height="1.2" fill="#e8281c"/>
<rect x="220.5" y="113.5" width="1.2" height="1.2" fill="#b00c08"/>
<rect x="200.4" y="94.1" width="1.2" height="1.2" fill="#f43c24"/>
<rect x="225.4" y="84.9" width="1.2" height="1.2" fill="#f43c24"/>
<rect x="215.5" y="96.3" width="1.2" height="1.2" fill="#b00c08"/>
<rect x="238.7" y="96.2" width="1.2" height="1.2" fill="#e8281c"/>
<rect x="227.8" y="64.5" width="1.2" height="1.2" fill="#d41a10"/>
<rect x="225.1" y="137.4" width="1.2" height="1.2" fill="#f02a18"/>
<rect x="238.9" y="112.7" width="1.2" height="1.2" fill="#f43c24"/>
<rect x="224.1" y="102.8" width="1.2" height="1.2" fill="#cc160e"/>
<rect x="208.8" y="82.3" width="1.2" height="1.2" fill="#e62014"/>
<rect x="209.9" y="90.3" width="1.2" height="1.2" fill="#e62014"/>
<rect x="221.5" y="90.8" width="1.2" height="1.2" fill="#cc160e"/>
<rect x="223.8" y="106.3" width="1.2" height="1.2" fill="#e8281c"/>
<rect x="206.9" y="98.2" width="1.2" height="1.2" fill="#c0100a"/>
<rect x="244.5" y="110.0" width="1.2" height="1.2" fill="#c0100a"/>
<rect x="237.5" y="114.6" width="1.2" height="1.2" fill="#cc160e"/>
<rect x="225.2" y="65.5" width="1.2" height="1.2" fill="#b00c08"/>
<rect x="225.7" y="126.5" width="1.2" height="1.2" fill="#c0100a"/>
<rect x="233.1" y="126.3" width="1.2" height="1.2" fill="#cc160e"/>
<rect x="204.2" y="85.1" width="1.2" height="1.2" fill="#c0100a"/>
<rect x="214.1" y="76.5" width="1.2" height="1.2" fill="#e8281c"/>
<rect x="212.3" y="83.9" width="1.2" height="1.2" fill="#e62014"/>
<rect x="228.4" y="128.8" width="1.2" height="1.2" fill="#e62014"/>
<rect x="217.7" y="81.5" width="1.2" height="1.2" fill="#cc160e"/>
<rect x="231.0" y="139.6" width="1.2" height="1.2" fill="#b00c08"/>
<rect x="224.3" y="84.0" width="1.2" height="1.2" fill="#ff4c2c"/>
<rect x="216.9" y="83.8" width="1.2" height="1.2" fill="#f43c24"/>
<rect x="236.9" y="103.1" width="1.2" height="1.2" fill="#d41a10"/>
<rect x="203.5" y="86.9" width="1.2" height="1.2" fill="#e62014"/>
<rect x="235.4" y="141.6" width="1.2" height="1.2" fill="#f02a18"/>
<rect x="243.2" y="121.0" width="1.2" height="1.2" fill="#cc160e"/>
<rect x="222.9" y="80.9" width="1.2" height="1.2" fill="#c0100a"/>
<rect x="219.5" y="85.9" width="1.2" height="1.2" fill="#b00c08"/>
<rect x="241.8" y="102.8" width="1.2" height="1.2" fill="#f43c24"/>
<rect x="233.3" y="105.5" width="1.2" height="1.2" fill="#e62014"/>
<rect x="224.0" y="86.8" width="1.2" height="1.2" fill="#cc160e"/>
<rect x="236.1" y="102.9" width="1.2" height="1.2" fill="#ff4c2c"/>
<rect x="210.8" y="84.0" width="1.2" height="1.2" fill="#ff4c2c"/>
<rect x="217.3" y="91.9" width="1.2" height="1.2" fill="#e62014"/>
<rect x="232.5" y="120.0" width="1.2" height="1.2" fill="#f02a18"/>
<rect x="237.1" y="130.6" width="1.2" height="1.2" fill="#cc160e"/>
<rect x="217.9" y="82.4" width="1.2" height="1.2" fill="#b00c08"/>
<rect x="223.9" y="112.6" width="1.2" height="1.2" fill="#e8281c"/>
<rect x="202.1" y="105.9" width="1.2" height="1.2" fill="#e8281c"/>
<rect x="226.4" y="81.6" width="1.2" height="1.2" fill="#cc160e"/>
<rect x="244.2" y="103.9" width="1.2" height="1.2" fill="#f02a18"/>
<rect x="204.5" y="103.1" width="1.2" height="1.2" fill="#e62014"/>
<rect x="229.5" y="85.3" width="1.2" height="1.2" fill="#b00c08"/>
<rect x="223.4" y="114.6" width="1.2" height="1.2" fill="#e62014"/>
<rect x="225.4" y="100.8" width="1.2" height="1.2" fill="#cc160e"/>
<rect x="223.4" y="68.0" width="1.2" height="1.2" fill="#cc160e"/>
<rect x="234.9" y="111.8" width="1.2" height="1.2" fill="#f43c24"/>
<rect x="203.0" y="90.9" width="1.2" height="1.2" fill="#e62014"/>
<rect x="235.0" y="93.0" width="1.2" height="1.2" fill="#d41a10"/>
<rect x="243.6" y="109.5" width="1.2" height="1.2" fill="#f43c24"/>
<rect x="205.0" y="94.4" width="1.2" height="1.2" fill="#f02a18"/>
<rect x="242.0" y="110.3" width="1.2" height="1.2" fill="#ff4c2c"/>
<rect x="210.3" y="94.0" width="1.2" height="1.2" fill="#cc160e"/>
<rect x="234.3" y="123.5" width="1.2" height="1.2" fill="#f43c24"/>
<rect x="246.2" y="129.4" width="1.2" height="1.2" fill="#b00c08"/>
<rect x="212.7" y="96.0" width="1.2" height="1.2" fill="#d41a10"/>
<rect x="234.9" y="146.4" width="1.2" height="1.2" fill="#c0100a"/>
<rect x="223.9" y="88.7" width="1.2" height="1.2" fill="#e62014"/>
<rect x="225.6" y="86.4" width="1.2" height="1.2" fill="#e8281c"/>
<rect x="222.1" y="103.7" width="1.2" height="1.2" fill="#d41a10"/>
<rect x="219.6" y="81.4" width="1.2" height="1.2" fill="#cc160e"/>
<rect x="211.2" y="80.1" width="1.2" height="1.2" fill="#e8281c"/>
<rect x="235.7" y="120.0" width="1.2" height="1.2" fill="#e62014"/>
<rect x="224.9" y="94.0" width="1.2" height="1.2" fill="#e8281c"/>
<rect x="221.7" y="106.6" width="1.2" height="1.2" fill="#cc160e"/>
<rect x="223.3" y="81.3" width="1.2" height="1.2" fill="#e62014"/>
<rect x="227.3" y="106.6" width="1.2" height="1.2" fill="#f43c24"/>
<rect x="207.3" y="99.6" width="1.2" height="1.2" fill="#cc160e"/>
<rect x="222.0" y="108.4" width="1.2" height="1.2" fill="#e62014"/>
<rect x="217.8" y="99.7" width="1.2" height="1.2" fill="#cc160e"/>
<rect x="238.1" y="126.1" width="1.2" height="1.2" fill="#f43c24"/>
<rect x="214.5" y="95.8" width="1.2" height="1.2" fill="#b00c08"/>
<rect x="225.1" y="114.8" width="1.2" height="1.2" fill="#e62014"/>
<rect x="237.7" y="127.5" width="1.2" height="1.2" fill="#cc160e"/>
<rect x="241.6" y="109.9" width="1.2" height="1.2" fill="#c0100a"/>
<rect x="225.6" y="118.7" width="1.2" height="1.2" fill="#f43c24"/>
<rect x="238.0" y="95.6" width="1.2" height="1.2" fill="#b00c08"/>
<rect x="227.8" y="109.3" width="1.2" height="1.2" fill="#e62014"/>
<rect x="233.6" y="88.8" width="1.2" height="1.2" fill="#c0100a"/>
<rect x="230.4" y="106.0" width="1.2" height="1.2" fill="#e62014"/>
<rect x="222.3" y="78.0" width="1.2" height="1.2" fill="#c0100a"/>
<rect x="230.2" y="63.7" width="1.2" height="1.2" fill="#b00c08"/>
<rect x="226.9" y="129.5" width="1.2" height="1.2" fill="#e8281c"/>
<rect x="208.9" y="85.3" width="1.2" height="1.2" fill="#f43c24"/>
<rect x="231.5" y="118.8" width="1.2" height="1.2" fill="#b00c08"/>
<rect x="235.9" y="140.1" width="1.2" height="1.2" fill="#e62014"/>
<rect x="244.5" y="125.6" width="1.2" height="1.2" fill="#f02a18"/>
<rect x="216.9" y="81.9" width="1.2" height="1.2" fill="#cc160e"/>
<rect x="224.4" y="106.3" width="1.2" height="1.2" fill="#d41a10"/>
<rect x="218.3" y="96.7" width="1.2" height="1.2" fill="#f43c24"/>
<rect x="219.4" y="102.6" width="1.2" height="1.2" fill="#e62014"/>
<rect x="225.4" y="138.6" width="1.2" height="1.2" fill="#f43c24"/>
<rect x="227.4" y="89.1" width="1.2" height="1.2" fill="#ff4c2c"/>
<rect x="210.8" y="86.6" width="1.2" height="1.2" fill="#d41a10"/>
<rect x="234.9" y="108.8" width="1.2" height="1.2" fill="#e62014"/>
<rect x="212.3" y="95.8" width="1.2" height="1.2" fill="#ff4c2c"/>
<rect x="232.9" y="106.6" width="1.2" height="1.2" fill="#e62014"/>
<rect x="238.3" y="103.9" width="1.2" height="1.2" fill="#cc160e"/>
<rect x="215.9" y="91.1" width="1.2" height="1.2" fill="#cc160e"/>
<rect x="215.7" y="86.5" width="1.2" height="1.2" fill="#f43c24"/>
<rect x="223.4" y="118.4" width="1.2" height="1.2" fill="#e62014"/>
<rect x="224.2" y="133.2" width="1.2" height="1.2" fill="#c0100a"/>
<rect x="218.9" y="99.7" width="1.2" height="1.2" fill="#e8281c"/>
<rect x="202.2" y="89.7" width="1.2" height="1.2" fill="#cc160e"/>
<rect x="230.8" y="140.2" width="1.2" height="1.2" fill="#cc160e"/>
<rect x="222.8" y="124.5" width="1.2" height="1.2" fill="#f43c24"/>
<rect x="226.0" y="82.2" width="1.2" height="1.2" fill="#ff4c2c"/>
<rect x="208.8" y="89.0" width="1.2" height="1.2" fill="#b00c08"/>
<rect x="234.4" y="118.9" width="1.2" height="1.2" fill="#b00c08"/>
<rect x="239.6" y="104.5" width="1.2" height="1.2" fill="#e62014"/>
<rect x="225.8" y="70.7" width="1.2" height="1.2" fill="#c0100a"/>
<rect x="215.1" y="93.5" width="1.2" height="1.2" fill="#d41a10"/>
<rect x="236.1" y="131.4" width="1.2" height="1.2" fill="#cc160e"/>
<rect x="242.7" y="134.6" width="1.2" height="1.2" fill="#e8281c"/>
<rect x="234.8" y="89.5" width="1.2" height="1.2" fill="#cc160e"/>
<rect x="221.0" y="68.8" width="1.2" height="1.2" fill="#cc160e"/>
<rect x="213.3" y="76.1" width="1.2" height="1.2" fill="#cc160e"/>
<rect x="234.6" y="113.9" width="1.2" height="1.2" fill="#c0100a"/>
<rect x="241.5" y="113.7" width="1.2" height="1.2" fill="#f02a18"/>
<rect x="216.2" y="95.7" width="1.2" height="1.2" fill="#d41a10"/>
<rect x="236.5" y="133.4" width="1.2" height="1.2" fill="#f02a18"/>
<rect x="216.2" y="104.5" width="1.2" height="1.2" fill="#f02a18"/>
<rect x="247.1" y="133.0" width="1.2" height="1.2" fill="#f43c24"/>
<rect x="222.0" y="121.4" width="1.2" height="1.2" fill="#f02a18"/>
<rect x="237.4" y="134.4" width="1.2" height="1.2" fill="#c0100a"/>
<rect x="219.4" y="103.7" width="1.2" height="1.2" fill="#f02a18"/>
<rect x="223.4" y="103.8" width="1.2" height="1.2" fill="#ff4c2c"/>
<rect x="222.3" y="129.3" width="1.2" height="1.2" fill="#d41a10"/>
<rect x="222.7" y="90.7" width="1.2" height="1.2" fill="#f02a18"/>
<rect x="244.5" y="121.8" width="1.2" height="1.2" fill="#c0100a"/>
<rect x="232.0" y="101.2" width="1.2" height="1.2" fill="#d41a10"/>
<rect x="214.8" y="88.9" width="1.2" height="1.2" fill="#c0100a"/>
<rect x="218.2" y="77.5" width="1.2" height="1.2" fill="#e62014"/>
<rect x="210.1" y="89.0" width="1.2" height="1.2" fill="#b00c08"/>
<rect x="228.0" y="121.7" width="1.2" height="1.2" fill="#b00c08"/>
<rect x="219.2" y="94.5" width="1.2" height="1.2" fill="#c0100a"/>
<rect x="206.2" y="83.8" width="1.2" height="1.2" fill="#b00c08"/>
<rect x="226.2" y="136.9" width="1.2" height="1.2" fill="#f02a18"/>
<rect x="205.2" y="99.5" width="1.2" height="1.2" fill="#f43c24"/>
<rect x="222.1" y="120.6" width="1.2" height="1.2" fill="#cc160e"/>
<rect x="232.2" y="92.9" width="1.2" height="1.2" fill="#ff4c2c"/>
<rect x="208.4" y="87.8" width="1.2" height="1.2" fill="#f43c24"/>
<rect x="236.8" y="123.6" width="1.2" height="1.2" fill="#f43c24"/>
<rect x="221.8" y="99.6" width="1.2" height="1.2" fill="#f43c24"/>
<rect x="199.4" y="112.3" width="1.2" height="1.2" fill="#b00c08"/>
<rect x="224.3" y="127.1" width="1.2" height="1.2" fill="#f43c24"/>
<rect x="237.7" y="99.8" width="1.2" height="1.2" fill="#d41a10"/>
<rect x="211.1" y="80.4" width="1.2" height="1.2" fill="#e62014"/>
<rect x="212.7" y="84.3" width="1.2" height="1.2" fill="#c0100a"/>
<rect x="241.0" y="115.5" width="1.2" height="1.2" fill="#e8281c"/>
<rect x="228.8" y="98.6" width="1.2" height="1.2" fill="#c0100a"/>
<rect x="236.4" y="111.1" width="1.2" height="1.2" fill="#c0100a"/>
<rect x="226.1" y="130.4" width="1.2" height="1.2" fill="#e62014"/>
<rect x="238.9" y="98.1" width="1.2" height="1.2" fill="#f43c24"/>
<rect x="229.1" y="84.8" width="1.2" height="1.2" fill="#cc160e"/>
<rect x="231.6" y="112.8" width="1.2" height="1.2" fill="#e8281c"/>
<rect x="247.9" y="129.6" width="1.2" height="1.2" fill="#e8281c"/>
<rect x="213.4" y="80.3" width="1.2" height="1.2" fill="#c0100a"/>
<rect x="225.1" y="71.5" width="1.2" height="1.2" fill="#d41a10"/>
<rect x="225.5" y="107.9" width="1.2" height="1.2" fill="#f43c24"/>
<rect x="239.8" y="136.1" width="1.2" height="1.2" fill="#e62014"/>
<rect x="237.6" y="107.4" width="1.2" height="1.2" fill="#e8281c"/>
<rect x="228.8" y="85.1" width="1.2" height="1.2" fill="#cc160e"/>
<rect x="229.3" y="127.0" width="1.2" height="1.2" fill="#ff4c2c"/>
<rect x="216.1" y="101.3" width="1.2" height="1.2" fill="#e8281c"/>
<rect x="230.9" y="110.3" width="1.2" height="1.2" fill="#e8281c"/>
<rect x="208.0" y="90.0" width="1.2" height="1.2" fill="#ff4c2c"/>
<rect x="236.8" y="106.8" width="1.2" height="1.2" fill="#c0100a"/>
<rect x="232.3" y="113.4" width="1.2" height="1.2" fill="#cc160e"/>
<rect x="206.0" y="93.3" width="1.2" height="1.2" fill="#ff4c2c"/>
<rect x="229.7" y="86.2" width="1.2" height="1.2" fill="#ff4c2c"/>
<rect x="231.5" y="135.6" width="1.2" height="1.2" fill="#cc160e"/>
<rect x="238.9" y="104.3" width="1.2" height="1.2" fill="#d41a10"/>
<rect x="232.3" y="89.1" width="1.2" height="1.2" fill="#f43c24"/>
<rect x="222.3" y="71.4" width="1.2" height="1.2" fill="#f43c24"/>
<rect x="219.9" y="90.1" width="1.2" height="1.2" fill="#e8281c"/>
<rect x="210.5" y="94.3" width="1.2" height="1.2" fill="#e8281c"/>
<rect x="229.7" y="102.9" width="1.2" height="1.2" fill="#cc160e"/>
<rect x="213.1" y="99.5" width="1.2" height="1.2" fill="#ff4c2c"/>
<rect x="207.1" y="100.0" width="1.2" height="1.2" fill="#e8281c"/>
<rect x="225.8" y="102.0" width="1.2" height="1.2" fill="#e62014"/>
<rect x="225.6" y="136.9" width="1.2" height="1.2" fill="#f02a18"/>
<rect x="200.1" y="100.9" width="1.2" height="1.2" fill="#d41a10"/>
<rect x="226.3" y="134.8" width="1.2" height="1.2" fill="#c0100a"/>
<rect x="219.6" y="95.0" width="1.2" height="1.2" fill="#f43c24"/>
<rect x="218.8" y="110.8" width="1.2" height="1.2" fill="#ff4c2c"/>
<rect x="237.2" y="113.4" width="1.2" height="1.2" fill="#f02a18"/>
<rect x="221.6" y="92.0" width="1.2" height="1.2" fill="#e8281c"/>
<rect x="229.0" y="70.6" width="1.2" height="1.2" fill="#f43c24"/>
<rect x="210.5" y="76.6" width="1.2" height="1.2" fill="#ff4c2c"/>
<rect x="240.4" y="115.5" width="1.2" height="1.2" fill="#cc160e"/>
<rect x="211.3" y="90.2" width="1.2" height="1.2" fill="#ff4c2c"/>
<rect x="235.5" y="130.7" width="1.2" height="1.2" fill="#ff4c2c"/>
<rect x="235.4" y="100.1" width="1.2" height="1.2" fill="#f02a18"/>
<rect x="221.5" y="77.4" width="1.2" height="1.2" fill="#e8281c"/>
<rect x="233.5" y="135.0" width="1.2" height="1.2" fill="#cc160e"/>
<rect x="222.3" y="97.0" width="1.2" height="1.2" fill="#d41a10"/>
<rect x="226.9" y="98.9" width="1.2" height="1.2" fill="#b00c08"/>
<rect x="240.5" y="112.0" width="1.2" height="1.2" fill="#d41a10"/>
<rect x="206.1" y="100.5" width="1.2" height="1.2" fill="#f43c24"/>
<rect x="239.2" y="139.0" width="1.2" height="1.2" fill="#c0100a"/>
<rect x="229.9" y="121.6" width="1.2" height="1.2" fill="#e62014"/>
<rect x="243.8" y="112.3" width="1.2" height="1.2" fill="#f02a18"/>
<rect x="238.0" y="129.6" width="1.2" height="1.2" fill="#f43c24"/>
<rect x="241.2" y="129.1" width="1.2" height="1.2" fill="#c0100a"/>
<rect x="203.5" y="90.5" width="1.2" height="1.2" fill="#f02a18"/>
<rect x="236.8" y="97.6" width="1.2" height="1.2" fill="#ff4c2c"/>
<rect x="218.8" y="82.8" width="1.2" height="1.2" fill="#ff4c2c"/>
<rect x="223.5" y="85.5" width="1.2" height="1.2" fill="#b00c08"/>
<rect x="219.3" y="96.2" width="1.2" height="1.2" fill="#f43c24"/>
<rect x="230.8" y="129.3" width="1.2" height="1.2" fill="#ff4c2c"/>
<rect x="233.7" y="138.2" width="1.2" height="1.2" fill="#e62014"/>
<rect x="221.0" y="70.4" width="1.2" height="1.2" fill="#e8281c"/>
<rect x="239.4" y="103.3" width="1.2" height="1.2" fill="#c0100a"/>
<rect x="227.4" y="117.8" width="1.2" height="1.2" fill="#d41a10"/>
<rect x="222.1" y="102.9" width="1.2" height="1.2" fill="#e8281c"/>
<rect x="216.2" y="94.9" width="1.2" height="1.2" fill="#e8281c"/>
<rect x="215.6" y="77.3" width="1.2" height="1.2" fill="#e62014"/>
<rect x="214.6" y="96.7" width="1.2" height="1.2" fill="#ff4c2c"/>
<rect x="232.1" y="122.7" width="1.2" height="1.2" fill="#f02a18"/>
<rect x="228.0" y="86.6" width="1.2" height="1.2" fill="#d41a10"/>
<rect x="234.1" y="93.4" width="1.2" height="1.2" fill="#f43c24"/>
<rect x="234.3" y="129.2" width="1.2" height="1.2" fill="#cc160e"/>
<rect x="226.0" y="115.5" width="1.2" height="1.2" fill="#c0100a"/>
<rect x="224.5" y="110.7" width="1.2" height="1.2" fill="#d41a10"/>
<rect x="212.7" y="76.8" width="1.2" height="1.2" fill="#b00c08"/>
<rect x="209.6" y="96.6" width="1.2" height="1.2" fill="#f02a18"/>
<rect x="228.8" y="118.0" width="1.2" height="1.2" fill="#e62014"/>
<rect x="239.0" y="102.4" width="1.2" height="1.2" fill="#c0100a"/>
<rect x="237.8" y="127.5" width="1.2" height="1.2" fill="#e62014"/>
<rect x="208.3" y="79.5" width="1.2" height="1.2" fill="#cc160e"/>
<rect x="234.2" y="140.5" width="1.2" height="1.2" fill="#f43c24"/>
<rect x="222.6" y="80.1" width="1.2" height="1.2" fill="#b00c08"/>
<rect x="231.0" y="67.5" width="1.2" height="1.2" fill="#e8281c"/>
<rect x="224.9" y="98.6" width="1.2" height="1.2" fill="#e8281c"/>
<rect x="215.0" y="81.7" width="1.2" height="1.2" fill="#e62014"/>
<rect x="236.3" y="92.1" width="1.2" height="1.2" fill="#ff4c2c"/>
<rect x="230.6" y="91.3" width="1.2" height="1.2" fill="#e62014"/>
<rect x="220.7" y="92.2" width="1.2" height="1.2" fill="#ff4c2c"/>
<rect x="203.8" y="88.9" width="1.2" height="1.2" fill="#e62014"/>
<rect x="213.0" y="76.5" width="1.2" height="1.2" fill="#e8281c"/>
<rect x="206.7" y="84.4" width="1.2" height="1.2" fill="#f43c24"/>
<rect x="228.0" y="127.4" width="1.2" height="1.2" fill="#d41a10"/>
<rect x="204.1" y="105.6" width="1.2" height="1.2" fill="#b00c08"/>
<rect x="242.8" y="106.5" width="1.2" height="1.2" fill="#b00c08"/>
<rect x="220.4" y="121.0" width="1.2" height="1.2" fill="#f02a18"/>
<rect x="221.4" y="90.4" width="1.2" height="1.2" fill="#f02a18"/>
<rect x="217.8" y="79.1" width="1.2" height="1.2" fill="#c0100a"/>
<rect x="221.4" y="67.7" width="1.2" height="1.2" fill="#ff4c2c"/>
<rect x="213.4" y="96.8" width="1.2" height="1.2" fill="#e8281c"/>
<rect x="231.7" y="86.0" width="1.2" height="1.2" fill="#ff4c2c"/>
<rect x="207.0" y="88.2" width="1.2" height="1.2" fill="#f02a18"/>
<rect x="224.8" y="68.1" width="1.2" height="1.2" fill="#e8281c"/>
<rect x="243.9" y="105.8" width="1.2" height="1.2" fill="#f02a18"/>
<rect x="220.4" y="80.2" width="1.2" height="1.2" fill="#d41a10"/>
<rect x="224.1" y="79.7" width="1.2" height="1.2" fill="#e8281c"/>
<rect x="236.3" y="128.7" width="1.2" height="1.2" fill="#e62014"/>
<rect x="227.4" y="130.6" width="1.2" height="1.2" fill="#c0100a"/>
<rect x="232.1" y="123.7" width="1.2" height="1.2" fill="#f43c24"/>
<rect x="216.9" y="87.4" width="1.2" height="1.2" fill="#f02a18"/>
<rect x="221.0" y="92.1" width="1.2" height="1.2" fill="#c0100a"/>
<rect x="218.7" y="79.4" width="1.2" height="1.2" fill="#d41a10"/>
<rect x="217.3" y="87.9" width="1.2" height="1.2" fill="#d41a10"/>
<rect x="215.8" y="90.6" width="1.2" height="1.2" fill="#c0100a"/>
<rect x="236.2" y="102.4" width="1.2" height="1.2" fill="#c0100a"/>
<rect x="225.5" y="84.4" width="1.2" height="1.2" fill="#f02a18"/>
<rect x="232.7" y="117.0" width="1.2" height="1.2" fill="#d41a10"/>
<rect x="211.4" y="76.5" width="1.2" height="1.2" fill="#cc160e"/>
<rect x="215.3" y="93.9" width="1.2" height="1.2" fill="#ff4c2c"/>
<rect x="219.4" y="116.9" width="1.2" height="1.2" fill="#cc160e"/>
<rect x="204.2" y="95.1" width="1.2" height="1.2" fill="#ff4c2c"/>
<rect x="221.3" y="98.7" width="1.2" height="1.2" fill="#e8281c"/>
<rect x="235.2" y="138.7" width="1.2" height="1.2" fill="#d41a10"/>
<rect x="218.5" y="91.9" width="1.2" height="1.2" fill="#d41a10"/>
<rect x="245.3" y="109.7" width="1.2" height="1.2" fill="#cc160e"/>
<rect x="216.6" y="89.4" width="1.2" height="1.2" fill="#c0100a"/>
<rect x="227.0" y="131.2" width="1.2" height="1.2" fill="#e8281c"/>
<rect x="228.4" y="111.0" width="1.2" height="1.2" fill="#f43c24"/>
<rect x="217.5" y="101.7" width="1.2" height="1.2" fill="#d41a10"/>
<rect x="224.4" y="109.6" width="1.2" height="1.2" fill="#f02a18"/>
<rect x="241.1" y="123.0" width="1.2" height="1.2" fill="#e62014"/>
<rect x="227.3" y="121.9" width="1.2" height="1.2" fill="#f02a18"/>
<rect x="207.0" y="102.5" width="1.2" height="1.2" fill="#cc160e"/>
<rect x="225.1" y="108.6" width="1.2" height="1.2" fill="#e62014"/>
<rect x="234.2" y="140.4" width="1.2" height="1.2" fill="#cc160e"/>
<rect x="239.5" y="129.0" width="1.2" height="1.2" fill="#d41a10"/>
<rect x="234.4" y="120.3" width="1.2" height="1.2" fill="#b00c08"/>
<rect x="232.8" y="129.3" width="1.2" height="1.2" fill="#c0100a"/>
<rect x="229.0" y="109.6" width="1.2" height="1.2" fill="#e8281c"/>
<rect x="239.5" y="103.6" width="1.2" height="1.2" fill="#c0100a"/>
<rect x="237.2" y="134.4" width="1.2" height="1.2" fill="#f43c24"/>
<rect x="228.7" y="70.1" width="1.2" height="1.2" fill="#f02a18"/>
<rect x="229.4" y="141.9" width="1.2" height="1.2" fill="#e62014"/>
<rect x="228.4" y="99.6" width="1.2" height="1.2" fill="#ff4c2c"/>
<rect x="230.8" y="97.1" width="1.2" height="1.2" fill="#ff4c2c"/>
<rect x="211.0" y="81.1" width="1.2" height="1.2" fill="#ff4c2c"/>
<rect x="222.1" y="110.0" width="1.2" height="1.2" fill="#d41a10"/>
<rect x="228.1" y="136.6" width="1.2" height="1.2" fill="#cc160e"/>
<rect x="201.3" y="100.5" width="1.2" height="1.2" fill="#ff4c2c"/>
<rect x="221.5" y="78.8" width="1.2" height="1.2" fill="#c0100a"/>
<rect x="218.7" y="82.2" width="1.2" height="1.2" fill="#e62014"/>
<rect x="233.3" y="140.8" width="1.2" height="1.2" fill="#cc160e"/>
<rect x="231.0" y="132.6" width="1.2" height="1.2" fill="#b00c08"/>
<rect x="222.3" y="82.6" width="1.2" height="1.2" fill="#e8281c"/>
<rect x="218.7" y="104.8" width="1.2" height="1.2" fill="#f43c24"/>
<rect x="236.4" y="98.3" width="1.2" height="1.2" fill="#b00c08"/>
<rect x="237.9" y="131.8" width="1.2" height="1.2" fill="#b00c08"/>
<rect x="226.1" y="133.5" width="1.2" height="1.2" fill="#cc160e"/>
<rect x="223.9" y="134.8" width="1.2" height="1.2" fill="#f43c24"/>
<rect x="203.8" y="94.4" width="1.2" height="1.2" fill="#c0100a"/>
<rect x="219.2" y="79.6" width="1.2" height="1.2" fill="#cc160e"/>
<rect x="219.0" y="112.8" width="1.2" height="1.2" fill="#d41a10"/>
<rect x="225.9" y="90.4" width="1.2" height="1.2" fill="#f43c24"/>
<rect x="237.5" y="141.0" width="1.2" height="1.2" fill="#cc160e"/>
<rect x="236.5" y="104.2" width="1.2" height="1.2" fill="#cc160e"/>
<rect x="210.6" y="92.2" width="1.2" height="1.2" fill="#e62014"/>
<rect x="236.3" y="143.0" width="1.2" height="1.2" fill="#f43c24"/>
<rect x="204.7" y="91.5" width="1.2" height="1.2" fill="#e62014"/>
<rect x="221.7" y="124.1" width="1.2" height="1.2" fill="#c0100a"/>
<rect x="235.2" y="92.8" width="1.2" height="1.2" fill="#f02a18"/>
<rect x="228.2" y="123.0" width="1.2" height="1.2" fill="#ff4c2c"/>
<rect x="230.8" y="90.3" width="1.2" height="1.2" fill="#f43c24"/>
<rect x="242.9" y="105.6" width="1.2" height="1.2" fill="#d41a10"/>
<rect x="211.2" y="88.2" width="1.2" height="1.2" fill="#f02a18"/>
<rect x="220.1" y="92.6" width="1.2" height="1.2" fill="#d41a10"/>
<rect x="217.1" y="84.0" width="1.2" height="1.2" fill="#cc160e"/>
<rect x="218.0" y="71.1" width="1.2" height="1.2" fill="#c0100a"/>
<rect x="231.6" y="142.3" width="1.2" height="1.2" fill="#f02a18"/>
<rect x="229.0" y="126.0" width="1.2" height="1.2" fill="#d41a10"/>
<rect x="214.7" y="98.4" width="1.2" height="1.2" fill="#c0100a"/>
<rect x="201.5" y="103.9" width="1.2" height="1.2" fill="#b00c08"/>
<rect x="227.3" y="106.2" width="1.2" height="1.2" fill="#e8281c"/>
<rect x="225.9" y="106.8" width="1.2" height="1.2" fill="#f43c24"/>
<rect x="227.6" y="65.4" width="1.2" height="1.2" fill="#f43c24"/>
<rect x="231.3" y="108.3" width="1.2" height="1.2" fill="#f43c24"/>
<rect x="223.7" y="125.3" width="1.2" height="1.2" fill="#cc160e"/>
<rect x="205.5" y="97.1" width="1.2" height="1.2" fill="#c0100a"/>
<rect x="214.5" y="83.9" width="1.2" height="1.2" fill="#c0100a"/>
<rect x="213.3" y="99.3" width="1.2" height="1.2" fill="#e8281c"/>
<rect x="216.1" y="90.4" width="1.2" height="1.2" fill="#d41a10"/>
<rect x="223.7" y="119.5" width="1.2" height="1.2" fill="#c0100a"/>
<rect x="231.8" y="101.7" width="1.2" height="1.2" fill="#cc160e"/>
<rect x="241.6" y="124.8" width="1.2" height="1.2" fill="#f43c24"/>
<rect x="230.4" y="102.7" width="1.2" height="1.2" fill="#b00c08"/>
<rect x="232.3" y="132.7" width="1.2" height="1.2" fill="#b00c08"/>
<rect x="227.3" y="81.4" width="1.2" height="1.2" fill="#f02a18"/>
<rect x="208.7" y="90.9" width="1.2" height="1.2" fill="#f43c24"/>
<rect x="208.3" y="96.3" width="1.2" height="1.2" fill="#c0100a"/>
<rect x="220.8" y="116.5" width="1.2" height="1.2" fill="#cc160e"/>
<rect x="211.9" y="81.6" width="1.2" height="1.2" fill="#cc160e"/>
<rect x="208.5" y="89.4" width="1.2" height="1.2" fill="#e62014"/>
<rect x="201.0" y="100.2" width="1.2" height="1.2" fill="#ff4c2c"/>
<rect x="221.9" y="127.4" width="1.2" height="1.2" fill="#f02a18"/>
<rect x="241.4" y="131.8" width="1.2" height="1.2" fill="#cc160e"/>
<rect x="201.3" y="95.0" width="1.2" height="1.2" fill="#f02a18"/>
<rect x="233.1" y="103.4" width="1.2" height="1.2" fill="#f43c24"/>
<rect x="220.6" y="93.6" width="1.2" height="1.2" fill="#c0100a"/>
<rect x="207.5" y="102.1" width="1.2" height="1.2" fill="#cc160e"/>
<rect x="228.4" y="93.7" width="1.2" height="1.2" fill="#c0100a"/>
<rect x="199.7" y="110.1" width="1.2" height="1.2" fill="#e8281c"/>
<rect x="220.6" y="103.6" width="1.2" height="1.2" fill="#b00c08"/>
<rect x="223.9" y="90.9" width="1.2" height="1.2" fill="#e62014"/>
<rect x="234.2" y="138.6" width="1.2" height="1.2" fill="#f43c24"/>
<rect x="241.5" y="99.7" width="1.2" height="1.2" fill="#e62014"/>
<rect x="222.2" y="123.1" width="1.2" height="1.2" fill="#c0100a"/>
<rect x="203.3" y="93.1" width="1.2" height="1.2" fill="#c0100a"/>
<rect x="238.7" y="124.6" width="1.2" height="1.2" fill="#e8281c"/>
<rect x="219.7" y="82.3" width="1.2" height="1.2" fill="#e62014"/>
<rect x="227.7" y="90.5" width="1.2" height="1.2" fill="#d41a10"/>
<rect x="235.3" y="125.5" width="1.2" height="1.2" fill="#ff4c2c"/>
<rect x="240.6" y="114.5" width="1.2" height="1.2" fill="#e62014"/>
<rect x="201.4" y="101.5" width="1.2" height="1.2" fill="#c0100a"/>
<rect x="228.1" y="105.2" width="1.2" height="1.2" fill="#e62014"/>
<rect x="228.8" y="90.9" width="1.2" height="1.2" fill="#d41a10"/>
<rect x="229.1" y="111.3" width="1.2" height="1.2" fill="#e8281c"/>
<rect x="240.3" y="135.4" width="1.2" height="1.2" fill="#f02a18"/>
<rect x="230.2" y="86.3" width="1.2" height="1.2" fill="#d41a10"/>
<rect x="224.5" y="100.5" width="1.2" height="1.2" fill="#e62014"/>
<rect x="225.7" y="102.1" width="1.2" height="1.2" fill="#e62014"/>
<rect x="223.7" y="121.7" width="1.2" height="1.2" fill="#c0100a"/>
<rect x="223.7" y="127.9" width="1.2" height="1.2" fill="#d41a10"/>
<rect x="225.3" y="83.6" width="1.2" height="1.2" fill="#e62014"/>
<rect x="235.7" y="133.2" width="1.2" height="1.2" fill="#f43c24"/>
<rect x="235.9" y="106.7" width="1.2" height="1.2" fill="#cc160e"/>
<rect x="238.4" y="112.5" width="1.2" height="1.2" fill="#ff4c2c"/>
<rect x="238.1" y="132.8" width="1.2" height="1.2" fill="#d41a10"/>
<rect x="246.5" y="131.7" width="1.2" height="1.2" fill="#f43c24"/>
<rect x="231.2" y="105.2" width="1.2" height="1.2" fill="#c0100a"/>
<rect x="238.7" y="99.3" width="1.2" height="1.2" fill="#d41a10"/>
<rect x="222.7" y="113.6" width="1.2" height="1.2" fill="#b00c08"/>
<rect x="224.0" y="97.3" width="1.2" height="1.2" fill="#d41a10"/>
<rect x="224.3" y="127.7" width="1.2" height="1.2" fill="#b00c08"/>
<rect x="242.8" y="123.6" width="1.2" height="1.2" fill="#d41a10"/>
<rect x="224.2" y="128.0" width="1.2" height="1.2" fill="#c0100a"/>
<rect x="204.6" y="100.6" width="1.2" height="1.2" fill="#ff4c2c"/>
<rect x="222.7" y="117.0" width="1.2" height="1.2" fill="#d41a10"/>
<rect x="240.2" y="104.5" width="1.2" height="1.2" fill="#f02a18"/>
<rect x="245.1" y="125.7" width="1.2" height="1.2" fill="#cc160e"/>
<rect x="245.1" y="129.8" width="1.2" height="1.2" fill="#c0100a"/>
<rect x="232.5" y="128.4" width="1.2" height="1.2" fill="#b00c08"/>
<rect x="238.7" y="104.5" width="1.2" height="1.2" fill="#f02a18"/>
<rect x="228.1" y="113.4" width="1.2" height="1.2" fill="#e62014"/>
<rect x="218.3" y="96.6" width="1.2" height="1.2" fill="#e62014"/>
<rect x="211.3" y="95.9" width="1.2" height="1.2" fill="#e62014"/>
<rect x="243.4" y="101.3" width="1.2" height="1.2" fill="#b00c08"/>
<rect x="212.9" y="91.1" width="1.2" height="1.2" fill="#cc160e"/>
<rect x="231.5" y="108.0" width="1.2" height="1.2" fill="#f02a18"/>
<rect x="234.5" y="93.2" width="1.2" height="1.2" fill="#cc160e"/>
<rect x="213.5" y="77.2" width="1.2" height="1.2" fill="#cc160e"/>
<rect x="234.5" y="126.9" width="1.2" height="1.2" fill="#c0100a"/>
<rect x="220.2" y="109.0" width="1.2" height="1.2" fill="#e8281c"/>
<rect x="201.9" y="93.3" width="1.2" height="1.2" fill="#c0100a"/>
<rect x="234.0" y="93.1" width="1.2" height="1.2" fill="#e62014"/>
<rect x="234.0" y="129.5" width="1.2" height="1.2" fill="#f43c24"/>
<rect x="216.9" y="104.1" width="1.2" height="1.2" fill="#e8281c"/>
<rect x="236.9" y="135.8" width="1.2" height="1.2" fill="#f43c24"/>
<rect x="209.9" y="91.8" width="1.2" height="1.2" fill="#c0100a"/>
<rect x="199.8" y="105.0" width="1.2" height="1.2" fill="#b00c08"/>
<rect x="234.7" y="108.7" width="1.2" height="1.2" fill="#cc160e"/>
<rect x="221.2" y="116.1" width="1.2" height="1.2" fill="#d41a10"/>
<rect x="221.5" y="68.9" width="1.2" height="1.2" fill="#f43c24"/>
<rect x="214.3" y="80.4" width="1.2" height="1.2" fill="#f02a18"/>
<rect x="231.8" y="110.7" width="1.2" height="1.2" fill="#f43c24"/>
<rect x="232.1" y="100.2" width="1.2" height="1.2" fill="#b00c08"/>
<rect x="216.8" y="82.3" width="1.2" height="1.2" fill="#e8281c"/>
<rect x="237.3" y="114.0" width="1.2" height="1.2" fill="#b00c08"/>
<rect x="223.4" y="118.5" width="1.2" height="1.2" fill="#b00c08"/>
<rect x="230.9" y="134.6" width="1.2" height="1.2" fill="#f02a18"/>
<rect x="229.9" y="86.1" width="1.2" height="1.2" fill="#f43c24"/>
<rect x="221.3" y="95.6" width="1.2" height="1.2" fill="#e8281c"/>
<rect x="238.3" y="105.1" width="1.2" height="1.2" fill="#e8281c"/>
<rect x="212.6" y="82.9" width="1.2" height="1.2" fill="#f43c24"/>
<rect x="246.8" y="134.0" width="1.2" height="1.2" fill="#f02a18"/>
<rect x="234.2" y="108.9" width="1.2" height="1.2" fill="#e62014"/>
<rect x="234.8" y="106.0" width="1.2" height="1.2" fill="#cc160e"/>
<rect x="235.6" y="139.0" width="1.2" height="1.2" fill="#f02a18"/>
<rect x="218.7" y="108.8" width="1.2" height="1.2" fill="#cc160e"/>
<rect x="227.8" y="65.9" width="1.2" height="1.2" fill="#d41a10"/>
<rect x="245.5" y="134.2" width="1.2" height="1.2" fill="#c0100a"/>
<rect x="229.2" y="100.4" width="1.2" height="1.2" fill="#f43c24"/>
<rect x="226.0" y="97.2" width="1.2" height="1.2" fill="#f02a18"/>
<rect x="220.2" y="117.0" width="1.2" height="1.2" fill="#b00c08"/>
<rect x="242.0" y="105.9" width="1.2" height="1.2" fill="#f02a18"/>
<rect x="200.1" y="105.0" width="1.2" height="1.2" fill="#e62014"/>
<rect x="217.9" y="99.4" width="1.2" height="1.2" fill="#f02a18"/>
<rect x="227.0" y="126.3" width="1.2" height="1.2" fill="#d41a10"/>
<rect x="231.9" y="109.8" width="1.2" height="1.2" fill="#f43c24"/>
<rect x="208.0" y="98.4" width="1.2" height="1.2" fill="#cc160e"/>
<rect x="227.2" y="94.4" width="1.2" height="1.2" fill="#f02a18"/>
<rect x="227.3" y="132.1" width="1.2" height="1.2" fill="#e62014"/>
<rect x="204.1" y="99.8" width="1.2" height="1.2" fill="#b00c08"/>
<rect x="235.5" y="134.6" width="1.2" height="1.2" fill="#ff4c2c"/>
<rect x="229.6" y="136.0" width="1.2" height="1.2" fill="#d41a10"/>
<rect x="224.6" y="100.9" width="1.2" height="1.2" fill="#f02a18"/>
<rect x="213.0" y="93.6" width="1.2" height="1.2" fill="#b00c08"/>
<rect x="226.4" y="122.6" width="1.2" height="1.2" fill="#cc160e"/>
<rect x="214.3" y="93.8" width="1.2" height="1.2" fill="#c0100a"/>
<rect x="202.0" y="108.5" width="1.2" height="1.2" fill="#d41a10"/>
<rect x="200.4" y="107.1" width="1.2" height="1.2" fill="#b00c08"/>
<rect x="218.0" y="105.0" width="1.2" height="1.2" fill="#ff4c2c"/>
<rect x="226.4" y="124.1" width="1.2" height="1.2" fill="#e62014"/>
<rect x="222.5" y="118.2" width="1.2" height="1.2" fill="#f02a18"/>
<rect x="240.3" y="135.4" width="1.2" height="1.2" fill="#d41a10"/>
<rect x="234.6" y="112.8" width="1.2" height="1.2" fill="#e62014"/>
<rect x="242.8" y="116.2" width="1.2" height="1.2" fill="#f43c24"/>
<rect x="219.3" y="82.9" width="1.2" height="1.2" fill="#ff4c2c"/>
<rect x="242.9" y="137.2" width="1.2" height="1.2" fill="#f43c24"/>
<rect x="203.3" y="97.5" width="1.2" height="1.2" fill="#cc160e"/>
<rect x="239.3" y="105.4" width="1.2" height="1.2" fill="#e8281c"/>
<rect x="207.0" y="92.7" width="1.2" height="1.2" fill="#ff4c2c"/>
<rect x="205.8" y="85.8" width="1.2" height="1.2" fill="#f02a18"/>
<rect x="231.0" y="138.4" width="1.2" height="1.2" fill="#ff4c2c"/>
<rect x="223.0" y="99.8" width="1.2" height="1.2" fill="#ff4c2c"/>
<rect x="222.3" y="124.6" width="1.2" height="1.2" fill="#f02a18"/>
<rect x="245.3" y="111.2" width="1.2" height="1.2" fill="#e8281c"/>
<rect x="205.7" y="100.3" width="1.2" height="1.2" fill="#e8281c"/>
<rect x="207.5" y="82.7" width="1.2" height="1.2" fill="#c0100a"/>
<rect x="212.8" y="90.5" width="1.2" height="1.2" fill="#d41a10"/>
<rect x="243.5" y="128.8" width="1.2" height="1.2" fill="#e62014"/>
<rect x="234.9" y="113.0" width="1.2" height="1.2" fill="#b00c08"/>
<rect x="218.0" y="105.3" width="1.2" height="1.2" fill="#cc160e"/>
<rect x="199.4" y="100.6" width="1.2" height="1.2" fill="#ff4c2c"/>
<rect x="229.6" y="125.8" width="1.2" height="1.2" fill="#e62014"/>
<rect x="231.2" y="124.8" width="1.2" height="1.2" fill="#f43c24"/>
<rect x="222.1" y="105.8" width="1.2" height="1.2" fill="#e8281c"/>
<rect x="239.3" y="139.8" width="1.2" height="1.2" fill="#b00c08"/>
<rect x="223.8" y="133.0" width="1.2" height="1.2" fill="#ff4c2c"/>
<rect x="233.0" y="123.8" width="1.2" height="1.2" fill="#c0100a"/>
<rect x="245.7" y="127.7" width="1.2" height="1.2" fill="#f02a18"/>
<rect x="229.8" y="114.6" width="1.2" height="1.2" fill="#ff4c2c"/>
<rect x="222.4" y="122.5" width="1.2" height="1.2" fill="#f02a18"/>
<rect x="239.9" y="133.2" width="1.2" height="1.2" fill="#b00c08"/>
<rect x="210.2" y="97.9" width="1.2" height="1.2" fill="#cc160e"/>
<rect x="200.2" y="97.6" width="1.2" height="1.2" fill="#e8281c"/>
<rect x="209.3" y="88.0" width="1.2" height="1.2" fill="#c0100a"/>
<rect x="225.4" y="106.7" width="1.2" height="1.2" fill="#cc160e"/>
<rect x="227.3" y="113.1" width="1.2" height="1.2" fill="#d41a10"/>
<rect x="217.9" y="70.2" width="1.2" height="1.2" fill="#e8281c"/>
<rect x="226.1" y="97.2" width="1.2" height="1.2" fill="#e62014"/>
<rect x="223.3" y="110.5" width="1.2" height="1.2" fill="#ff4c2c"/>
<rect x="227.4" y="97.9" width="1.2" height="1.2" fill="#b00c08"/>
<rect x="235.3" y="108.6" width="1.2" height="1.2" fill="#c0100a"/>
<rect x="221.8" y="77.3" width="1.2" height="1.2" fill="#e8281c"/>
<rect x="233.7" y="100.7" width="1.2" height="1.2" fill="#f02a18"/>
<rect x="221.9" y="105.3" width="1.2" height="1.2" fill="#c0100a"/>
<rect x="236.7" y="128.6" width="1.2" height="1.2" fill="#f43c24"/>
<rect x="240.0" y="130.5" width="1.2" height="1.2" fill="#c0100a"/>
<rect x="201.2" y="98.3" width="1.2" height="1.2" fill="#c0100a"/>
<rect x="232.9" y="109.4" width="1.2" height="1.2" fill="#c0100a"/>
<rect x="227.4" y="121.2" width="1.2" height="1.2" fill="#d41a10"/>
<rect x="229.4" y="136.7" width="1.2" height="1.2" fill="#e8281c"/>
<rect x="208.7" y="96.9" width="1.2" height="1.2" fill="#ff4c2c"/>
<rect x="230.5" y="136.1" width="1.2" height="1.2" fill="#f02a18"/>
<rect x="216.5" y="82.5" width="1.2" height="1.2" fill="#e62014"/>
<rect x="218.9" y="107.8" width="1.2" height="1.2" fill="#b00c08"/>
<rect x="224.4" y="128.2" width="1.2" height="1.2" fill="#c0100a"/>
<rect x="231.7" y="140.4" width="1.2" height="1.2" fill="#e8281c"/>
<rect x="223.6" y="89.5" width="1.2" height="1.2" fill="#f43c24"/>
<rect x="243.9" y="133.2" width="1.2" height="1.2" fill="#e8281c"/>
<rect x="217.4" y="92.4" width="1.2" height="1.2" fill="#cc160e"/>
<rect x="232.6" y="121.1" width="1.2" height="1.2" fill="#ff4c2c"/>
<rect x="236.1" y="93.7" width="1.2" height="1.2" fill="#d41a10"/>
<rect x="222.4" y="131.3" width="1.2" height="1.2" fill="#cc160e"/>
<rect x="221.8" y="118.4" width="1.2" height="1.2" fill="#f02a18"/>
<rect x="237.6" y="99.6" width="1.2" height="1.2" fill="#d41a10"/>
<rect x="236.0" y="131.0" width="1.2" height="1.2" fill="#cc160e"/>
<rect x="226.6" y="69.4" width="1.2" height="1.2" fill="#d41a10"/>
<rect x="208.5" y="95.5" width="1.2" height="1.2" fill="#e62014"/>
<rect x="214.1" y="81.9" width="1.2" height="1.2" fill="#b00c08"/>
<rect x="204.3" y="86.7" width="1.2" height="1.2" fill="#d41a10"/>
<rect x="200.1" y="98.0" width="1.2" height="1.2" fill="#ff4c2c"/>
<rect x="224.2" y="92.4" width="1.2" height="1.2" fill="#cc160e"/>
<rect x="224.9" y="132.3" width="1.2" height="1.2" fill="#cc160e"/>
<rect x="203.8" y="93.8" width="1.2" height="1.2" fill="#c0100a"/>
<rect x="232.4" y="101.8" width="1.2" height="1.2" fill="#c0100a"/>
<rect x="239.3" y="134.9" width="1.2" height="1.2" fill="#b00c08"/>
<rect x="242.5" y="100.2" width="1.2" height="1.2" fill="#f02a18"/>
<rect x="225.0" y="127.1" width="1.2" height="1.2" fill="#e62014"/>
<rect x="209.8" y="94.0" width="1.2" height="1.2" fill="#cc160e"/>
<rect x="200.2" y="104.2" width="1.2" height="1.2" fill="#cc160e"/>
<rect x="238.1" y="94.0" width="1.2" height="1.2" fill="#f02a18"/>
<rect x="230.5" y="95.9" width="1.2" height="1.2" fill="#b00c08"/>
<rect x="216.2" y="77.3" width="1.2" height="1.2" fill="#f43c24"/>
<rect x="237.3" y="117.9" width="1.2" height="1.2" fill="#d41a10"/>
<rect x="239.6" y="118.0" width="1.2" height="1.2" fill="#e8281c"/>
<rect x="213.9" y="94.0" width="1.2" height="1.2" fill="#f02a18"/>
<rect x="225.3" y="108.9" width="1.2" height="1.2" fill="#d41a10"/>
<rect x="233.2" y="101.6" width="1.2" height="1.2" fill="#d41a10"/>
<rect x="228.7" y="107.7" width="1.2" height="1.2" fill="#e8281c"/>
<rect x="229.9" y="68.9" width="1.2" height="1.2" fill="#f43c24"/>
<rect x="240.8" y="124.0" width="1.2" height="1.2" fill="#cc160e"/>
<rect x="201.8" y="98.3" width="1.2" height="1.2" fill="#e62014"/>
<rect x="220.1" y="116.1" width="1.2" height="1.2" fill="#f43c24"/>
<rect x="242.1" y="137.3" width="1.2" height="1.2" fill="#d41a10"/>
<rect x="227.4" y="119.9" width="1.2" height="1.2" fill="#e8281c"/>
<rect x="203.7" y="95.2" width="1.2" height="1.2" fill="#f43c24"/>
<rect x="201.8" y="91.5" width="1.2" height="1.2" fill="#e8281c"/>
<rect x="206.7" y="93.7" width="1.2" height="1.2" fill="#e8281c"/>
<rect x="215.7" y="81.4" width="1.2" height="1.2" fill="#d41a10"/>
<rect x="217.7" y="85.6" width="1.2" height="1.2" fill="#b00c08"/>
<rect x="209.9" y="91.0" width="1.2" height="1.2" fill="#e62014"/>
<rect x="228.9" y="133.9" width="1.2" height="1.2" fill="#f02a18"/>
<rect x="231.6" y="112.1" width="1.2" height="1.2" fill="#c0100a"/>
<rect x="240.0" y="127.8" width="1.2" height="1.2" fill="#e62014"/>
<rect x="215.0" y="74.2" width="1.2" height="1.2" fill="#e62014"/>
<rect x="226.4" y="122.0" width="1.2" height="1.2" fill="#f02a18"/>
<rect x="210.1" y="85.3" width="1.2" height="1.2" fill="#c0100a"/>
<rect x="240.2" y="116.7" width="1.2" height="1.2" fill="#f43c24"/>
<rect x="203.2" y="90.4" width="1.2" height="1.2" fill="#f02a18"/>
<rect x="221.5" y="123.1" width="1.2" height="1.2" fill="#b00c08"/>
<rect x="224.2" y="84.4" width="1.2" height="1.2" fill="#f43c24"/>
<rect x="227.8" y="112.1" width="1.2" height="1.2" fill="#e8281c"/>
<rect x="244.3" y="118.7" width="1.2" height="1.2" fill="#f43c24"/>
<rect x="207.8" y="86.2" width="1.2" height="1.2" fill="#c0100a"/>
<rect x="240.3" y="107.1" width="1.2" height="1.2" fill="#ff4c2c"/>
<rect x="220.5" y="100.4" width="1.2" height="1.2" fill="#e8281c"/>
<rect x="216.1" y="101.1" width="1.2" height="1.2" fill="#cc160e"/>
<rect x="222.9" y="99.5" width="1.2" height="1.2" fill="#e62014"/>
<rect x="202.2" y="97.0" width="1.2" height="1.2" fill="#e8281c"/>
<rect x="220.8" y="106.5" width="1.2" height="1.2" fill="#f43c24"/>
<rect x="221.2" y="76.5" width="1.2" height="1.2" fill="#e83018"/>
<rect x="241.5" y="93.6" width="1.2" height="1.2" fill="#c01208"/>
<rect x="249.8" y="131.5" width="1.2" height="1.2" fill="#c01208"/>
<rect x="244.6" y="133.9" width="1.3" height="1.3" fill="#fff"/>
<rect x="205.9" y="102.9" width="1.3" height="1.3" fill="#fff"/>
<rect x="243.4" y="108.4" width="1.3" height="1.3" fill="#fff"/>
<rect x="243.6" y="117.1" width="1.3" height="1.3" fill="#fff"/>
<rect x="245.2" y="120.4" width="1.2" height="1.2" fill="#e83018"/>
<rect x="231.1" y="146.7" width="1.2" height="1.2" fill="#c01208"/>
<rect x="240.1" y="98.5" width="1.3" height="1.3" fill="#fff"/>
<rect x="231.7" y="65.1" width="1.3" height="1.3" fill="#fff"/>
<rect x="246.2" y="108.6" width="1.2" height="1.2" fill="#c01208"/>
<rect x="233.2" y="143.8" width="1.3" height="1.3" fill="#fff"/>
<rect x="230.9" y="145.6" width="1.2" height="1.2" fill="#c01208"/>
<rect x="235.1" y="87.6" width="1.2" height="1.2" fill="#c01208"/>
<rect x="222.5" y="130.6" width="1.3" height="1.3" fill="#fff"/>
<rect x="220.8" y="119.7" width="1.3" height="1.3" fill="#fff"/>
<rect x="220.6" y="70.9" width="1.3" height="1.3" fill="#fff"/>
<rect x="243.4" y="104.2" width="1.3" height="1.3" fill="#fff"/>
<rect x="214.4" y="100.0" width="1.3" height="1.3" fill="#fff"/>
<rect x="220.7" y="121.2" width="1.3" height="1.3" fill="#fff"/>
<rect x="246.4" y="123.8" width="1.2" height="1.2" fill="#d81a10"/>
<rect x="225.5" y="64.7" width="1.3" height="1.3" fill="#fff"/>
<rect x="202.6" y="110.8" width="1.2" height="1.2" fill="#c01208"/>
<rect x="226.4" y="138.7" width="1.3" height="1.3" fill="#fff"/>
<rect x="230.7" y="67.2" width="1.3" height="1.3" fill="#fff"/>
<rect x="241.3" y="96.2" width="1.2" height="1.2" fill="#d81a10"/>
<rect x="243.4" y="103.8" width="1.3" height="1.3" fill="#fff"/>
<rect x="224.8" y="134.8" width="1.3" height="1.3" fill="#fff"/>
<rect x="245.7" y="117.3" width="1.2" height="1.2" fill="#e83018"/>
<rect x="246.0" y="114.9" width="1.2" height="1.2" fill="#e83018"/>
<rect x="234.1" y="63.6" width="1.2" height="1.2" fill="#c01208"/>
<rect x="242.8" y="100.1" width="1.2" height="1.2" fill="#c01208"/>
<rect x="247.0" y="133.7" width="1.2" height="1.2" fill="#d81a10"/>
<rect x="226.6" y="70.3" width="1.3" height="1.3" fill="#fff"/>
<rect x="250.8" y="131.4" width="1.2" height="1.2" fill="#e83018"/>
<rect x="217.6" y="110.3" width="1.3" height="1.3" fill="#fff"/>
<rect x="241.3" y="95.4" width="1.2" height="1.2" fill="#e83018"/>
<rect x="230.6" y="143.2" width="1.3" height="1.3" fill="#fff"/>
<rect x="223.6" y="132.7" width="1.3" height="1.3" fill="#fff"/>
<rect x="220.9" y="126.9" width="1.3" height="1.3" fill="#fff"/>
<rect x="233.3" y="147.3" width="1.2" height="1.2" fill="#e83018"/>
<rect x="220.5" y="126.7" width="1.3" height="1.3" fill="#fff"/>
<rect x="206.0" y="104.1" width="1.3" height="1.3" fill="#fff"/>
<rect x="228.5" y="84.5" width="1.3" height="1.3" fill="#fff"/>
<rect x="236.3" y="89.3" width="1.2" height="1.2" fill="#c01208"/>
<rect x="227.1" y="142.1" width="1.2" height="1.2" fill="#d81a10"/>
<rect x="210.1" y="97.3" width="1.3" height="1.3" fill="#fff"/>
<rect x="210.1" y="78.3" width="1.3" height="1.3" fill="#fff"/>
<rect x="244.1" y="138.5" width="1.2" height="1.2" fill="#e83018"/>
<rect x="221.3" y="79.3" width="1.3" height="1.3" fill="#fff"/>
<rect x="243.9" y="97.8" width="1.2" height="1.2" fill="#e83018"/>
<rect x="231.2" y="62.0" width="1.3" height="1.3" fill="#fff"/>
<rect x="221.6" y="125.6" width="1.3" height="1.3" fill="#fff"/>
<rect x="242.1" y="137.4" width="1.2" height="1.2" fill="#c01208"/>
<rect x="245.1" y="135.8" width="1.2" height="1.2" fill="#c01208"/>
<rect x="246.9" y="112.3" width="1.2" height="1.2" fill="#c01208"/>
<rect x="218.3" y="107.1" width="1.3" height="1.3" fill="#fff"/>
<rect x="225.2" y="141.7" width="1.2" height="1.2" fill="#d81a10"/>
<rect x="237.9" y="143.8" width="1.2" height="1.2" fill="#c01208"/>
<rect x="246.0" y="129.4" width="1.3" height="1.3" fill="#fff"/>
<rect x="221.3" y="122.3" width="1.3" height="1.3" fill="#fff"/>
<rect x="235.7" y="144.9" width="1.2" height="1.2" fill="#d81a10"/>
<rect x="227.3" y="79.7" width="1.2" height="1.2" fill="#c01208"/>
<rect x="222.5" y="78.6" width="1.3" height="1.3" fill="#fff"/>
<rect x="243.6" y="126.5" width="1.3" height="1.3" fill="#fff"/>
<rect x="217.5" y="122.3" width="1.2" height="1.2" fill="#e83018"/>
<rect x="233.4" y="63.4" width="1.2" height="1.2" fill="#d81a10"/>
<rect x="230.8" y="143.1" width="1.3" height="1.3" fill="#fff"/>
<rect x="238.9" y="140.3" width="1.2" height="1.2" fill="#e83018"/>
<rect x="220.1" y="122.9" width="1.3" height="1.3" fill="#fff"/>
<rect x="199.6" y="111.9" width="1.2" height="1.2" fill="#c01208"/>
<rect x="218.7" y="120.5" width="1.2" height="1.2" fill="#e83018"/>
<rect x="205.8" y="83.3" width="1.3" height="1.3" fill="#fff"/>
<rect x="213.0" y="97.8" width="1.3" height="1.3" fill="#fff"/>
<rect x="200.8" y="100.6" width="1.3" height="1.3" fill="#fff"/>
<rect x="244.1" y="118.9" width="1.3" height="1.3" fill="#fff"/>
<rect x="233.7" y="64.8" width="1.2" height="1.2" fill="#d81a10"/>
<rect x="241.6" y="97.7" width="1.3" height="1.3" fill="#fff"/>
<rect x="223.5" y="138.0" width="1.2" height="1.2" fill="#e83018"/>
<rect x="221.4" y="136.3" width="1.2" height="1.2" fill="#d81a10"/>
<rect x="231.8" y="87.4" width="1.3" height="1.3" fill="#fff"/>
<rect x="244.5" y="121.4" width="1.2" height="1.2" fill="#e83018"/>
<rect x="228.3" y="79.9" width="1.2" height="1.2" fill="#e83018"/>
<rect x="238.0" y="143.7" width="1.2" height="1.2" fill="#c01208"/>
<rect x="244.2" y="108.1" width="1.3" height="1.3" fill="#fff"/>
<rect x="234.6" y="143.1" width="1.3" height="1.3" fill="#fff"/>
<rect x="246.1" y="112.8" width="1.2" height="1.2" fill="#d81a10"/>
<rect x="244.7" y="118.4" width="1.2" height="1.2" fill="#d81a10"/>
<rect x="232.1" y="65.9" width="1.2" height="1.2" fill="#d81a10"/>
<rect x="247.7" y="129.8" width="1.3" height="1.3" fill="#fff"/>
<rect x="218.3" y="118.9" width="1.2" height="1.2" fill="#c01208"/>
<rect x="222.8" y="136.9" width="1.2" height="1.2" fill="#e83018"/>
<rect x="231.1" y="63.9" width="1.3" height="1.3" fill="#fff"/>
<rect x="210.8" y="97.2" width="1.3" height="1.3" fill="#fff"/>
<rect x="247.6" y="112.4" width="1.2" height="1.2" fill="#c01208"/>
<rect x="232.6" y="62.1" width="1.2" height="1.2" fill="#e83018"/>
<rect x="215.8" y="105.1" width="1.3" height="1.3" fill="#fff"/>
<rect x="224.5" y="70.9" width="1.3" height="1.3" fill="#fff"/>
<rect x="222.3" y="76.5" width="1.2" height="1.2" fill="#d81a10"/>
<rect x="236.7" y="143.2" width="1.2" height="1.2" fill="#d81a10"/>
<rect x="229.8" y="62.4" width="1.3" height="1.3" fill="#fff"/>
<rect x="214.4" y="73.3" width="1.3" height="1.3" fill="#fff"/>
<rect x="217.3" y="112.7" width="1.2" height="1.2" fill="#d81a10"/>
<rect x="221.4" y="124.9" width="1.3" height="1.3" fill="#fff"/>
<rect x="217.6" y="70.6" width="1.3" height="1.3" fill="#fff"/>
<rect x="218.0" y="125.2" width="1.2" height="1.2" fill="#e83018"/>
<rect x="225.2" y="140.9" width="1.2" height="1.2" fill="#d81a10"/>
<rect x="216.6" y="111.2" width="1.2" height="1.2" fill="#d81a10"/>
<rect x="218.3" y="125.5" width="1.2" height="1.2" fill="#e83018"/>
<rect x="215.6" y="110.0" width="1.2" height="1.2" fill="#c01208"/>
<rect x="228.3" y="140.8" width="1.3" height="1.3" fill="#fff"/>
<rect x="245.4" y="118.5" width="1.2" height="1.2" fill="#c01208"/>
<rect x="207.0" y="82.5" width="1.3" height="1.3" fill="#fff"/>
<rect x="223.1" y="130.6" width="1.3" height="1.3" fill="#fff"/>
<rect x="220.4" y="75.5" width="1.2" height="1.2" fill="#e83018"/>
<rect x="219.1" y="124.2" width="1.2" height="1.2" fill="#c01208"/>
<rect x="221.5" y="127.1" width="1.3" height="1.3" fill="#fff"/>
<rect x="206.4" y="82.5" width="1.3" height="1.3" fill="#fff"/>
<rect x="238.0" y="142.5" width="1.2" height="1.2" fill="#e83018"/>
<rect x="244.2" y="117.2" width="1.3" height="1.3" fill="#fff"/>
<rect x="239.1" y="92.2" width="1.2" height="1.2" fill="#c01208"/>
<rect x="231.7" y="62.1" width="1.2" height="1.2" fill="#e83018"/>
<rect x="234.1" y="147.0" width="1.2" height="1.2" fill="#c01208"/>
<rect x="217.8" y="110.5" width="1.3" height="1.3" fill="#fff"/>
<rect x="206.2" y="100.1" width="1.3" height="1.3" fill="#fff"/>
<rect x="237.8" y="144.3" width="1.2" height="1.2" fill="#c01208"/>
<rect x="222.0" y="132.5" width="1.3" height="1.3" fill="#fff"/>
<rect x="220.3" y="113.4" width="1.3" height="1.3" fill="#fff"/>
<rect x="200.9" y="96.0" width="1.3" height="1.3" fill="#fff"/>
<rect x="239.1" y="94.1" width="1.3" height="1.3" fill="#fff"/>
<rect x="227.5" y="83.5" width="1.3" height="1.3" fill="#fff"/>
<rect x="218.7" y="123.9" width="1.2" height="1.2" fill="#c01208"/>
<rect x="249.5" y="133.5" width="1.2" height="1.2" fill="#e83018"/>
<rect x="218.5" y="112.8" width="1.3" height="1.3" fill="#fff"/>
<rect x="245.4" y="128.9" width="1.3" height="1.3" fill="#fff"/>
<rect x="235.1" y="145.1" width="1.2" height="1.2" fill="#c01208"/>
<rect x="222.3" y="77.3" width="1.2" height="1.2" fill="#e83018"/>
<rect x="219.2" y="112.3" width="1.3" height="1.3" fill="#fff"/>
<rect x="218.0" y="113.2" width="1.2" height="1.2" fill="#c01208"/>
<rect x="241.7" y="103.9" width="1.3" height="1.3" fill="#fff"/>
<rect x="227.7" y="142.5" width="1.2" height="1.2" fill="#c01208"/>
<rect x="234.9" y="88.7" width="1.3" height="1.3" fill="#fff"/>
<rect x="236.7" y="143.1" width="1.2" height="1.2" fill="#e83018"/>
<rect x="241.8" y="103.8" width="1.3" height="1.3" fill="#fff"/>
<rect x="243.0" y="139.3" width="1.2" height="1.2" fill="#d81a10"/>
<rect x="246.0" y="133.1" width="1.3" height="1.3" fill="#fff"/>
<rect x="241.6" y="93.9" width="1.2" height="1.2" fill="#e83018"/>
<rect x="229.4" y="141.6" width="1.3" height="1.3" fill="#fff"/>
<rect x="248.4" y="130.6" width="1.3" height="1.3" fill="#fff"/>
<rect x="219.8" y="122.5" width="1.3" height="1.3" fill="#fff"/>
<rect x="218.2" y="120.6" width="1.2" height="1.2" fill="#d81a10"/>
<rect x="237.1" y="88.2" width="1.2" height="1.2" fill="#c01208"/>
<rect x="227.7" y="139.3" width="1.3" height="1.3" fill="#fff"/>
<rect x="246.7" y="134.1" width="1.2" height="1.2" fill="#c01208"/>
<rect x="237.4" y="139.0" width="1.3" height="1.3" fill="#fff"/>
<rect x="229.5" y="64.4" width="1.3" height="1.3" fill="#fff"/>
<polyline points="202.8,90.4 204.6,93.6 206.2,96.4 207.8,98.8" fill="none" stroke="#fff" stroke-width="1.0"/>
<polygon points="234.3,131.6 263.3,129.4 263.4,156.3 234.4,156.6" fill="#fff" stroke="#222" stroke-width="0.8"/>
<text x="248.40" y="148.90" font-family="Liberation Serif" font-size="11.6" text-anchor="middle" textLength="26.60" lengthAdjust="spacingAndGlyphs">Start</text>
<text x="192.20" y="156.30" font-family="Liberation Serif" font-size="14.2" textLength="17.80" lengthAdjust="spacingAndGlyphs">(b)</text>
<svg x="46.6" y="198.5" width="132.6" height="104.10000000000002" viewBox="46.6 198.5 132.6 104.10000000000002" overflow="hidden">
<rect x="46.60" y="198.50" width="132.60" height="104.10" fill="#1e0004"/>
<polygon points="60.7,248.2 62.5,248.2 62.8,234.8 62.0,234.8" fill="url(#gup)" opacity="0.7"/>
<polygon points="65.2,248.2 67.0,248.2 67.3,235.2 66.5,235.2" fill="url(#gup)" opacity="0.7"/>
<polygon points="69.3,248.2 71.1,248.2 71.4,233.1 70.6,233.1" fill="url(#gup)" opacity="0.7"/>
<polygon points="73.3,248.2 75.1,248.2 75.4,232.8 74.6,232.8" fill="url(#gup)" opacity="0.7"/>
<polygon points="77.6,248.2 79.4,248.2 79.7,231.2 78.9,231.2" fill="url(#gup)" opacity="0.7"/>
<polygon points="81.6,248.2 83.4,248.2 83.7,229.0 82.9,229.0" fill="url(#gup)" opacity="0.7"/>
<polygon points="85.8,248.2 87.6,248.2 87.9,231.0 87.1,231.0" fill="url(#gup)" opacity="0.7"/>
<polygon points="91.0,248.2 92.8,248.2 93.1,230.2 92.3,230.2" fill="url(#gup)" opacity="0.7"/>
<polygon points="95.5,248.2 97.3,248.2 97.6,225.9 96.8,225.9" fill="url(#gup)" opacity="0.7"/>
<polygon points="99.7,248.2 101.5,248.2 101.8,227.2 101.0,227.2" fill="url(#gup)" opacity="0.7"/>
<polygon points="103.1,248.2 104.9,248.2 105.2,225.3 104.4,225.3" fill="url(#gup)" opacity="0.7"/>
<polygon points="107.2,248.2 109.0,248.2 109.3,224.9 108.5,224.9" fill="url(#gup)" opacity="0.7"/>
<polygon points="114.4,248.2 116.2,248.2 116.5,219.7 115.7,219.7" fill="url(#gup)" opacity="0.7"/>
<polygon points="118.8,248.2 120.6,248.2 120.9,221.4 120.1,221.4" fill="url(#gup)" opacity="0.7"/>
<polygon points="126.2,248.2 128.0,248.2 128.3,216.9 127.5,216.9" fill="url(#gup)" opacity="0.7"/>
<polygon points="130.6,248.2 132.4,248.2 132.7,211.9 131.9,211.9" fill="url(#gup)" opacity="0.7"/>
<polygon points="135.0,248.2 136.8,248.2 137.1,219.0 136.3,219.0" fill="url(#gup)" opacity="0.7"/>
<polygon points="142.1,248.2 143.9,248.2 144.2,216.6 143.4,216.6" fill="url(#gup)" opacity="0.7"/>
<polygon points="150.5,248.2 152.3,248.2 152.6,220.5 151.8,220.5" fill="url(#gup)" opacity="0.7"/>
<polygon points="158.4,248.2 160.2,248.2 160.5,219.0 159.7,219.0" fill="url(#gup)" opacity="0.7"/>
<polygon points="164.4,248.2 166.2,248.2 166.5,214.0 165.7,214.0" fill="url(#gup)" opacity="0.7"/>
<polygon points="170.8,248.2 172.6,248.2 172.9,220.7 172.1,220.7" fill="url(#gup)" opacity="0.7"/>
<polygon points="175.5,248.2 177.3,248.2 177.6,226.0 176.8,226.0" fill="url(#gup)" opacity="0.7"/>
<path d="M58.9,248.2 L61.4,248.2 Q62.0,238.1 61.4,228.4 L60.4,228.4 Q59.4,238.1 58.9,248.2Z" fill="url(#gup)"/>
<path d="M62.5,248.2 L65.0,248.2 Q65.7,237.1 65.1,226.4 L64.1,226.4 Q63.1,237.1 62.5,248.2Z" fill="url(#gup)"/>
<path d="M67.0,248.2 L69.5,248.2 Q71.0,236.6 70.4,225.4 L69.4,225.4 Q68.4,236.6 67.0,248.2Z" fill="url(#gup)"/>
<path d="M70.6,248.2 L73.1,248.2 Q73.7,234.6 73.1,221.3 L72.1,221.3 Q71.1,234.6 70.6,248.2Z" fill="url(#gup)"/>
<path d="M74.7,248.2 L77.2,248.2 Q77.8,235.1 77.2,222.4 L76.2,222.4 Q75.2,235.1 74.7,248.2Z" fill="url(#gup)"/>
<path d="M78.7,248.2 L81.2,248.2 Q82.3,232.6 81.7,217.3 L80.7,217.3 Q79.7,232.6 78.7,248.2Z" fill="url(#gup)"/>
<path d="M83.2,248.2 L85.7,248.2 Q86.8,235.1 86.2,222.4 L85.2,222.4 Q84.2,235.1 83.2,248.2Z" fill="url(#gup)"/>
<path d="M87.6,248.2 L90.1,248.2 Q91.8,233.6 91.2,219.3 L90.2,219.3 Q89.2,233.6 87.6,248.2Z" fill="url(#gup)"/>
<path d="M93.3,248.2 L95.8,248.2 Q97.1,230.5 96.5,213.2 L95.5,213.2 Q94.5,230.5 93.3,248.2Z" fill="url(#gup)"/>
<path d="M97.7,248.2 L100.2,248.2 Q100.9,231.6 100.3,215.3 L99.3,215.3 Q98.3,231.6 97.7,248.2Z" fill="url(#gup)"/>
<path d="M101.4,248.2 L103.9,248.2 Q105.1,233.6 104.5,219.3 L103.5,219.3 Q102.5,233.6 101.4,248.2Z" fill="url(#gup)"/>
<path d="M105.0,248.2 L107.5,248.2 Q108.9,228.0 108.3,208.2 L107.3,208.2 Q106.3,228.0 105.0,248.2Z" fill="url(#gup)"/>
<path d="M109.1,248.2 L111.6,248.2 Q113.1,231.6 112.5,215.3 L111.5,215.3 Q110.5,231.6 109.1,248.2Z" fill="url(#gup)"/>
<path d="M112.2,248.2 L114.7,248.2 Q116.4,228.2 115.8,208.5 L114.8,208.5 Q113.8,228.2 112.2,248.2Z" fill="url(#gup)"/>
<path d="M116.6,248.2 L119.1,248.2 Q120.0,230.9 119.4,214.0 L118.4,214.0 Q117.4,230.9 116.6,248.2Z" fill="url(#gup)"/>
<path d="M120.4,248.2 L122.9,248.2 Q124.5,225.4 123.9,203.0 L122.9,203.0 Q121.9,225.4 120.4,248.2Z" fill="url(#gup)"/>
<path d="M123.9,248.2 L126.4,248.2 Q127.6,227.1 127.0,206.3 L126.0,206.3 Q125.0,227.1 123.9,248.2Z" fill="url(#gup)"/>
<path d="M128.3,248.2 L130.8,248.2 Q132.7,225.4 132.1,203.0 L131.1,203.0 Q130.1,225.4 128.3,248.2Z" fill="url(#gup)"/>
<path d="M132.1,248.2 L134.6,248.2 Q136.5,223.7 135.9,199.6 L134.9,199.6 Q133.9,223.7 132.1,248.2Z" fill="url(#gup)"/>
<path d="M136.5,248.2 L139.0,248.2 Q140.0,230.9 139.4,214.0 L138.4,214.0 Q137.4,230.9 136.5,248.2Z" fill="url(#gup)"/>
<path d="M139.8,248.2 L142.3,248.2 Q142.9,227.1 142.3,206.3 L141.3,206.3 Q140.3,227.1 139.8,248.2Z" fill="url(#gup)"/>
<path d="M144.2,248.2 L146.7,248.2 Q147.3,228.7 146.7,209.6 L145.7,209.6 Q144.7,228.7 144.2,248.2Z" fill="url(#gup)"/>
<path d="M147.6,248.2 L150.1,248.2 Q151.5,222.1 150.9,196.3 L149.9,196.3 Q148.9,222.1 147.6,248.2Z" fill="url(#gup)"/>
<path d="M152.0,248.2 L154.5,248.2 Q156.2,230.4 155.6,212.9 L154.6,212.9 Q153.6,230.4 152.0,248.2Z" fill="url(#gup)"/>
<path d="M155.3,248.2 L157.8,248.2 Q159.2,229.2 158.6,210.7 L157.6,210.7 Q156.6,229.2 155.3,248.2Z" fill="url(#gup)"/>
<path d="M160.8,248.2 L163.3,248.2 Q164.8,227.1 164.2,206.3 L163.2,206.3 Q162.2,227.1 160.8,248.2Z" fill="url(#gup)"/>
<path d="M166.8,248.2 L169.3,248.2 Q170.7,226.4 170.1,205.1 L169.1,205.1 Q168.1,226.4 166.8,248.2Z" fill="url(#gup)"/>
<path d="M173.0,248.2 L175.5,248.2 Q176.3,230.4 175.7,212.9 L174.7,212.9 Q173.7,230.4 173.0,248.2Z" fill="url(#gup)"/>
<path d="M176.9,248.2 L179.4,248.2 Q180.6,232.6 180.0,217.3 L179.0,217.3 Q178.0,232.6 176.9,248.2Z" fill="url(#gup)"/>
<rect x="57.5" y="251" width="1.8" height="29.4" fill="url(#gdn)" opacity="0.30"/>
<rect x="61.2" y="251" width="1.9" height="30.8" fill="url(#gdn)" opacity="0.18"/>
<rect x="64.8" y="251" width="1.7" height="27.4" fill="url(#gdn)" opacity="0.32"/>
<rect x="69.1" y="251" width="1.5" height="37.0" fill="url(#gdn)" opacity="0.31"/>
<rect x="72.8" y="251" width="1.4" height="31.4" fill="url(#gdn)" opacity="0.12"/>
<rect x="76.0" y="251" width="1.5" height="34.1" fill="url(#gdn)" opacity="0.16"/>
<rect x="79.1" y="251" width="1.7" height="28.9" fill="url(#gdn)" opacity="0.27"/>
<rect x="82.4" y="251" width="1.8" height="29.2" fill="url(#gdn)" opacity="0.63"/>
<rect x="86.4" y="251" width="1.8" height="32.4" fill="url(#gdn)" opacity="0.26"/>
<rect x="89.6" y="251" width="1.9" height="42.5" fill="url(#gdn)" opacity="0.48"/>
<rect x="93.3" y="251" width="1.5" height="36.2" fill="url(#gdn)" opacity="0.61"/>
<rect x="97.5" y="251" width="1.7" height="44.0" fill="url(#gdn)" opacity="0.54"/>
<rect x="100.8" y="251" width="1.8" height="35.5" fill="url(#gdn)" opacity="0.63"/>
<rect x="104.9" y="251" width="1.7" height="38.5" fill="url(#gdn)" opacity="0.36"/>
<rect x="108.8" y="251" width="1.5" height="41.6" fill="url(#gdn)" opacity="0.60"/>
<rect x="112.1" y="251" width="1.4" height="42.8" fill="url(#gdn)" opacity="0.47"/>
<rect x="116.4" y="251" width="1.9" height="40.6" fill="url(#gdn)" opacity="0.91"/>
<rect x="119.7" y="251" width="1.4" height="35.0" fill="url(#gdn)" opacity="0.38"/>
<rect x="123.7" y="251" width="1.4" height="44.0" fill="url(#gdn)" opacity="0.59"/>
<rect x="127.5" y="251" width="1.6" height="46.7" fill="url(#gdn)" opacity="0.95"/>
<rect x="131.8" y="251" width="1.6" height="37.2" fill="url(#gdn)" opacity="0.76"/>
<rect x="135.1" y="251" width="1.7" height="42.7" fill="url(#gdn)" opacity="0.51"/>
<rect x="139.1" y="251" width="1.6" height="37.1" fill="url(#gdn)" opacity="0.37"/>
<rect x="143.1" y="251" width="1.7" height="49.2" fill="url(#gdn)" opacity="0.82"/>
<rect x="146.3" y="251" width="1.7" height="47.4" fill="url(#gdn)" opacity="0.49"/>
<rect x="150.2" y="251" width="1.7" height="50.7" fill="url(#gdn)" opacity="0.61"/>
<rect x="153.9" y="251" width="1.7" height="43.1" fill="url(#gdn)" opacity="0.71"/>
<rect x="157.1" y="251" width="1.4" height="48.1" fill="url(#gdn)" opacity="0.44"/>
<rect x="161.1" y="251" width="1.4" height="45.1" fill="url(#gdn)" opacity="0.39"/>
<rect x="164.6" y="251" width="1.6" height="48.8" fill="url(#gdn)" opacity="0.92"/>
<rect x="167.7" y="251" width="1.4" height="42.3" fill="url(#gdn)" opacity="0.76"/>
<rect x="171.9" y="251" width="1.6" height="48.5" fill="url(#gdn)" opacity="0.94"/>
<rect x="175.0" y="251" width="1.5" height="50.5" fill="url(#gdn)" opacity="0.75"/>
<rect x="178.8" y="251" width="1.8" height="44.0" fill="url(#gdn)" opacity="0.85"/>
</svg>
<line x1="46.20" y1="302.60" x2="179.20" y2="302.60" stroke="#000" stroke-width="0.8"/>
<rect x="46.60" y="250.00" width="132.60" height="1.00" fill="#fff"/>
<svg x="189.0" y="198.5" width="133.3" height="104.10000000000002" viewBox="189.0 198.5 133.3 104.10000000000002" overflow="hidden">
<rect x="189.00" y="198.50" width="133.30" height="104.10" fill="#1e0004"/>
<rect x="206.3" y="236.3" width="0.9" height="11.3" fill="url(#gband)" opacity="0.18"/>
<rect x="206.3" y="243.7" width="0.9" height="1.6" fill="#c78f85" opacity="0.11"/>
<rect x="206.3" y="242.4" width="0.9" height="1.6" fill="#bc7a7a" opacity="0.12"/>
<rect x="206.3" y="241.5" width="0.9" height="1.6" fill="#bf7c7c" opacity="0.10"/>
<rect x="206.3" y="241.6" width="0.9" height="1.2" fill="#dfd3a8" opacity="0.10"/>
<rect x="207.1" y="236.5" width="0.9" height="11.1" fill="url(#gband)" opacity="0.47"/>
<rect x="207.1" y="243.2" width="0.9" height="1.6" fill="#be7b7b" opacity="0.20"/>
<rect x="207.1" y="243.6" width="0.9" height="1.6" fill="#bd7b7b" opacity="0.39"/>
<rect x="207.1" y="240.4" width="0.9" height="1.6" fill="#cda48f" opacity="0.24"/>
<rect x="207.1" y="241.6" width="0.9" height="1.2" fill="#e2d9ab" opacity="0.40"/>
<rect x="207.9" y="235.3" width="0.9" height="12.3" fill="url(#gband)" opacity="0.76"/>
<rect x="207.9" y="239.2" width="0.9" height="1.6" fill="#cb9b8b" opacity="0.52"/>
<rect x="207.9" y="242.5" width="0.9" height="1.6" fill="#c79086" opacity="0.44"/>
<rect x="207.9" y="243.4" width="0.9" height="1.6" fill="#cfa892" opacity="0.38"/>
<rect x="207.9" y="241.8" width="0.9" height="1.2" fill="#decfa6" opacity="0.64"/>
<rect x="208.7" y="236.6" width="0.9" height="11.0" fill="url(#gband)" opacity="0.90"/>
<rect x="208.7" y="243.0" width="0.9" height="1.6" fill="#c89387" opacity="0.42"/>
<rect x="208.7" y="240.6" width="0.9" height="1.6" fill="#c78f85" opacity="0.49"/>
<rect x="208.7" y="242.6" width="0.9" height="1.6" fill="#cda28f" opacity="0.48"/>
<rect x="208.7" y="243.4" width="0.9" height="1.2" fill="#d9c4a0" opacity="0.62"/>
<rect x="209.5" y="235.6" width="0.9" height="12.0" fill="url(#gband)" opacity="0.90"/>
<rect x="209.5" y="238.2" width="0.9" height="1.6" fill="#c78f85" opacity="0.47"/>
<rect x="209.5" y="241.8" width="0.9" height="1.6" fill="#c07d7d" opacity="0.38"/>
<rect x="209.5" y="244.8" width="0.9" height="1.6" fill="#c99689" opacity="0.52"/>
<rect x="209.5" y="242.0" width="0.9" height="1.2" fill="#d6bc9c" opacity="0.89"/>
<rect x="210.3" y="235.7" width="0.9" height="11.9" fill="url(#gband)" opacity="0.90"/>
<rect x="210.3" y="242.9" width="0.9" height="1.6" fill="#bd7b7b" opacity="0.66"/>
<rect x="210.3" y="242.7" width="0.9" height="1.6" fill="#c17d7d" opacity="0.78"/>
<rect x="210.3" y="237.9" width="0.9" height="1.6" fill="#d0aa93" opacity="0.44"/>
<rect x="210.3" y="243.3" width="0.9" height="1.2" fill="#d7bf9d" opacity="0.45"/>
<rect x="211.1" y="236.5" width="0.9" height="11.1" fill="url(#gband)" opacity="0.90"/>
<rect x="211.1" y="245.3" width="0.9" height="1.6" fill="#c99689" opacity="0.70"/>
<rect x="211.1" y="238.9" width="0.9" height="1.6" fill="#d0ab93" opacity="0.56"/>
<rect x="211.1" y="239.5" width="0.9" height="1.6" fill="#c07d7d" opacity="0.79"/>
<rect x="211.1" y="242.2" width="0.9" height="1.2" fill="#e2d9ab" opacity="0.59"/>
<rect x="211.9" y="236.9" width="0.9" height="10.7" fill="url(#gband)" opacity="0.90"/>
<rect x="211.9" y="240.9" width="0.9" height="1.6" fill="#bb7979" opacity="0.42"/>
<rect x="211.9" y="244.6" width="0.9" height="1.6" fill="#ba7979" opacity="0.44"/>
<rect x="211.9" y="245.0" width="0.9" height="1.6" fill="#c89488" opacity="0.58"/>
<rect x="211.9" y="244.4" width="0.9" height="1.2" fill="#d2af95" opacity="0.54"/>
<rect x="212.7" y="238.1" width="0.9" height="9.5" fill="url(#gband)" opacity="0.90"/>
<rect x="212.7" y="241.7" width="0.9" height="1.6" fill="#c89388" opacity="0.50"/>
<rect x="212.7" y="241.5" width="0.9" height="1.6" fill="#cc9e8d" opacity="0.74"/>
<rect x="212.7" y="243.4" width="0.9" height="1.6" fill="#c79086" opacity="0.62"/>
<rect x="212.7" y="243.1" width="0.9" height="1.2" fill="#d9c4a0" opacity="0.66"/>
<rect x="213.5" y="238.0" width="0.9" height="9.6" fill="url(#gband)" opacity="0.90"/>
<rect x="213.5" y="239.9" width="0.9" height="1.6" fill="#c68e85" opacity="0.72"/>
<rect x="213.5" y="242.7" width="0.9" height="1.6" fill="#d0ab93" opacity="0.44"/>
<rect x="213.5" y="241.9" width="0.9" height="1.6" fill="#cb9d8c" opacity="0.43"/>
<rect x="213.5" y="242.4" width="0.9" height="1.2" fill="#dbc8a2" opacity="0.68"/>
<rect x="214.3" y="237.9" width="0.9" height="9.7" fill="url(#gband)" opacity="0.90"/>
<rect x="214.3" y="245.0" width="0.9" height="1.6" fill="#cb9c8c" opacity="0.78"/>
<rect x="214.3" y="240.6" width="0.9" height="1.6" fill="#c89287" opacity="0.37"/>
<rect x="214.3" y="238.9" width="0.9" height="1.6" fill="#bb7979" opacity="0.75"/>
<rect x="214.3" y="243.5" width="0.9" height="1.2" fill="#decfa6" opacity="0.71"/>
<rect x="215.1" y="237.3" width="0.9" height="10.3" fill="url(#gband)" opacity="0.90"/>
<rect x="215.1" y="241.8" width="0.9" height="1.6" fill="#cea691" opacity="0.53"/>
<rect x="215.1" y="244.1" width="0.9" height="1.6" fill="#bb7979" opacity="0.46"/>
<rect x="215.1" y="244.0" width="0.9" height="1.6" fill="#cb9c8c" opacity="0.47"/>
<rect x="215.1" y="242.8" width="0.9" height="1.2" fill="#d6bb9b" opacity="0.65"/>
<rect x="215.9" y="238.4" width="0.9" height="9.2" fill="url(#gband)" opacity="0.90"/>
<rect x="215.9" y="242.2" width="0.9" height="1.6" fill="#c58882" opacity="0.36"/>
<rect x="215.9" y="242.2" width="0.9" height="1.6" fill="#bf7c7c" opacity="0.71"/>
<rect x="215.9" y="244.8" width="0.9" height="1.6" fill="#c99789" opacity="0.65"/>
<rect x="215.9" y="243.8" width="0.9" height="1.2" fill="#ddcca4" opacity="0.80"/>
<rect x="216.7" y="237.3" width="0.9" height="10.3" fill="url(#gband)" opacity="0.90"/>
<rect x="216.7" y="240.6" width="0.9" height="1.6" fill="#c99789" opacity="0.67"/>
<rect x="216.7" y="242.1" width="0.9" height="1.6" fill="#c58983" opacity="0.59"/>
<rect x="216.7" y="243.9" width="0.9" height="1.6" fill="#c79086" opacity="0.38"/>
<rect x="216.7" y="243.7" width="0.9" height="1.2" fill="#dac6a1" opacity="0.88"/>
<rect x="217.5" y="238.5" width="0.9" height="9.1" fill="url(#gband)" opacity="0.90"/>
<rect x="217.5" y="240.6" width="0.9" height="1.6" fill="#ca9a8b" opacity="0.70"/>
<rect x="217.5" y="245.2" width="0.9" height="1.6" fill="#ca988a" opacity="0.63"/>
<rect x="217.5" y="239.7" width="0.9" height="1.6" fill="#c48782" opacity="0.67"/>
<rect x="217.5" y="243.0" width="0.9" height="1.2" fill="#e0d3a8" opacity="0.86"/>
<rect x="218.3" y="238.4" width="0.9" height="9.2" fill="url(#gband)" opacity="0.90"/>
<rect x="218.3" y="243.0" width="0.9" height="1.6" fill="#c79086" opacity="0.57"/>
<rect x="218.3" y="239.4" width="0.9" height="1.6" fill="#ca9a8b" opacity="0.65"/>
<rect x="218.3" y="241.6" width="0.9" height="1.6" fill="#bc7a7a" opacity="0.75"/>
<rect x="218.3" y="243.8" width="0.9" height="1.2" fill="#dbc9a2" opacity="0.85"/>
<rect x="219.1" y="237.8" width="0.9" height="9.8" fill="url(#gband)" opacity="0.90"/>
<rect x="219.1" y="240.9" width="0.9" height="1.6" fill="#bd7b7b" opacity="0.60"/>
<rect x="219.1" y="242.0" width="0.9" height="1.6" fill="#c48581" opacity="0.50"/>
<rect x="219.1" y="239.8" width="0.9" height="1.6" fill="#cea590" opacity="0.71"/>
<rect x="219.1" y="243.4" width="0.9" height="1.2" fill="#d6bc9c" opacity="0.64"/>
<rect x="219.9" y="238.6" width="0.9" height="9.0" fill="url(#gband)" opacity="0.90"/>
<rect x="219.9" y="244.4" width="0.9" height="1.6" fill="#b97878" opacity="0.36"/>
<rect x="219.9" y="245.1" width="0.9" height="1.6" fill="#c38380" opacity="0.54"/>
<rect x="219.9" y="244.4" width="0.9" height="1.6" fill="#cda28f" opacity="0.44"/>
<rect x="219.9" y="242.6" width="0.9" height="1.2" fill="#dac6a1" opacity="0.44"/>
<rect x="220.7" y="238.1" width="0.9" height="9.5" fill="url(#gband)" opacity="0.90"/>
<rect x="220.7" y="240.9" width="0.9" height="1.6" fill="#cb9c8c" opacity="0.38"/>
<rect x="220.7" y="243.0" width="0.9" height="1.6" fill="#c68c84" opacity="0.59"/>
<rect x="220.7" y="240.0" width="0.9" height="1.6" fill="#c89387" opacity="0.77"/>
<rect x="220.7" y="243.0" width="0.9" height="1.2" fill="#d8c19e" opacity="0.50"/>
<rect x="221.5" y="238.5" width="0.9" height="9.1" fill="url(#gband)" opacity="0.90"/>
<rect x="221.5" y="241.5" width="0.9" height="1.6" fill="#d0ab93" opacity="0.35"/>
<rect x="221.5" y="242.9" width="0.9" height="1.6" fill="#c58b84" opacity="0.43"/>
<rect x="221.5" y="240.7" width="0.9" height="1.6" fill="#cfa992" opacity="0.53"/>
<rect x="221.5" y="243.5" width="0.9" height="1.2" fill="#dfd1a7" opacity="0.62"/>
<rect x="222.3" y="238.5" width="0.9" height="9.1" fill="url(#gband)" opacity="0.90"/>
<rect x="222.3" y="245.1" width="0.9" height="1.6" fill="#be7b7b" opacity="0.68"/>
<rect x="222.3" y="241.9" width="0.9" height="1.6" fill="#ca988a" opacity="0.38"/>
<rect x="222.3" y="243.7" width="0.9" height="1.6" fill="#bf7c7c" opacity="0.59"/>
<rect x="222.3" y="244.4" width="0.9" height="1.2" fill="#d4b699" opacity="0.66"/>
<rect x="223.1" y="238.6" width="0.9" height="9.0" fill="url(#gband)" opacity="0.90"/>
<rect x="223.1" y="239.4" width="0.9" height="1.6" fill="#cb9d8c" opacity="0.74"/>
<rect x="223.1" y="239.8" width="0.9" height="1.6" fill="#c99689" opacity="0.44"/>
<rect x="223.1" y="244.9" width="0.9" height="1.6" fill="#c89488" opacity="0.66"/>
<rect x="223.1" y="242.7" width="0.9" height="1.2" fill="#dbc7a1" opacity="0.62"/>
<rect x="223.9" y="238.7" width="0.9" height="8.9" fill="url(#gband)" opacity="0.90"/>
<rect x="223.9" y="239.5" width="0.9" height="1.6" fill="#c68c84" opacity="0.79"/>
<rect x="223.9" y="241.0" width="0.9" height="1.6" fill="#c79186" opacity="0.71"/>
<rect x="223.9" y="243.7" width="0.9" height="1.6" fill="#c48782" opacity="0.80"/>
<rect x="223.9" y="242.9" width="0.9" height="1.2" fill="#dccba3" opacity="0.74"/>
<rect x="224.7" y="238.5" width="0.9" height="9.1" fill="url(#gband)" opacity="0.90"/>
<rect x="224.7" y="241.8" width="0.9" height="1.6" fill="#bb7979" opacity="0.63"/>
<rect x="224.7" y="241.6" width="0.9" height="1.6" fill="#bd7a7a" opacity="0.66"/>
<rect x="224.7" y="243.6" width="0.9" height="1.6" fill="#ba7979" opacity="0.71"/>
<rect x="224.7" y="243.8" width="0.9" height="1.2" fill="#dccaa3" opacity="0.85"/>
<rect x="225.5" y="237.8" width="0.9" height="9.8" fill="url(#gband)" opacity="0.90"/>
<rect x="225.5" y="240.4" width="0.9" height="1.6" fill="#c99789" opacity="0.56"/>
<rect x="225.5" y="243.6" width="0.9" height="1.6" fill="#cc9e8d" opacity="0.67"/>
<rect x="225.5" y="239.3" width="0.9" height="1.6" fill="#c79086" opacity="0.78"/>
<rect x="225.5" y="243.5" width="0.9" height="1.2" fill="#d1ae94" opacity="0.48"/>
<rect x="226.3" y="238.1" width="0.9" height="9.5" fill="url(#gband)" opacity="0.90"/>
<rect x="226.3" y="244.5" width="0.9" height="1.6" fill="#c99789" opacity="0.76"/>
<rect x="226.3" y="241.8" width="0.9" height="1.6" fill="#bd7a7a" opacity="0.69"/>
<rect x="226.3" y="240.3" width="0.9" height="1.6" fill="#c99789" opacity="0.43"/>
<rect x="226.3" y="243.2" width="0.9" height="1.2" fill="#d1ac94" opacity="0.60"/>
<rect x="227.1" y="238.2" width="0.9" height="9.4" fill="url(#gband)" opacity="0.90"/>
<rect x="227.1" y="244.3" width="0.9" height="1.6" fill="#c68e85" opacity="0.68"/>
<rect x="227.1" y="243.1" width="0.9" height="1.6" fill="#cb9b8b" opacity="0.43"/>
<rect x="227.1" y="240.6" width="0.9" height="1.6" fill="#cfa992" opacity="0.78"/>
<rect x="227.1" y="242.5" width="0.9" height="1.2" fill="#d3b397" opacity="0.88"/>
<rect x="227.9" y="238.9" width="0.9" height="8.7" fill="url(#gband)" opacity="0.90"/>
<rect x="227.9" y="242.9" width="0.9" height="1.6" fill="#ba7979" opacity="0.73"/>
<rect x="227.9" y="241.0" width="0.9" height="1.6" fill="#cc9e8d" opacity="0.46"/>
<rect x="227.9" y="243.4" width="0.9" height="1.6" fill="#c3817f" opacity="0.56"/>
<rect x="227.9" y="242.6" width="0.9" height="1.2" fill="#d5b89a" opacity="0.79"/>
<rect x="228.7" y="238.0" width="0.9" height="9.6" fill="url(#gband)" opacity="0.90"/>
<rect x="228.7" y="244.2" width="0.9" height="1.6" fill="#cfa892" opacity="0.73"/>
<rect x="228.7" y="244.8" width="0.9" height="1.6" fill="#c48782" opacity="0.69"/>
<rect x="228.7" y="245.1" width="0.9" height="1.6" fill="#c58a83" opacity="0.62"/>
<rect x="228.7" y="244.5" width="0.9" height="1.2" fill="#ddcca4" opacity="0.53"/>
<rect x="229.5" y="238.1" width="0.9" height="9.5" fill="url(#gband)" opacity="0.90"/>
<rect x="229.5" y="244.5" width="0.9" height="1.6" fill="#c89287" opacity="0.80"/>
<rect x="229.5" y="244.3" width="0.9" height="1.6" fill="#cc9f8d" opacity="0.40"/>
<rect x="229.5" y="244.3" width="0.9" height="1.6" fill="#c38380" opacity="0.38"/>
<rect x="229.5" y="243.4" width="0.9" height="1.2" fill="#e2d8ab" opacity="0.74"/>
<rect x="230.3" y="237.6" width="0.9" height="10.0" fill="url(#gband)" opacity="0.90"/>
<rect x="230.3" y="239.6" width="0.9" height="1.6" fill="#c48681" opacity="0.74"/>
<rect x="230.3" y="243.2" width="0.9" height="1.6" fill="#c58882" opacity="0.41"/>
<rect x="230.3" y="241.3" width="0.9" height="1.6" fill="#cda38f" opacity="0.59"/>
<rect x="230.3" y="241.4" width="0.9" height="1.2" fill="#e1d8ab" opacity="0.79"/>
<rect x="231.1" y="238.1" width="0.9" height="9.5" fill="url(#gband)" opacity="0.90"/>
<rect x="231.1" y="240.1" width="0.9" height="1.6" fill="#c58882" opacity="0.77"/>
<rect x="231.1" y="242.5" width="0.9" height="1.6" fill="#c38280" opacity="0.50"/>
<rect x="231.1" y="240.8" width="0.9" height="1.6" fill="#c17d7d" opacity="0.70"/>
<rect x="231.1" y="242.4" width="0.9" height="1.2" fill="#decfa6" opacity="0.44"/>
<rect x="231.9" y="237.4" width="0.9" height="10.2" fill="url(#gband)" opacity="0.90"/>
<rect x="231.9" y="242.1" width="0.9" height="1.6" fill="#c27e7e" opacity="0.40"/>
<rect x="231.9" y="244.9" width="0.9" height="1.6" fill="#bd7b7b" opacity="0.71"/>
<rect x="231.9" y="242.6" width="0.9" height="1.6" fill="#c38380" opacity="0.60"/>
<rect x="231.9" y="243.0" width="0.9" height="1.2" fill="#d4b598" opacity="0.43"/>
<rect x="232.7" y="238.7" width="0.9" height="8.9" fill="url(#gband)" opacity="0.90"/>
<rect x="232.7" y="242.2" width="0.9" height="1.6" fill="#c48782" opacity="0.76"/>
<rect x="232.7" y="243.8" width="0.9" height="1.6" fill="#cea691" opacity="0.80"/>
<rect x="232.7" y="240.9" width="0.9" height="1.6" fill="#bd7b7b" opacity="0.60"/>
<rect x="232.7" y="243.8" width="0.9" height="1.2" fill="#d4b598" opacity="0.69"/>
<rect x="233.5" y="238.4" width="0.9" height="9.2" fill="url(#gband)" opacity="0.90"/>
<rect x="233.5" y="244.1" width="0.9" height="1.6" fill="#cda38f" opacity="0.41"/>
<rect x="233.5" y="239.8" width="0.9" height="1.6" fill="#c58a83" opacity="0.50"/>
<rect x="233.5" y="241.5" width="0.9" height="1.6" fill="#c27e7e" opacity="0.49"/>
<rect x="233.5" y="242.4" width="0.9" height="1.2" fill="#dbc9a3" opacity="0.61"/>
<rect x="234.3" y="237.7" width="0.9" height="9.9" fill="url(#gband)" opacity="0.90"/>
<rect x="234.3" y="241.5" width="0.9" height="1.6" fill="#c68d85" opacity="0.52"/>
<rect x="234.3" y="240.0" width="0.9" height="1.6" fill="#bc7a7a" opacity="0.52"/>
<rect x="234.3" y="238.7" width="0.9" height="1.6" fill="#c68c84" opacity="0.63"/>
<rect x="234.3" y="242.7" width="0.9" height="1.2" fill="#ddcea5" opacity="0.57"/>
<rect x="235.1" y="237.5" width="0.9" height="10.1" fill="url(#gband)" opacity="0.90"/>
<rect x="235.1" y="238.9" width="0.9" height="1.6" fill="#bb7979" opacity="0.43"/>
<rect x="235.1" y="243.0" width="0.9" height="1.6" fill="#c68d85" opacity="0.71"/>
<rect x="235.1" y="241.3" width="0.9" height="1.6" fill="#cea691" opacity="0.36"/>
<rect x="235.1" y="243.5" width="0.9" height="1.2" fill="#d1ae95" opacity="0.68"/>
<rect x="235.9" y="237.6" width="0.9" height="10.0" fill="url(#gband)" opacity="0.90"/>
<rect x="235.9" y="240.0" width="0.9" height="1.6" fill="#cb9b8b" opacity="0.36"/>
<rect x="235.9" y="242.3" width="0.9" height="1.6" fill="#c99689" opacity="0.72"/>
<rect x="235.9" y="238.6" width="0.9" height="1.6" fill="#c3827f" opacity="0.38"/>
<rect x="235.9" y="242.5" width="0.9" height="1.2" fill="#d2b296" opacity="0.58"/>
<rect x="236.7" y="237.7" width="0.9" height="9.9" fill="url(#gband)" opacity="0.90"/>
<rect x="236.7" y="243.4" width="0.9" height="1.6" fill="#bc7a7a" opacity="0.60"/>
<rect x="236.7" y="244.8" width="0.9" height="1.6" fill="#cc9e8d" opacity="0.79"/>
<rect x="236.7" y="243.6" width="0.9" height="1.6" fill="#bf7c7c" opacity="0.64"/>
<rect x="236.7" y="242.7" width="0.9" height="1.2" fill="#e2d8ab" opacity="0.63"/>
<rect x="237.5" y="238.0" width="0.9" height="9.6" fill="url(#gband)" opacity="0.90"/>
<rect x="237.5" y="240.6" width="0.9" height="1.6" fill="#c58882" opacity="0.73"/>
<rect x="237.5" y="242.7" width="0.9" height="1.6" fill="#d0aa93" opacity="0.42"/>
<rect x="237.5" y="240.4" width="0.9" height="1.6" fill="#ca988a" opacity="0.54"/>
<rect x="237.5" y="241.9" width="0.9" height="1.2" fill="#dfd1a7" opacity="0.64"/>
<rect x="238.3" y="238.1" width="0.9" height="9.5" fill="url(#gband)" opacity="0.90"/>
<rect x="238.3" y="241.3" width="0.9" height="1.6" fill="#d0aa93" opacity="0.66"/>
<rect x="238.3" y="239.2" width="0.9" height="1.6" fill="#cca08e" opacity="0.79"/>
<rect x="238.3" y="241.7" width="0.9" height="1.6" fill="#b97878" opacity="0.73"/>
<rect x="238.3" y="243.1" width="0.9" height="1.2" fill="#d7be9d" opacity="0.85"/>
<rect x="239.1" y="237.4" width="0.9" height="10.2" fill="url(#gband)" opacity="0.90"/>
<rect x="239.1" y="244.3" width="0.9" height="1.6" fill="#c3817f" opacity="0.62"/>
<rect x="239.1" y="244.3" width="0.9" height="1.6" fill="#bc7a7a" opacity="0.72"/>
<rect x="239.1" y="240.4" width="0.9" height="1.6" fill="#be7b7b" opacity="0.48"/>
<rect x="239.1" y="241.8" width="0.9" height="1.2" fill="#e2d9ab" opacity="0.67"/>
<rect x="239.9" y="237.6" width="0.9" height="10.0" fill="url(#gband)" opacity="0.90"/>
<rect x="239.9" y="244.1" width="0.9" height="1.6" fill="#c68d85" opacity="0.57"/>
<rect x="239.9" y="241.2" width="0.9" height="1.6" fill="#cfa992" opacity="0.77"/>
<rect x="239.9" y="242.5" width="0.9" height="1.6" fill="#cda28f" opacity="0.66"/>
<rect x="239.9" y="241.2" width="0.9" height="1.2" fill="#d3b397" opacity="0.71"/>
<rect x="240.7" y="237.7" width="0.9" height="9.9" fill="url(#gband)" opacity="0.90"/>
<rect x="240.7" y="244.6" width="0.9" height="1.6" fill="#cc9e8d" opacity="0.73"/>
<rect x="240.7" y="243.8" width="0.9" height="1.6" fill="#cea690" opacity="0.65"/>
<rect x="240.7" y="240.1" width="0.9" height="1.6" fill="#ca998a" opacity="0.54"/>
<rect x="240.7" y="244.6" width="0.9" height="1.2" fill="#dbc9a3" opacity="0.71"/>
<rect x="241.5" y="237.9" width="0.9" height="9.7" fill="url(#gband)" opacity="0.90"/>
<rect x="241.5" y="243.9" width="0.9" height="1.6" fill="#cb9b8b" opacity="0.67"/>
<rect x="241.5" y="243.1" width="0.9" height="1.6" fill="#cc9e8d" opacity="0.74"/>
<rect x="241.5" y="242.8" width="0.9" height="1.6" fill="#c78e85" opacity="0.68"/>
<rect x="241.5" y="242.7" width="0.9" height="1.2" fill="#dac7a1" opacity="0.68"/>
<rect x="242.3" y="237.2" width="0.9" height="10.4" fill="url(#gband)" opacity="0.90"/>
<rect x="242.3" y="244.3" width="0.9" height="1.6" fill="#c79186" opacity="0.73"/>
<rect x="242.3" y="241.3" width="0.9" height="1.6" fill="#c38280" opacity="0.42"/>
<rect x="242.3" y="242.7" width="0.9" height="1.6" fill="#c68d85" opacity="0.80"/>
<rect x="242.3" y="242.8" width="0.9" height="1.2" fill="#d7bc9c" opacity="0.82"/>
<rect x="243.1" y="236.7" width="0.9" height="10.9" fill="url(#gband)" opacity="0.90"/>
<rect x="243.1" y="243.1" width="0.9" height="1.6" fill="#cfa992" opacity="0.73"/>
<rect x="243.1" y="240.6" width="0.9" height="1.6" fill="#bf7c7c" opacity="0.65"/>
<rect x="243.1" y="243.8" width="0.9" height="1.6" fill="#cb9e8c" opacity="0.72"/>
<rect x="243.1" y="243.1" width="0.9" height="1.2" fill="#e1d6aa" opacity="0.50"/>
<rect x="243.9" y="237.2" width="0.9" height="10.4" fill="url(#gband)" opacity="0.90"/>
<rect x="243.9" y="241.2" width="0.9" height="1.6" fill="#b97878" opacity="0.77"/>
<rect x="243.9" y="240.3" width="0.9" height="1.6" fill="#bd7b7b" opacity="0.50"/>
<rect x="243.9" y="245.3" width="0.9" height="1.6" fill="#cb9d8c" opacity="0.61"/>
<rect x="243.9" y="242.1" width="0.9" height="1.2" fill="#d6bb9b" opacity="0.79"/>
<rect x="244.7" y="236.9" width="0.9" height="10.7" fill="url(#gband)" opacity="0.90"/>
<rect x="244.7" y="239.8" width="0.9" height="1.6" fill="#cb9d8c" opacity="0.59"/>
<rect x="244.7" y="245.3" width="0.9" height="1.6" fill="#cda38f" opacity="0.45"/>
<rect x="244.7" y="241.0" width="0.9" height="1.6" fill="#bd7b7b" opacity="0.44"/>
<rect x="244.7" y="243.0" width="0.9" height="1.2" fill="#d4b699" opacity="0.61"/>
<rect x="245.5" y="236.4" width="0.9" height="11.2" fill="url(#gband)" opacity="0.90"/>
<rect x="245.5" y="239.0" width="0.9" height="1.6" fill="#cb9d8c" opacity="0.71"/>
<rect x="245.5" y="241.6" width="0.9" height="1.6" fill="#c89287" opacity="0.72"/>
<rect x="245.5" y="244.0" width="0.9" height="1.6" fill="#c17d7d" opacity="0.66"/>
<rect x="245.5" y="241.3" width="0.9" height="1.2" fill="#dac6a1" opacity="0.47"/>
<rect x="246.3" y="237.7" width="0.9" height="9.9" fill="url(#gband)" opacity="0.90"/>
<rect x="246.3" y="242.3" width="0.9" height="1.6" fill="#cca08e" opacity="0.70"/>
<rect x="246.3" y="238.9" width="0.9" height="1.6" fill="#cb9c8c" opacity="0.71"/>
<rect x="246.3" y="242.7" width="0.9" height="1.6" fill="#cca18e" opacity="0.63"/>
<rect x="246.3" y="241.5" width="0.9" height="1.2" fill="#d2b196" opacity="0.58"/>
<rect x="247.1" y="237.5" width="0.9" height="10.1" fill="url(#gband)" opacity="0.90"/>
<rect x="247.1" y="245.2" width="0.9" height="1.6" fill="#bf7c7c" opacity="0.65"/>
<rect x="247.1" y="239.2" width="0.9" height="1.6" fill="#bd7b7b" opacity="0.45"/>
<rect x="247.1" y="242.6" width="0.9" height="1.6" fill="#c58a83" opacity="0.65"/>
<rect x="247.1" y="240.3" width="0.9" height="1.2" fill="#dbc7a2" opacity="0.82"/>
<rect x="247.9" y="237.4" width="0.9" height="10.2" fill="url(#gband)" opacity="0.90"/>
<rect x="247.9" y="239.2" width="0.9" height="1.6" fill="#d0ab93" opacity="0.60"/>
<rect x="247.9" y="242.1" width="0.9" height="1.6" fill="#c89387" opacity="0.51"/>
<rect x="247.9" y="242.0" width="0.9" height="1.6" fill="#c48782" opacity="0.73"/>
<rect x="247.9" y="240.7" width="0.9" height="1.2" fill="#d5b89a" opacity="0.72"/>
<rect x="248.7" y="236.4" width="0.9" height="11.2" fill="url(#gband)" opacity="0.90"/>
<rect x="248.7" y="239.8" width="0.9" height="1.6" fill="#d0ab93" opacity="0.61"/>
<rect x="248.7" y="239.5" width="0.9" height="1.6" fill="#cc9e8d" opacity="0.70"/>
<rect x="248.7" y="237.4" width="0.9" height="1.6" fill="#b97878" opacity="0.50"/>
<rect x="248.7" y="242.1" width="0.9" height="1.2" fill="#dccaa3" opacity="0.78"/>
<rect x="249.5" y="237.1" width="0.9" height="10.5" fill="url(#gband)" opacity="0.90"/>
<rect x="249.5" y="239.5" width="0.9" height="1.6" fill="#d0ab93" opacity="0.51"/>
<rect x="249.5" y="241.9" width="0.9" height="1.6" fill="#c48581" opacity="0.75"/>
<rect x="249.5" y="239.3" width="0.9" height="1.6" fill="#c89387" opacity="0.42"/>
<rect x="249.5" y="241.7" width="0.9" height="1.2" fill="#d1ad94" opacity="0.88"/>
<rect x="250.3" y="236.5" width="0.9" height="11.1" fill="url(#gband)" opacity="0.90"/>
<rect x="250.3" y="244.5" width="0.9" height="1.6" fill="#bd7b7b" opacity="0.75"/>
<rect x="250.3" y="239.9" width="0.9" height="1.6" fill="#cfa992" opacity="0.50"/>
<rect x="250.3" y="242.9" width="0.9" height="1.6" fill="#cc9e8d" opacity="0.41"/>
<rect x="250.3" y="240.5" width="0.9" height="1.2" fill="#ddcca4" opacity="0.85"/>
<rect x="251.1" y="237.4" width="0.9" height="10.2" fill="url(#gband)" opacity="0.90"/>
<rect x="251.1" y="243.5" width="0.9" height="1.6" fill="#cea490" opacity="0.41"/>
<rect x="251.1" y="238.2" width="0.9" height="1.6" fill="#cda38f" opacity="0.69"/>
<rect x="251.1" y="241.4" width="0.9" height="1.6" fill="#c68c84" opacity="0.36"/>
<rect x="251.1" y="241.1" width="0.9" height="1.2" fill="#ddcca4" opacity="0.53"/>
<rect x="251.9" y="236.0" width="0.9" height="11.6" fill="url(#gband)" opacity="0.90"/>
<rect x="251.9" y="244.6" width="0.9" height="1.6" fill="#bf7c7c" opacity="0.65"/>
<rect x="251.9" y="237.5" width="0.9" height="1.6" fill="#c38380" opacity="0.56"/>
<rect x="251.9" y="244.4" width="0.9" height="1.6" fill="#cfa791" opacity="0.57"/>
<rect x="251.9" y="240.9" width="0.9" height="1.2" fill="#e0d5a9" opacity="0.77"/>
<rect x="252.7" y="236.7" width="0.9" height="10.9" fill="url(#gband)" opacity="0.90"/>
<rect x="252.7" y="241.8" width="0.9" height="1.6" fill="#c2807f" opacity="0.37"/>
<rect x="252.7" y="243.7" width="0.9" height="1.6" fill="#bc7a7a" opacity="0.80"/>
<rect x="252.7" y="243.1" width="0.9" height="1.6" fill="#cca08e" opacity="0.53"/>
<rect x="252.7" y="241.2" width="0.9" height="1.2" fill="#d3b498" opacity="0.72"/>
<rect x="253.5" y="237.1" width="0.9" height="10.5" fill="url(#gband)" opacity="0.90"/>
<rect x="253.5" y="244.3" width="0.9" height="1.6" fill="#c2807f" opacity="0.39"/>
<rect x="253.5" y="239.2" width="0.9" height="1.6" fill="#bf7c7c" opacity="0.58"/>
<rect x="253.5" y="241.7" width="0.9" height="1.6" fill="#c89387" opacity="0.46"/>
<rect x="253.5" y="240.7" width="0.9" height="1.2" fill="#d6ba9b" opacity="0.85"/>
<rect x="254.3" y="236.1" width="0.9" height="11.5" fill="url(#gband)" opacity="0.90"/>
<rect x="254.3" y="240.5" width="0.9" height="1.6" fill="#c48481" opacity="0.48"/>
<rect x="254.3" y="243.2" width="0.9" height="1.6" fill="#c27e7e" opacity="0.41"/>
<rect x="254.3" y="237.0" width="0.9" height="1.6" fill="#c27e7e" opacity="0.53"/>
<rect x="254.3" y="240.6" width="0.9" height="1.2" fill="#dac5a0" opacity="0.50"/>
<rect x="255.1" y="235.9" width="0.9" height="11.7" fill="url(#gband)" opacity="0.90"/>
<rect x="255.1" y="236.7" width="0.9" height="1.6" fill="#c17d7d" opacity="0.70"/>
<rect x="255.1" y="241.4" width="0.9" height="1.6" fill="#cc9e8d" opacity="0.62"/>
<rect x="255.1" y="244.7" width="0.9" height="1.6" fill="#cfa691" opacity="0.77"/>
<rect x="255.1" y="242.0" width="0.9" height="1.2" fill="#e0d5a9" opacity="0.68"/>
<rect x="255.9" y="236.7" width="0.9" height="10.9" fill="url(#gband)" opacity="0.90"/>
<rect x="255.9" y="244.0" width="0.9" height="1.6" fill="#c58983" opacity="0.40"/>
<rect x="255.9" y="238.4" width="0.9" height="1.6" fill="#c68b84" opacity="0.47"/>
<rect x="255.9" y="242.3" width="0.9" height="1.6" fill="#cda38f" opacity="0.37"/>
<rect x="255.9" y="240.8" width="0.9" height="1.2" fill="#dfd1a7" opacity="0.50"/>
<rect x="256.7" y="236.0" width="0.9" height="11.6" fill="url(#gband)" opacity="0.90"/>
<rect x="256.7" y="237.2" width="0.9" height="1.6" fill="#ca9a8b" opacity="0.73"/>
<rect x="256.7" y="244.9" width="0.9" height="1.6" fill="#cb9e8c" opacity="0.73"/>
<rect x="256.7" y="239.0" width="0.9" height="1.6" fill="#bd7b7b" opacity="0.50"/>
<rect x="256.7" y="239.7" width="0.9" height="1.2" fill="#d8c19e" opacity="0.90"/>
<rect x="257.5" y="236.4" width="0.9" height="11.2" fill="url(#gband)" opacity="0.90"/>
<rect x="257.5" y="237.5" width="0.9" height="1.6" fill="#cfa891" opacity="0.67"/>
<rect x="257.5" y="239.2" width="0.9" height="1.6" fill="#c07d7d" opacity="0.78"/>
<rect x="257.5" y="238.2" width="0.9" height="1.6" fill="#c79086" opacity="0.78"/>
<rect x="257.5" y="238.9" width="0.9" height="1.2" fill="#dbc8a2" opacity="0.64"/>
<rect x="258.3" y="235.6" width="0.9" height="12.0" fill="url(#gband)" opacity="0.90"/>
<rect x="258.3" y="236.8" width="0.9" height="1.6" fill="#cb9c8c" opacity="0.37"/>
<rect x="258.3" y="239.6" width="0.9" height="1.6" fill="#c48581" opacity="0.54"/>
<rect x="258.3" y="237.1" width="0.9" height="1.6" fill="#d0ab93" opacity="0.60"/>
<rect x="258.3" y="242.1" width="0.9" height="1.2" fill="#dfd2a7" opacity="0.41"/>
<rect x="259.1" y="236.4" width="0.9" height="11.2" fill="url(#gband)" opacity="0.90"/>
<rect x="259.1" y="240.1" width="0.9" height="1.6" fill="#c58a83" opacity="0.69"/>
<rect x="259.1" y="243.9" width="0.9" height="1.6" fill="#c2807f" opacity="0.60"/>
<rect x="259.1" y="241.7" width="0.9" height="1.6" fill="#c89387" opacity="0.57"/>
<rect x="259.1" y="239.9" width="0.9" height="1.2" fill="#dac6a1" opacity="0.81"/>
<rect x="259.9" y="236.1" width="0.9" height="11.5" fill="url(#gband)" opacity="0.90"/>
<rect x="259.9" y="242.8" width="0.9" height="1.6" fill="#b97878" opacity="0.52"/>
<rect x="259.9" y="244.1" width="0.9" height="1.6" fill="#c78f86" opacity="0.53"/>
<rect x="259.9" y="238.3" width="0.9" height="1.6" fill="#bd7b7b" opacity="0.44"/>
<rect x="259.9" y="240.5" width="0.9" height="1.2" fill="#d9c29f" opacity="0.44"/>
<rect x="260.7" y="236.6" width="0.9" height="11.0" fill="url(#gband)" opacity="0.90"/>
<rect x="260.7" y="238.6" width="0.9" height="1.6" fill="#c58b84" opacity="0.48"/>
<rect x="260.7" y="241.8" width="0.9" height="1.6" fill="#c99689" opacity="0.35"/>
<rect x="260.7" y="238.3" width="0.9" height="1.6" fill="#c79086" opacity="0.39"/>
<rect x="260.7" y="240.9" width="0.9" height="1.2" fill="#d3b297" opacity="0.87"/>
<rect x="261.5" y="235.6" width="0.9" height="12.0" fill="url(#gband)" opacity="0.90"/>
<rect x="261.5" y="242.2" width="0.9" height="1.6" fill="#c68b84" opacity="0.39"/>
<rect x="261.5" y="244.9" width="0.9" height="1.6" fill="#ba7979" opacity="0.56"/>
<rect x="261.5" y="242.8" width="0.9" height="1.6" fill="#c38481" opacity="0.61"/>
<rect x="261.5" y="240.3" width="0.9" height="1.2" fill="#e0d4a9" opacity="0.63"/>
<rect x="262.3" y="236.4" width="0.9" height="11.2" fill="url(#gband)" opacity="0.90"/>
<rect x="262.3" y="244.5" width="0.9" height="1.6" fill="#c68d84" opacity="0.55"/>
<rect x="262.3" y="243.3" width="0.9" height="1.6" fill="#ca9a8b" opacity="0.43"/>
<rect x="262.3" y="244.5" width="0.9" height="1.6" fill="#ca988a" opacity="0.52"/>
<rect x="262.3" y="240.9" width="0.9" height="1.2" fill="#decfa6" opacity="0.87"/>
<rect x="263.1" y="235.3" width="0.9" height="12.3" fill="url(#gband)" opacity="0.90"/>
<rect x="263.1" y="239.0" width="0.9" height="1.6" fill="#c99588" opacity="0.62"/>
<rect x="263.1" y="238.6" width="0.9" height="1.6" fill="#c48581" opacity="0.38"/>
<rect x="263.1" y="238.7" width="0.9" height="1.6" fill="#bc7a7a" opacity="0.54"/>
<rect x="263.1" y="241.6" width="0.9" height="1.2" fill="#e0d4a9" opacity="0.73"/>
<rect x="263.9" y="236.0" width="0.9" height="11.6" fill="url(#gband)" opacity="0.90"/>
<rect x="263.9" y="237.1" width="0.9" height="1.6" fill="#c38380" opacity="0.62"/>
<rect x="263.9" y="242.2" width="0.9" height="1.6" fill="#c89387" opacity="0.37"/>
<rect x="263.9" y="241.7" width="0.9" height="1.6" fill="#b97878" opacity="0.60"/>
<rect x="263.9" y="240.0" width="0.9" height="1.2" fill="#d7bf9d" opacity="0.49"/>
<rect x="264.7" y="235.1" width="0.9" height="12.5" fill="url(#gband)" opacity="0.90"/>
<rect x="264.7" y="240.4" width="0.9" height="1.6" fill="#ba7878" opacity="0.60"/>
<rect x="264.7" y="237.5" width="0.9" height="1.6" fill="#c38380" opacity="0.53"/>
<rect x="264.7" y="241.6" width="0.9" height="1.6" fill="#cfa992" opacity="0.35"/>
<rect x="264.7" y="241.0" width="0.9" height="1.2" fill="#d1ad94" opacity="0.59"/>
<rect x="265.5" y="236.0" width="0.9" height="11.6" fill="url(#gband)" opacity="0.90"/>
<rect x="265.5" y="244.1" width="0.9" height="1.6" fill="#c99689" opacity="0.54"/>
<rect x="265.5" y="245.0" width="0.9" height="1.6" fill="#c2807f" opacity="0.44"/>
<rect x="265.5" y="241.7" width="0.9" height="1.6" fill="#cc9e8d" opacity="0.78"/>
<rect x="265.5" y="239.0" width="0.9" height="1.2" fill="#dccaa3" opacity="0.86"/>
<rect x="266.3" y="235.1" width="0.9" height="12.5" fill="url(#gband)" opacity="0.90"/>
<rect x="266.3" y="237.1" width="0.9" height="1.6" fill="#cb9d8c" opacity="0.54"/>
<rect x="266.3" y="238.4" width="0.9" height="1.6" fill="#c58983" opacity="0.60"/>
<rect x="266.3" y="236.0" width="0.9" height="1.6" fill="#cda28e" opacity="0.57"/>
<rect x="266.3" y="240.5" width="0.9" height="1.2" fill="#d3b296" opacity="0.80"/>
<rect x="267.1" y="235.6" width="0.9" height="12.0" fill="url(#gband)" opacity="0.90"/>
<rect x="267.1" y="237.5" width="0.9" height="1.6" fill="#c48882" opacity="0.61"/>
<rect x="267.1" y="244.8" width="0.9" height="1.6" fill="#c68e85" opacity="0.51"/>
<rect x="267.1" y="241.4" width="0.9" height="1.6" fill="#c89387" opacity="0.46"/>
<rect x="267.1" y="239.7" width="0.9" height="1.2" fill="#decfa6" opacity="0.51"/>
<rect x="267.9" y="235.4" width="0.9" height="12.2" fill="url(#gband)" opacity="0.90"/>
<rect x="267.9" y="236.7" width="0.9" height="1.6" fill="#c27e7e" opacity="0.55"/>
<rect x="267.9" y="244.3" width="0.9" height="1.6" fill="#ca9a8b" opacity="0.63"/>
<rect x="267.9" y="243.5" width="0.9" height="1.6" fill="#be7b7b" opacity="0.54"/>
<rect x="267.9" y="239.7" width="0.9" height="1.2" fill="#d0ac93" opacity="0.60"/>
<rect x="268.7" y="235.0" width="0.9" height="12.6" fill="url(#gband)" opacity="0.90"/>
<rect x="268.7" y="237.8" width="0.9" height="1.6" fill="#cea691" opacity="0.47"/>
<rect x="268.7" y="236.1" width="0.9" height="1.6" fill="#c89287" opacity="0.60"/>
<rect x="268.7" y="242.1" width="0.9" height="1.6" fill="#c48882" opacity="0.76"/>
<rect x="268.7" y="240.6" width="0.9" height="1.2" fill="#ddcea5" opacity="0.48"/>
<rect x="269.5" y="235.9" width="0.9" height="11.7" fill="url(#gband)" opacity="0.90"/>
<rect x="269.5" y="238.5" width="0.9" height="1.6" fill="#c07d7d" opacity="0.38"/>
<rect x="269.5" y="237.4" width="0.9" height="1.6" fill="#c89488" opacity="0.65"/>
<rect x="269.5" y="239.4" width="0.9" height="1.6" fill="#cb9d8c" opacity="0.57"/>
<rect x="269.5" y="240.4" width="0.9" height="1.2" fill="#dbc8a2" opacity="0.73"/>
<rect x="270.3" y="235.4" width="0.9" height="12.2" fill="url(#gband)" opacity="0.90"/>
<rect x="270.3" y="237.2" width="0.9" height="1.6" fill="#c48481" opacity="0.62"/>
<rect x="270.3" y="237.5" width="0.9" height="1.6" fill="#c58a83" opacity="0.63"/>
<rect x="270.3" y="236.7" width="0.9" height="1.6" fill="#c58a83" opacity="0.58"/>
<rect x="270.3" y="239.8" width="0.9" height="1.2" fill="#d7bd9d" opacity="0.44"/>
<rect x="271.1" y="235.0" width="0.9" height="12.6" fill="url(#gband)" opacity="0.90"/>
<rect x="271.1" y="236.8" width="0.9" height="1.6" fill="#d0a992" opacity="0.55"/>
<rect x="271.1" y="244.3" width="0.9" height="1.6" fill="#c48782" opacity="0.52"/>
<rect x="271.1" y="239.3" width="0.9" height="1.6" fill="#cea490" opacity="0.35"/>
<rect x="271.1" y="240.1" width="0.9" height="1.2" fill="#dac5a0" opacity="0.83"/>
<rect x="271.9" y="235.0" width="0.9" height="12.6" fill="url(#gband)" opacity="0.90"/>
<rect x="271.9" y="244.4" width="0.9" height="1.6" fill="#c48782" opacity="0.49"/>
<rect x="271.9" y="241.9" width="0.9" height="1.6" fill="#c48782" opacity="0.43"/>
<rect x="271.9" y="242.7" width="0.9" height="1.6" fill="#c99689" opacity="0.64"/>
<rect x="271.9" y="241.3" width="0.9" height="1.2" fill="#ddcca4" opacity="0.57"/>
<rect x="272.7" y="235.3" width="0.9" height="12.3" fill="url(#gband)" opacity="0.90"/>
<rect x="272.7" y="236.3" width="0.9" height="1.6" fill="#ba7979" opacity="0.50"/>
<rect x="272.7" y="242.9" width="0.9" height="1.6" fill="#d0aa92" opacity="0.59"/>
<rect x="272.7" y="240.0" width="0.9" height="1.6" fill="#ca998a" opacity="0.51"/>
<rect x="272.7" y="241.5" width="0.9" height="1.2" fill="#dfd3a8" opacity="0.65"/>
<rect x="273.5" y="234.9" width="0.9" height="12.7" fill="url(#gband)" opacity="0.90"/>
<rect x="273.5" y="239.3" width="0.9" height="1.6" fill="#cda18e" opacity="0.73"/>
<rect x="273.5" y="238.3" width="0.9" height="1.6" fill="#b97878" opacity="0.62"/>
<rect x="273.5" y="242.0" width="0.9" height="1.6" fill="#cea590" opacity="0.64"/>
<rect x="273.5" y="240.8" width="0.9" height="1.2" fill="#dbc7a2" opacity="0.58"/>
<rect x="274.3" y="236.1" width="0.9" height="11.5" fill="url(#gband)" opacity="0.90"/>
<rect x="274.3" y="243.9" width="0.9" height="1.6" fill="#cfa892" opacity="0.65"/>
<rect x="274.3" y="240.5" width="0.9" height="1.6" fill="#c89387" opacity="0.60"/>
<rect x="274.3" y="241.9" width="0.9" height="1.6" fill="#ca988a" opacity="0.42"/>
<rect x="274.3" y="239.3" width="0.9" height="1.2" fill="#e0d4a9" opacity="0.83"/>
<rect x="275.1" y="235.7" width="0.9" height="11.9" fill="url(#gband)" opacity="0.90"/>
<rect x="275.1" y="239.6" width="0.9" height="1.6" fill="#c99789" opacity="0.69"/>
<rect x="275.1" y="245.2" width="0.9" height="1.6" fill="#d0aa93" opacity="0.38"/>
<rect x="275.1" y="236.8" width="0.9" height="1.6" fill="#c79086" opacity="0.65"/>
<rect x="275.1" y="240.2" width="0.9" height="1.2" fill="#d9c39f" opacity="0.79"/>
<rect x="275.9" y="235.6" width="0.9" height="12.0" fill="url(#gband)" opacity="0.90"/>
<rect x="275.9" y="243.2" width="0.9" height="1.6" fill="#d0ab93" opacity="0.55"/>
<rect x="275.9" y="239.1" width="0.9" height="1.6" fill="#bf7c7c" opacity="0.52"/>
<rect x="275.9" y="241.0" width="0.9" height="1.6" fill="#c9988a" opacity="0.38"/>
<rect x="275.9" y="241.3" width="0.9" height="1.2" fill="#ddcca4" opacity="0.83"/>
<rect x="276.7" y="235.3" width="0.9" height="12.3" fill="url(#gband)" opacity="0.90"/>
<rect x="276.7" y="239.3" width="0.9" height="1.6" fill="#c78e85" opacity="0.46"/>
<rect x="276.7" y="237.9" width="0.9" height="1.6" fill="#bd7b7b" opacity="0.69"/>
<rect x="276.7" y="237.8" width="0.9" height="1.6" fill="#bc7a7a" opacity="0.69"/>
<rect x="276.7" y="241.1" width="0.9" height="1.2" fill="#d7be9d" opacity="0.49"/>
<rect x="277.5" y="234.8" width="0.9" height="12.8" fill="url(#gband)" opacity="0.90"/>
<rect x="277.5" y="244.3" width="0.9" height="1.6" fill="#cb9b8b" opacity="0.73"/>
<rect x="277.5" y="239.0" width="0.9" height="1.6" fill="#cda28f" opacity="0.55"/>
<rect x="277.5" y="239.8" width="0.9" height="1.6" fill="#c99789" opacity="0.55"/>
<rect x="277.5" y="240.3" width="0.9" height="1.2" fill="#dfd2a8" opacity="0.82"/>
<rect x="278.3" y="235.7" width="0.9" height="11.9" fill="url(#gband)" opacity="0.90"/>
<rect x="278.3" y="241.8" width="0.9" height="1.6" fill="#cfa992" opacity="0.36"/>
<rect x="278.3" y="241.7" width="0.9" height="1.6" fill="#c89287" opacity="0.66"/>
<rect x="278.3" y="238.2" width="0.9" height="1.6" fill="#c58882" opacity="0.49"/>
<rect x="278.3" y="239.1" width="0.9" height="1.2" fill="#e2d9ab" opacity="0.70"/>
<rect x="279.1" y="236.3" width="0.9" height="11.3" fill="url(#gband)" opacity="0.90"/>
<rect x="279.1" y="243.3" width="0.9" height="1.6" fill="#cc9e8d" opacity="0.64"/>
<rect x="279.1" y="239.4" width="0.9" height="1.6" fill="#bc7a7a" opacity="0.41"/>
<rect x="279.1" y="243.3" width="0.9" height="1.6" fill="#c58a83" opacity="0.48"/>
<rect x="279.1" y="239.4" width="0.9" height="1.2" fill="#ddcea5" opacity="0.49"/>
<rect x="279.9" y="236.2" width="0.9" height="11.4" fill="url(#gband)" opacity="0.90"/>
<rect x="279.9" y="242.9" width="0.9" height="1.6" fill="#cfa891" opacity="0.60"/>
<rect x="279.9" y="241.8" width="0.9" height="1.6" fill="#b97878" opacity="0.44"/>
<rect x="279.9" y="238.7" width="0.9" height="1.6" fill="#cea490" opacity="0.54"/>
<rect x="279.9" y="240.1" width="0.9" height="1.2" fill="#e0d5a9" opacity="0.85"/>
<rect x="280.7" y="235.4" width="0.9" height="12.2" fill="url(#gband)" opacity="0.90"/>
<rect x="280.7" y="244.8" width="0.9" height="1.6" fill="#c89488" opacity="0.72"/>
<rect x="280.7" y="245.0" width="0.9" height="1.6" fill="#bf7c7c" opacity="0.64"/>
<rect x="280.7" y="238.1" width="0.9" height="1.6" fill="#c58983" opacity="0.78"/>
<rect x="280.7" y="241.5" width="0.9" height="1.2" fill="#ddcda5" opacity="0.74"/>
<rect x="281.5" y="235.5" width="0.9" height="12.1" fill="url(#gband)" opacity="0.90"/>
<rect x="281.5" y="239.5" width="0.9" height="1.6" fill="#cda28e" opacity="0.46"/>
<rect x="281.5" y="239.1" width="0.9" height="1.6" fill="#cb9d8c" opacity="0.51"/>
<rect x="281.5" y="245.0" width="0.9" height="1.6" fill="#cc9f8d" opacity="0.44"/>
<rect x="281.5" y="240.8" width="0.9" height="1.2" fill="#d6bb9b" opacity="0.85"/>
<rect x="282.3" y="234.8" width="0.9" height="12.8" fill="url(#gband)" opacity="0.90"/>
<rect x="282.3" y="241.5" width="0.9" height="1.6" fill="#cea691" opacity="0.76"/>
<rect x="282.3" y="239.5" width="0.9" height="1.6" fill="#bb7979" opacity="0.74"/>
<rect x="282.3" y="237.7" width="0.9" height="1.6" fill="#c99689" opacity="0.36"/>
<rect x="282.3" y="239.6" width="0.9" height="1.2" fill="#ddcda5" opacity="0.89"/>
<rect x="283.1" y="234.8" width="0.9" height="12.8" fill="url(#gband)" opacity="0.90"/>
<rect x="283.1" y="243.1" width="0.9" height="1.6" fill="#bb7a7a" opacity="0.45"/>
<rect x="283.1" y="239.0" width="0.9" height="1.6" fill="#ca988a" opacity="0.68"/>
<rect x="283.1" y="239.8" width="0.9" height="1.6" fill="#c68c84" opacity="0.39"/>
<rect x="283.1" y="239.4" width="0.9" height="1.2" fill="#d5b799" opacity="0.72"/>
<rect x="283.9" y="236.2" width="0.9" height="11.4" fill="url(#gband)" opacity="0.90"/>
<rect x="283.9" y="238.6" width="0.9" height="1.6" fill="#c99789" opacity="0.60"/>
<rect x="283.9" y="245.2" width="0.9" height="1.6" fill="#c79186" opacity="0.59"/>
<rect x="283.9" y="243.0" width="0.9" height="1.6" fill="#c58983" opacity="0.63"/>
<rect x="283.9" y="240.4" width="0.9" height="1.2" fill="#d7bf9d" opacity="0.58"/>
<rect x="284.7" y="234.8" width="0.9" height="12.8" fill="url(#gband)" opacity="0.90"/>
<rect x="284.7" y="243.3" width="0.9" height="1.6" fill="#c68e85" opacity="0.50"/>
<rect x="284.7" y="239.4" width="0.9" height="1.6" fill="#ba7979" opacity="0.62"/>
<rect x="284.7" y="237.1" width="0.9" height="1.6" fill="#c38280" opacity="0.76"/>
<rect x="284.7" y="239.1" width="0.9" height="1.2" fill="#ded0a6" opacity="0.45"/>
<rect x="285.5" y="235.9" width="0.9" height="11.7" fill="url(#gband)" opacity="0.90"/>
<rect x="285.5" y="238.8" width="0.9" height="1.6" fill="#ba7979" opacity="0.66"/>
<rect x="285.5" y="244.8" width="0.9" height="1.6" fill="#cea490" opacity="0.66"/>
<rect x="285.5" y="240.6" width="0.9" height="1.6" fill="#c68c84" opacity="0.58"/>
<rect x="285.5" y="241.9" width="0.9" height="1.2" fill="#d4b699" opacity="0.66"/>
<rect x="286.3" y="235.3" width="0.9" height="12.3" fill="url(#gband)" opacity="0.90"/>
<rect x="286.3" y="238.9" width="0.9" height="1.6" fill="#cfa791" opacity="0.43"/>
<rect x="286.3" y="243.2" width="0.9" height="1.6" fill="#c99689" opacity="0.44"/>
<rect x="286.3" y="241.2" width="0.9" height="1.6" fill="#c17d7d" opacity="0.72"/>
<rect x="286.3" y="240.4" width="0.9" height="1.2" fill="#d6bc9c" opacity="0.90"/>
<rect x="287.1" y="235.0" width="0.9" height="12.6" fill="url(#gband)" opacity="0.90"/>
<rect x="287.1" y="241.1" width="0.9" height="1.6" fill="#cfa992" opacity="0.43"/>
<rect x="287.1" y="239.5" width="0.9" height="1.6" fill="#d0a992" opacity="0.35"/>
<rect x="287.1" y="240.6" width="0.9" height="1.6" fill="#cb9d8c" opacity="0.45"/>
<rect x="287.1" y="241.4" width="0.9" height="1.2" fill="#d5ba9b" opacity="0.54"/>
<rect x="287.9" y="235.6" width="0.9" height="12.0" fill="url(#gband)" opacity="0.90"/>
<rect x="287.9" y="241.0" width="0.9" height="1.6" fill="#ca988a" opacity="0.78"/>
<rect x="287.9" y="244.5" width="0.9" height="1.6" fill="#c17d7d" opacity="0.69"/>
<rect x="287.9" y="237.1" width="0.9" height="1.6" fill="#ca998a" opacity="0.79"/>
<rect x="287.9" y="241.3" width="0.9" height="1.2" fill="#e0d4a8" opacity="0.66"/>
<rect x="288.7" y="235.1" width="0.9" height="12.5" fill="url(#gband)" opacity="0.90"/>
<rect x="288.7" y="241.0" width="0.9" height="1.6" fill="#cea48f" opacity="0.60"/>
<rect x="288.7" y="240.6" width="0.9" height="1.6" fill="#cda28e" opacity="0.74"/>
<rect x="288.7" y="244.1" width="0.9" height="1.6" fill="#c79186" opacity="0.44"/>
<rect x="288.7" y="240.6" width="0.9" height="1.2" fill="#d2af95" opacity="0.88"/>
<rect x="289.5" y="235.9" width="0.9" height="11.7" fill="url(#gband)" opacity="0.90"/>
<rect x="289.5" y="244.8" width="0.9" height="1.6" fill="#c68e85" opacity="0.53"/>
<rect x="289.5" y="244.4" width="0.9" height="1.6" fill="#cea590" opacity="0.62"/>
<rect x="289.5" y="240.6" width="0.9" height="1.6" fill="#c79186" opacity="0.39"/>
<rect x="289.5" y="240.3" width="0.9" height="1.2" fill="#d2b296" opacity="0.46"/>
<rect x="290.3" y="235.2" width="0.9" height="12.4" fill="url(#gband)" opacity="0.90"/>
<rect x="290.3" y="240.7" width="0.9" height="1.6" fill="#c17d7d" opacity="0.76"/>
<rect x="290.3" y="241.0" width="0.9" height="1.6" fill="#ca988a" opacity="0.75"/>
<rect x="290.3" y="244.1" width="0.9" height="1.6" fill="#cc9f8d" opacity="0.73"/>
<rect x="290.3" y="241.5" width="0.9" height="1.2" fill="#d3b497" opacity="0.64"/>
<rect x="291.1" y="236.6" width="0.9" height="11.0" fill="url(#gband)" opacity="0.90"/>
<rect x="291.1" y="237.7" width="0.9" height="1.6" fill="#c68c84" opacity="0.79"/>
<rect x="291.1" y="239.8" width="0.9" height="1.6" fill="#c89387" opacity="0.70"/>
<rect x="291.1" y="244.5" width="0.9" height="1.6" fill="#c58a83" opacity="0.59"/>
<rect x="291.1" y="241.6" width="0.9" height="1.2" fill="#d6bb9b" opacity="0.40"/>
<rect x="291.9" y="235.2" width="0.9" height="12.4" fill="url(#gband)" opacity="0.90"/>
<rect x="291.9" y="242.9" width="0.9" height="1.6" fill="#cfa791" opacity="0.59"/>
<rect x="291.9" y="241.3" width="0.9" height="1.6" fill="#c89488" opacity="0.62"/>
<rect x="291.9" y="236.5" width="0.9" height="1.6" fill="#d0a992" opacity="0.79"/>
<rect x="291.9" y="238.9" width="0.9" height="1.2" fill="#dfd1a7" opacity="0.79"/>
<rect x="292.7" y="236.6" width="0.9" height="11.0" fill="url(#gband)" opacity="0.90"/>
<rect x="292.7" y="243.4" width="0.9" height="1.6" fill="#c58983" opacity="0.48"/>
<rect x="292.7" y="242.4" width="0.9" height="1.6" fill="#cca08e" opacity="0.36"/>
<rect x="292.7" y="239.5" width="0.9" height="1.6" fill="#c2807f" opacity="0.45"/>
<rect x="292.7" y="240.2" width="0.9" height="1.2" fill="#d3b397" opacity="0.55"/>
<rect x="293.5" y="236.4" width="0.9" height="11.2" fill="url(#gband)" opacity="0.90"/>
<rect x="293.5" y="241.4" width="0.9" height="1.6" fill="#ca998a" opacity="0.73"/>
<rect x="293.5" y="239.0" width="0.9" height="1.6" fill="#c68b84" opacity="0.51"/>
<rect x="293.5" y="243.6" width="0.9" height="1.6" fill="#cda28f" opacity="0.37"/>
<rect x="293.5" y="239.4" width="0.9" height="1.2" fill="#decfa6" opacity="0.83"/>
<rect x="299.1" y="237.0" width="0.9" height="10.6" fill="url(#gband)" opacity="0.90"/>
<rect x="299.1" y="240.3" width="0.9" height="1.6" fill="#c89387" opacity="0.60"/>
<rect x="299.1" y="239.0" width="0.9" height="1.6" fill="#c68e85" opacity="0.74"/>
<rect x="299.1" y="238.4" width="0.9" height="1.6" fill="#ca9a8b" opacity="0.63"/>
<rect x="299.1" y="242.2" width="0.9" height="1.2" fill="#d9c3a0" opacity="0.59"/>
<rect x="299.9" y="236.8" width="0.9" height="10.8" fill="url(#gband)" opacity="0.90"/>
<rect x="299.9" y="242.1" width="0.9" height="1.6" fill="#c99588" opacity="0.47"/>
<rect x="299.9" y="244.4" width="0.9" height="1.6" fill="#c68c84" opacity="0.52"/>
<rect x="299.9" y="237.6" width="0.9" height="1.6" fill="#c58a83" opacity="0.56"/>
<rect x="299.9" y="242.6" width="0.9" height="1.2" fill="#d1ad94" opacity="0.90"/>
<rect x="300.7" y="236.6" width="0.9" height="11.0" fill="url(#gband)" opacity="0.90"/>
<rect x="300.7" y="241.4" width="0.9" height="1.6" fill="#c79086" opacity="0.70"/>
<rect x="300.7" y="238.4" width="0.9" height="1.6" fill="#cea490" opacity="0.61"/>
<rect x="300.7" y="237.5" width="0.9" height="1.6" fill="#cb9c8c" opacity="0.62"/>
<rect x="300.7" y="241.4" width="0.9" height="1.2" fill="#d2af95" opacity="0.85"/>
<rect x="301.5" y="237.3" width="0.9" height="10.3" fill="url(#gband)" opacity="0.90"/>
<rect x="301.5" y="240.5" width="0.9" height="1.6" fill="#c58a83" opacity="0.73"/>
<rect x="301.5" y="241.4" width="0.9" height="1.6" fill="#bf7c7c" opacity="0.74"/>
<rect x="301.5" y="244.9" width="0.9" height="1.6" fill="#bc7a7a" opacity="0.62"/>
<rect x="301.5" y="242.1" width="0.9" height="1.2" fill="#dac5a1" opacity="0.82"/>
<rect x="302.3" y="236.4" width="0.9" height="11.2" fill="url(#gband)" opacity="0.90"/>
<rect x="302.3" y="240.1" width="0.9" height="1.6" fill="#c99789" opacity="0.59"/>
<rect x="302.3" y="245.3" width="0.9" height="1.6" fill="#cc9f8d" opacity="0.63"/>
<rect x="302.3" y="238.0" width="0.9" height="1.6" fill="#c07d7d" opacity="0.50"/>
<rect x="302.3" y="239.1" width="0.9" height="1.2" fill="#d2b095" opacity="0.52"/>
<rect x="303.1" y="236.3" width="0.9" height="11.3" fill="url(#gband)" opacity="0.90"/>
<rect x="303.1" y="238.9" width="0.9" height="1.6" fill="#c07d7d" opacity="0.79"/>
<rect x="303.1" y="237.6" width="0.9" height="1.6" fill="#cb9b8b" opacity="0.54"/>
<rect x="303.1" y="239.5" width="0.9" height="1.6" fill="#c58b84" opacity="0.78"/>
<rect x="303.1" y="240.6" width="0.9" height="1.2" fill="#dbc7a2" opacity="0.77"/>
<rect x="303.9" y="237.1" width="0.9" height="10.5" fill="url(#gband)" opacity="0.90"/>
<rect x="303.9" y="239.4" width="0.9" height="1.6" fill="#c17e7e" opacity="0.57"/>
<rect x="303.9" y="243.8" width="0.9" height="1.6" fill="#bb7979" opacity="0.45"/>
<rect x="303.9" y="243.1" width="0.9" height="1.6" fill="#c27e7e" opacity="0.61"/>
<rect x="303.9" y="242.7" width="0.9" height="1.2" fill="#ddcda5" opacity="0.53"/>
<rect x="304.7" y="236.7" width="0.9" height="10.9" fill="url(#gband)" opacity="0.90"/>
<rect x="304.7" y="243.0" width="0.9" height="1.6" fill="#ca998a" opacity="0.65"/>
<rect x="304.7" y="241.8" width="0.9" height="1.6" fill="#c99689" opacity="0.71"/>
<rect x="304.7" y="244.7" width="0.9" height="1.6" fill="#ca9a8a" opacity="0.57"/>
<rect x="304.7" y="242.3" width="0.9" height="1.2" fill="#dbc7a2" opacity="0.42"/>
<rect x="305.5" y="237.1" width="0.9" height="10.5" fill="url(#gband)" opacity="0.90"/>
<rect x="305.5" y="240.1" width="0.9" height="1.6" fill="#c17d7d" opacity="0.38"/>
<rect x="305.5" y="240.5" width="0.9" height="1.6" fill="#c89488" opacity="0.48"/>
<rect x="305.5" y="241.5" width="0.9" height="1.6" fill="#c48581" opacity="0.44"/>
<rect x="305.5" y="240.9" width="0.9" height="1.2" fill="#d8bf9e" opacity="0.84"/>
<rect x="306.3" y="237.0" width="0.9" height="10.6" fill="url(#gband)" opacity="0.90"/>
<rect x="306.3" y="244.5" width="0.9" height="1.6" fill="#bc7a7a" opacity="0.66"/>
<rect x="306.3" y="239.6" width="0.9" height="1.6" fill="#c58882" opacity="0.49"/>
<rect x="306.3" y="239.9" width="0.9" height="1.6" fill="#cda38f" opacity="0.66"/>
<rect x="306.3" y="242.8" width="0.9" height="1.2" fill="#e0d5a9" opacity="0.71"/>
<rect x="307.1" y="236.8" width="0.9" height="10.8" fill="url(#gband)" opacity="0.90"/>
<rect x="307.1" y="241.5" width="0.9" height="1.6" fill="#cfa791" opacity="0.50"/>
<rect x="307.1" y="242.6" width="0.9" height="1.6" fill="#cb9d8c" opacity="0.40"/>
<rect x="307.1" y="242.2" width="0.9" height="1.6" fill="#cea691" opacity="0.68"/>
<rect x="307.1" y="242.2" width="0.9" height="1.2" fill="#e0d4a9" opacity="0.50"/>
<rect x="307.9" y="235.8" width="0.9" height="11.8" fill="url(#gband)" opacity="0.90"/>
<rect x="307.9" y="241.8" width="0.9" height="1.6" fill="#c78f85" opacity="0.50"/>
<rect x="307.9" y="241.2" width="0.9" height="1.6" fill="#cc9e8d" opacity="0.66"/>
<rect x="307.9" y="240.1" width="0.9" height="1.6" fill="#c2807f" opacity="0.57"/>
<rect x="307.9" y="241.3" width="0.9" height="1.2" fill="#e0d4a9" opacity="0.89"/>
<rect x="308.7" y="237.3" width="0.9" height="10.3" fill="url(#gband)" opacity="0.90"/>
<rect x="308.7" y="243.3" width="0.9" height="1.6" fill="#c68b84" opacity="0.45"/>
<rect x="308.7" y="243.6" width="0.9" height="1.6" fill="#ca988a" opacity="0.37"/>
<rect x="308.7" y="244.4" width="0.9" height="1.6" fill="#bb7a7a" opacity="0.64"/>
<rect x="308.7" y="240.0" width="0.9" height="1.2" fill="#d7be9d" opacity="0.53"/>
<rect x="309.5" y="236.8" width="0.9" height="10.8" fill="url(#gband)" opacity="0.90"/>
<rect x="309.5" y="238.7" width="0.9" height="1.6" fill="#cfa891" opacity="0.57"/>
<rect x="309.5" y="245.3" width="0.9" height="1.6" fill="#ca998a" opacity="0.59"/>
<rect x="309.5" y="244.6" width="0.9" height="1.6" fill="#b97878" opacity="0.75"/>
<rect x="309.5" y="239.9" width="0.9" height="1.2" fill="#d2b095" opacity="0.84"/>
<rect x="310.3" y="235.9" width="0.9" height="11.7" fill="url(#gband)" opacity="0.90"/>
<rect x="310.3" y="244.6" width="0.9" height="1.6" fill="#c38481" opacity="0.51"/>
<rect x="310.3" y="242.0" width="0.9" height="1.6" fill="#bf7c7c" opacity="0.36"/>
<rect x="310.3" y="237.8" width="0.9" height="1.6" fill="#cc9f8d" opacity="0.74"/>
<rect x="310.3" y="241.6" width="0.9" height="1.2" fill="#d9c29f" opacity="0.66"/>
<rect x="311.1" y="237.1" width="0.9" height="10.5" fill="url(#gband)" opacity="0.90"/>
<rect x="311.1" y="242.3" width="0.9" height="1.6" fill="#cea691" opacity="0.65"/>
<rect x="311.1" y="238.4" width="0.9" height="1.6" fill="#cc9e8d" opacity="0.80"/>
<rect x="311.1" y="238.5" width="0.9" height="1.6" fill="#c68d84" opacity="0.67"/>
<rect x="311.1" y="240.9" width="0.9" height="1.2" fill="#dac6a1" opacity="0.50"/>
<rect x="311.9" y="236.6" width="0.9" height="11.0" fill="url(#gband)" opacity="0.90"/>
<rect x="311.9" y="238.3" width="0.9" height="1.6" fill="#cea490" opacity="0.54"/>
<rect x="311.9" y="240.2" width="0.9" height="1.6" fill="#cea691" opacity="0.57"/>
<rect x="311.9" y="241.0" width="0.9" height="1.6" fill="#bc7a7a" opacity="0.57"/>
<rect x="311.9" y="242.4" width="0.9" height="1.2" fill="#dcc9a3" opacity="0.76"/>
<rect x="312.7" y="235.8" width="0.9" height="11.8" fill="url(#gband)" opacity="0.90"/>
<rect x="312.7" y="238.3" width="0.9" height="1.6" fill="#c68e85" opacity="0.78"/>
<rect x="312.7" y="243.1" width="0.9" height="1.6" fill="#ca9a8a" opacity="0.76"/>
<rect x="312.7" y="241.6" width="0.9" height="1.6" fill="#c99588" opacity="0.45"/>
<rect x="312.7" y="242.2" width="0.9" height="1.2" fill="#e1d8aa" opacity="0.83"/>
<rect x="313.5" y="235.9" width="0.9" height="11.7" fill="url(#gband)" opacity="0.90"/>
<rect x="313.5" y="241.1" width="0.9" height="1.6" fill="#c89287" opacity="0.70"/>
<rect x="313.5" y="243.0" width="0.9" height="1.6" fill="#c89488" opacity="0.59"/>
<rect x="313.5" y="245.2" width="0.9" height="1.6" fill="#ca9b8b" opacity="0.38"/>
<rect x="313.5" y="241.0" width="0.9" height="1.2" fill="#e0d4a9" opacity="0.57"/>
<rect x="314.3" y="236.7" width="0.9" height="10.9" fill="url(#gband)" opacity="0.90"/>
<rect x="314.3" y="239.0" width="0.9" height="1.6" fill="#cda18e" opacity="0.43"/>
<rect x="314.3" y="238.9" width="0.9" height="1.6" fill="#cb9b8b" opacity="0.52"/>
<rect x="314.3" y="240.8" width="0.9" height="1.6" fill="#cb9c8c" opacity="0.51"/>
<rect x="314.3" y="241.0" width="0.9" height="1.2" fill="#decfa6" opacity="0.87"/>
<rect x="315.1" y="236.3" width="0.9" height="11.3" fill="url(#gband)" opacity="0.90"/>
<rect x="315.1" y="238.0" width="0.9" height="1.6" fill="#c48782" opacity="0.73"/>
<rect x="315.1" y="238.7" width="0.9" height="1.6" fill="#c68e85" opacity="0.39"/>
<rect x="315.1" y="244.7" width="0.9" height="1.6" fill="#bd7b7b" opacity="0.44"/>
<rect x="315.1" y="240.0" width="0.9" height="1.2" fill="#d6bb9b" opacity="0.60"/>
<rect x="315.9" y="236.1" width="0.9" height="11.5" fill="url(#gband)" opacity="0.90"/>
<rect x="315.9" y="240.1" width="0.9" height="1.6" fill="#c58983" opacity="0.78"/>
<rect x="315.9" y="240.1" width="0.9" height="1.6" fill="#c38380" opacity="0.51"/>
<rect x="315.9" y="243.6" width="0.9" height="1.6" fill="#c79086" opacity="0.73"/>
<rect x="315.9" y="241.2" width="0.9" height="1.2" fill="#e1d6aa" opacity="0.58"/>
<rect x="316.7" y="236.8" width="0.9" height="10.8" fill="url(#gband)" opacity="0.90"/>
<rect x="316.7" y="240.7" width="0.9" height="1.6" fill="#d0aa92" opacity="0.53"/>
<rect x="316.7" y="238.3" width="0.9" height="1.6" fill="#c3817f" opacity="0.37"/>
<rect x="316.7" y="241.5" width="0.9" height="1.6" fill="#c48782" opacity="0.39"/>
<rect x="316.7" y="241.1" width="0.9" height="1.2" fill="#e2d9ab" opacity="0.50"/>
<rect x="317.5" y="236.5" width="0.9" height="11.1" fill="url(#gband)" opacity="0.90"/>
<rect x="317.5" y="242.6" width="0.9" height="1.6" fill="#bd7b7b" opacity="0.47"/>
<rect x="317.5" y="240.0" width="0.9" height="1.6" fill="#c99789" opacity="0.77"/>
<rect x="317.5" y="238.9" width="0.9" height="1.6" fill="#c48682" opacity="0.78"/>
<rect x="317.5" y="240.7" width="0.9" height="1.2" fill="#d8c09e" opacity="0.90"/>
<rect x="318.3" y="236.5" width="0.9" height="11.1" fill="url(#gband)" opacity="0.90"/>
<rect x="318.3" y="238.5" width="0.9" height="1.6" fill="#c58a83" opacity="0.38"/>
<rect x="318.3" y="244.9" width="0.9" height="1.6" fill="#c48682" opacity="0.47"/>
<rect x="318.3" y="244.3" width="0.9" height="1.6" fill="#c89287" opacity="0.73"/>
<rect x="318.3" y="241.9" width="0.9" height="1.2" fill="#d3b498" opacity="0.42"/>
<rect x="319.1" y="235.7" width="0.9" height="11.9" fill="url(#gband)" opacity="0.90"/>
<rect x="319.1" y="242.1" width="0.9" height="1.6" fill="#be7b7b" opacity="0.69"/>
<rect x="319.1" y="237.5" width="0.9" height="1.6" fill="#c99789" opacity="0.61"/>
<rect x="319.1" y="237.5" width="0.9" height="1.6" fill="#cfa892" opacity="0.77"/>
<rect x="319.1" y="242.1" width="0.9" height="1.2" fill="#dccca4" opacity="0.44"/>
<rect x="319.9" y="235.5" width="0.9" height="12.1" fill="url(#gband)" opacity="0.90"/>
<rect x="319.9" y="240.4" width="0.9" height="1.6" fill="#bd7b7b" opacity="0.70"/>
<rect x="319.9" y="240.3" width="0.9" height="1.6" fill="#cca08e" opacity="0.53"/>
<rect x="319.9" y="237.2" width="0.9" height="1.6" fill="#cfa791" opacity="0.57"/>
<rect x="319.9" y="240.5" width="0.9" height="1.2" fill="#e0d5a9" opacity="0.53"/>
<rect x="320.7" y="236.2" width="0.9" height="11.4" fill="url(#gband)" opacity="0.90"/>
<rect x="320.7" y="238.8" width="0.9" height="1.6" fill="#c27e7e" opacity="0.62"/>
<rect x="320.7" y="239.3" width="0.9" height="1.6" fill="#cea590" opacity="0.73"/>
<rect x="320.7" y="240.9" width="0.9" height="1.6" fill="#c89287" opacity="0.69"/>
<rect x="320.7" y="241.9" width="0.9" height="1.2" fill="#d9c29f" opacity="0.44"/>
<rect x="321.5" y="235.4" width="0.9" height="12.2" fill="url(#gband)" opacity="0.90"/>
<rect x="321.5" y="236.4" width="0.9" height="1.6" fill="#c89488" opacity="0.42"/>
<rect x="321.5" y="237.7" width="0.9" height="1.6" fill="#c07d7d" opacity="0.42"/>
<rect x="321.5" y="244.9" width="0.9" height="1.6" fill="#be7b7b" opacity="0.61"/>
<rect x="321.5" y="240.3" width="0.9" height="1.2" fill="#dac6a1" opacity="0.79"/>
<rect x="274.9" y="226.4" width="0.8" height="11.6" fill="#b07272" opacity="0.12"/>
<rect x="216.6" y="212.6" width="0.8" height="25.4" fill="#b07272" opacity="0.12"/>
<rect x="220.8" y="227.6" width="0.8" height="10.4" fill="#b07272" opacity="0.12"/>
<rect x="249.6" y="212.7" width="0.8" height="25.3" fill="#b07272" opacity="0.12"/>
<rect x="313.7" y="216.9" width="0.8" height="21.1" fill="#b07272" opacity="0.12"/>
<rect x="247.3" y="225.1" width="0.8" height="12.9" fill="#b07272" opacity="0.12"/>
<rect x="299.0" y="225.9" width="0.8" height="12.1" fill="#b07272" opacity="0.12"/>
<rect x="259.7" y="230.7" width="0.8" height="7.3" fill="#b07272" opacity="0.12"/>
<rect x="290.0" y="214.4" width="0.8" height="23.6" fill="#b07272" opacity="0.12"/>
<rect x="312.9" y="215.6" width="0.8" height="22.4" fill="#b07272" opacity="0.12"/>
<g mask="url(#dmask)">
<rect x="205" y="251" width="117.3" height="52" fill="url(#gdn2)" opacity="0.85"/>
<rect x="205.0" y="251" width="0.9" height="31.4" fill="url(#gdn)" opacity="0.35"/>
<rect x="206.7" y="251" width="0.9" height="31.4" fill="url(#gdn)" opacity="0.23"/>
<rect x="208.1" y="251" width="0.9" height="32.2" fill="url(#gdn)" opacity="0.13"/>
<rect x="209.4" y="251" width="0.9" height="22.1" fill="url(#gdn)" opacity="0.24"/>
<rect x="211.6" y="251" width="0.9" height="21.0" fill="url(#gdn)" opacity="0.37"/>
<rect x="213.7" y="251" width="0.9" height="21.6" fill="url(#gdn)" opacity="0.26"/>
<rect x="216.0" y="251" width="0.9" height="32.9" fill="url(#gdn)" opacity="0.27"/>
<rect x="217.4" y="251" width="0.9" height="21.0" fill="url(#gdn)" opacity="0.17"/>
<rect x="219.6" y="251" width="0.9" height="45.8" fill="url(#gdn)" opacity="0.26"/>
<rect x="221.8" y="251" width="0.9" height="23.0" fill="url(#gdn)" opacity="0.31"/>
<rect x="223.3" y="251" width="0.9" height="31.8" fill="url(#gdn)" opacity="0.38"/>
<rect x="225.1" y="251" width="0.9" height="36.4" fill="url(#gdn)" opacity="0.35"/>
<rect x="227.5" y="251" width="0.9" height="26.5" fill="url(#gdn)" opacity="0.16"/>
<rect x="228.7" y="251" width="0.9" height="44.2" fill="url(#gdn)" opacity="0.35"/>
<rect x="230.2" y="251" width="0.9" height="31.3" fill="url(#gdn)" opacity="0.16"/>
<rect x="231.6" y="251" width="0.9" height="35.0" fill="url(#gdn)" opacity="0.17"/>
<rect x="233.1" y="251" width="0.9" height="35.3" fill="url(#gdn)" opacity="0.31"/>
<rect x="235.0" y="251" width="0.9" height="31.5" fill="url(#gdn)" opacity="0.23"/>
<rect x="236.6" y="251" width="0.9" height="33.7" fill="url(#gdn)" opacity="0.20"/>
<rect x="238.3" y="251" width="0.9" height="20.2" fill="url(#gdn)" opacity="0.15"/>
<rect x="240.0" y="251" width="0.9" height="40.6" fill="url(#gdn)" opacity="0.11"/>
<rect x="241.4" y="251" width="0.9" height="47.2" fill="url(#gdn)" opacity="0.25"/>
<rect x="242.8" y="251" width="0.9" height="33.4" fill="url(#gdn)" opacity="0.22"/>
<rect x="244.8" y="251" width="0.9" height="43.1" fill="url(#gdn)" opacity="0.27"/>
<rect x="246.5" y="251" width="0.9" height="31.9" fill="url(#gdn)" opacity="0.17"/>
<rect x="248.0" y="251" width="0.9" height="39.5" fill="url(#gdn)" opacity="0.20"/>
<rect x="249.3" y="251" width="0.9" height="25.0" fill="url(#gdn)" opacity="0.15"/>
<rect x="251.4" y="251" width="0.9" height="48.2" fill="url(#gdn)" opacity="0.22"/>
<rect x="253.0" y="251" width="0.9" height="42.8" fill="url(#gdn)" opacity="0.11"/>
<rect x="254.7" y="251" width="0.9" height="31.6" fill="url(#gdn)" opacity="0.12"/>
<rect x="256.2" y="251" width="0.9" height="32.8" fill="url(#gdn)" opacity="0.13"/>
<rect x="258.3" y="251" width="0.9" height="46.7" fill="url(#gdn)" opacity="0.20"/>
<rect x="260.0" y="251" width="0.9" height="48.8" fill="url(#gdn)" opacity="0.26"/>
<rect x="262.0" y="251" width="0.9" height="22.1" fill="url(#gdn)" opacity="0.11"/>
<rect x="263.3" y="251" width="0.9" height="26.5" fill="url(#gdn)" opacity="0.33"/>
<rect x="264.7" y="251" width="0.9" height="27.7" fill="url(#gdn)" opacity="0.18"/>
<rect x="266.5" y="251" width="0.9" height="37.5" fill="url(#gdn)" opacity="0.14"/>
<rect x="268.9" y="251" width="0.9" height="43.7" fill="url(#gdn)" opacity="0.38"/>
<rect x="270.4" y="251" width="0.9" height="29.7" fill="url(#gdn)" opacity="0.11"/>
<rect x="271.8" y="251" width="0.9" height="30.4" fill="url(#gdn)" opacity="0.31"/>
<rect x="274.1" y="251" width="0.9" height="29.1" fill="url(#gdn)" opacity="0.31"/>
<rect x="275.7" y="251" width="0.9" height="41.1" fill="url(#gdn)" opacity="0.19"/>
<rect x="277.8" y="251" width="0.9" height="24.2" fill="url(#gdn)" opacity="0.15"/>
<rect x="279.8" y="251" width="0.9" height="42.1" fill="url(#gdn)" opacity="0.23"/>
<rect x="281.6" y="251" width="0.9" height="34.1" fill="url(#gdn)" opacity="0.36"/>
<rect x="283.5" y="251" width="0.9" height="49.9" fill="url(#gdn)" opacity="0.30"/>
<rect x="286.0" y="251" width="0.9" height="36.3" fill="url(#gdn)" opacity="0.15"/>
<rect x="287.4" y="251" width="0.9" height="29.5" fill="url(#gdn)" opacity="0.28"/>
<rect x="289.5" y="251" width="0.9" height="48.8" fill="url(#gdn)" opacity="0.33"/>
<rect x="291.1" y="251" width="0.9" height="38.7" fill="url(#gdn)" opacity="0.13"/>
<rect x="292.7" y="251" width="0.9" height="32.5" fill="url(#gdn)" opacity="0.26"/>
<rect x="295.0" y="251" width="0.9" height="29.9" fill="url(#gdn)" opacity="0.34"/>
<rect x="296.7" y="251" width="0.9" height="33.6" fill="url(#gdn)" opacity="0.37"/>
<rect x="299.1" y="251" width="0.9" height="49.7" fill="url(#gdn)" opacity="0.23"/>
<rect x="300.7" y="251" width="0.9" height="38.7" fill="url(#gdn)" opacity="0.11"/>
<rect x="301.9" y="251" width="0.9" height="39.4" fill="url(#gdn)" opacity="0.30"/>
<rect x="303.9" y="251" width="0.9" height="36.4" fill="url(#gdn)" opacity="0.35"/>
<rect x="306.0" y="251" width="0.9" height="33.3" fill="url(#gdn)" opacity="0.19"/>
<rect x="308.4" y="251" width="0.9" height="25.8" fill="url(#gdn)" opacity="0.38"/>
<rect x="309.7" y="251" width="0.9" height="28.6" fill="url(#gdn)" opacity="0.34"/>
<rect x="311.8" y="251" width="0.9" height="29.7" fill="url(#gdn)" opacity="0.19"/>
<rect x="313.5" y="251" width="0.9" height="45.5" fill="url(#gdn)" opacity="0.31"/>
<rect x="315.6" y="251" width="0.9" height="44.1" fill="url(#gdn)" opacity="0.17"/>
<rect x="317.2" y="251" width="0.9" height="45.4" fill="url(#gdn)" opacity="0.37"/>
<rect x="319.0" y="251" width="0.9" height="45.8" fill="url(#gdn)" opacity="0.20"/>
<rect x="320.9" y="251" width="0.9" height="22.2" fill="url(#gdn)" opacity="0.17"/>
</g>
</svg>
<line x1="189.00" y1="302.60" x2="322.30" y2="302.60" stroke="#000" stroke-width="0.8"/>
<rect x="189.00" y="250.00" width="133.30" height="1.00" fill="#fff"/>
<text x="51.60" y="211.20" font-family="Liberation Serif" font-size="11.8" fill="#fff" textLength="38.40" lengthAdjust="spacingAndGlyphs" stroke="#fff" stroke-width="0.45">Growth</text>
<text x="51.50" y="296.60" font-family="Liberation Serif" font-size="11.8" fill="#fff" textLength="53.80" lengthAdjust="spacingAndGlyphs" stroke="#fff" stroke-width="0.45">Retraction</text>
<text x="194.50" y="211.20" font-family="Liberation Serif" font-size="11.8" fill="#fff" textLength="38.40" lengthAdjust="spacingAndGlyphs" stroke="#fff" stroke-width="0.45">Growth</text>
<text x="194.20" y="296.60" font-family="Liberation Serif" font-size="11.8" fill="#fff" textLength="53.80" lengthAdjust="spacingAndGlyphs" stroke="#fff" stroke-width="0.45">Retraction</text>
<text x="158.10" y="296.60" font-family="Liberation Serif" font-size="13.0" fill="#fff" textLength="15.90" lengthAdjust="spacingAndGlyphs" stroke="#fff" stroke-width="0.5">(c)</text>
<text x="301.00" y="296.60" font-family="Liberation Serif" font-size="13.0" fill="#fff" textLength="18.00" lengthAdjust="spacingAndGlyphs" stroke="#fff" stroke-width="0.5">(d)</text>
<line x1="46.60" y1="198.50" x2="46.60" y2="302.60" stroke="#000" stroke-width="0.9"/>
<line x1="38.50" y1="250.00" x2="46.60" y2="250.00" stroke="#000" stroke-width="0.9"/>
<line x1="41.50" y1="246.57" x2="46.60" y2="246.57" stroke="#000" stroke-width="0.8"/>
<line x1="41.50" y1="243.13" x2="46.60" y2="243.13" stroke="#000" stroke-width="0.8"/>
<line x1="41.50" y1="239.70" x2="46.60" y2="239.70" stroke="#000" stroke-width="0.8"/>
<line x1="41.50" y1="236.27" x2="46.60" y2="236.27" stroke="#000" stroke-width="0.8"/>
<line x1="38.50" y1="232.83" x2="46.60" y2="232.83" stroke="#000" stroke-width="0.9"/>
<text x="34.40" y="236.43" font-family="Liberation Serif" font-size="11.5" text-anchor="end" textLength="15.56" lengthAdjust="spacingAndGlyphs">0.1</text>
<line x1="41.50" y1="229.40" x2="46.60" y2="229.40" stroke="#000" stroke-width="0.8"/>
<line x1="41.50" y1="225.97" x2="46.60" y2="225.97" stroke="#000" stroke-width="0.8"/>
<line x1="41.50" y1="222.53" x2="46.60" y2="222.53" stroke="#000" stroke-width="0.8"/>
<line x1="41.50" y1="219.10" x2="46.60" y2="219.10" stroke="#000" stroke-width="0.8"/>
<line x1="38.50" y1="215.67" x2="46.60" y2="215.67" stroke="#000" stroke-width="0.9"/>
<text x="34.40" y="219.27" font-family="Liberation Serif" font-size="11.5" text-anchor="end" textLength="15.56" lengthAdjust="spacingAndGlyphs">0.2</text>
<line x1="41.50" y1="212.23" x2="46.60" y2="212.23" stroke="#000" stroke-width="0.8"/>
<line x1="41.50" y1="208.80" x2="46.60" y2="208.80" stroke="#000" stroke-width="0.8"/>
<line x1="41.50" y1="205.37" x2="46.60" y2="205.37" stroke="#000" stroke-width="0.8"/>
<line x1="41.50" y1="201.93" x2="46.60" y2="201.93" stroke="#000" stroke-width="0.8"/>
<line x1="38.50" y1="198.50" x2="46.60" y2="198.50" stroke="#000" stroke-width="0.9"/>
<text x="34.40" y="202.10" font-family="Liberation Serif" font-size="11.5" text-anchor="end" textLength="15.56" lengthAdjust="spacingAndGlyphs">0.3</text>
<line x1="41.50" y1="255.26" x2="46.60" y2="255.26" stroke="#000" stroke-width="0.8"/>
<line x1="41.50" y1="260.52" x2="46.60" y2="260.52" stroke="#000" stroke-width="0.8"/>
<line x1="41.50" y1="265.78" x2="46.60" y2="265.78" stroke="#000" stroke-width="0.8"/>
<line x1="41.50" y1="271.04" x2="46.60" y2="271.04" stroke="#000" stroke-width="0.8"/>
<line x1="38.50" y1="276.30" x2="46.60" y2="276.30" stroke="#000" stroke-width="0.9"/>
<text x="34.40" y="279.90" font-family="Liberation Serif" font-size="11.5" text-anchor="end" textLength="15.56" lengthAdjust="spacingAndGlyphs">0.1</text>
<line x1="41.50" y1="281.56" x2="46.60" y2="281.56" stroke="#000" stroke-width="0.8"/>
<line x1="41.50" y1="286.82" x2="46.60" y2="286.82" stroke="#000" stroke-width="0.8"/>
<line x1="41.50" y1="292.08" x2="46.60" y2="292.08" stroke="#000" stroke-width="0.8"/>
<line x1="41.50" y1="297.34" x2="46.60" y2="297.34" stroke="#000" stroke-width="0.8"/>
<line x1="38.50" y1="302.60" x2="46.60" y2="302.60" stroke="#000" stroke-width="0.9"/>
<text x="34.40" y="306.20" font-family="Liberation Serif" font-size="11.5" text-anchor="end" textLength="15.56" lengthAdjust="spacingAndGlyphs">0.2</text>
<text x="14.20" y="242.80" font-family="Liberation Serif" font-size="11.4" text-anchor="middle" textLength="92.50" lengthAdjust="spacingAndGlyphs" transform="rotate(-90 14.20 242.80)">Velocity [mm/min]</text>
<line x1="46.40" y1="302.60" x2="46.40" y2="309.60" stroke="#000" stroke-width="0.9"/>
<text x="46.40" y="321.80" font-family="Liberation Serif" font-size="11.5" text-anchor="middle" textLength="6.23" lengthAdjust="spacingAndGlyphs">0</text>
<line x1="51.67" y1="302.60" x2="51.67" y2="307.20" stroke="#000" stroke-width="0.8"/>
<line x1="56.95" y1="302.60" x2="56.95" y2="307.20" stroke="#000" stroke-width="0.8"/>
<line x1="62.22" y1="302.60" x2="62.22" y2="307.20" stroke="#000" stroke-width="0.8"/>
<line x1="67.50" y1="302.60" x2="67.50" y2="307.20" stroke="#000" stroke-width="0.8"/>
<line x1="72.78" y1="302.60" x2="72.78" y2="309.60" stroke="#000" stroke-width="0.9"/>
<text x="72.78" y="321.80" font-family="Liberation Serif" font-size="11.5" text-anchor="middle" textLength="18.69" lengthAdjust="spacingAndGlyphs">250</text>
<line x1="78.05" y1="302.60" x2="78.05" y2="307.20" stroke="#000" stroke-width="0.8"/>
<line x1="83.32" y1="302.60" x2="83.32" y2="307.20" stroke="#000" stroke-width="0.8"/>
<line x1="88.60" y1="302.60" x2="88.60" y2="307.20" stroke="#000" stroke-width="0.8"/>
<line x1="93.88" y1="302.60" x2="93.88" y2="307.20" stroke="#000" stroke-width="0.8"/>
<line x1="99.15" y1="302.60" x2="99.15" y2="309.60" stroke="#000" stroke-width="0.9"/>
<text x="99.15" y="321.80" font-family="Liberation Serif" font-size="11.5" text-anchor="middle" textLength="18.69" lengthAdjust="spacingAndGlyphs">500</text>
<line x1="104.42" y1="302.60" x2="104.42" y2="307.20" stroke="#000" stroke-width="0.8"/>
<line x1="109.70" y1="302.60" x2="109.70" y2="307.20" stroke="#000" stroke-width="0.8"/>
<line x1="114.97" y1="302.60" x2="114.97" y2="307.20" stroke="#000" stroke-width="0.8"/>
<line x1="120.25" y1="302.60" x2="120.25" y2="307.20" stroke="#000" stroke-width="0.8"/>
<line x1="125.53" y1="302.60" x2="125.53" y2="309.60" stroke="#000" stroke-width="0.9"/>
<text x="125.53" y="321.80" font-family="Liberation Serif" font-size="11.5" text-anchor="middle" textLength="18.69" lengthAdjust="spacingAndGlyphs">750</text>
<line x1="130.80" y1="302.60" x2="130.80" y2="307.20" stroke="#000" stroke-width="0.8"/>
<line x1="136.07" y1="302.60" x2="136.07" y2="307.20" stroke="#000" stroke-width="0.8"/>
<line x1="141.35" y1="302.60" x2="141.35" y2="307.20" stroke="#000" stroke-width="0.8"/>
<line x1="146.62" y1="302.60" x2="146.62" y2="307.20" stroke="#000" stroke-width="0.8"/>
<line x1="151.90" y1="302.60" x2="151.90" y2="309.60" stroke="#000" stroke-width="0.9"/>
<text x="151.90" y="321.80" font-family="Liberation Serif" font-size="11.5" text-anchor="middle" textLength="24.92" lengthAdjust="spacingAndGlyphs">1000</text>
<line x1="157.17" y1="302.60" x2="157.17" y2="307.20" stroke="#000" stroke-width="0.8"/>
<line x1="162.45" y1="302.60" x2="162.45" y2="307.20" stroke="#000" stroke-width="0.8"/>
<line x1="167.72" y1="302.60" x2="167.72" y2="307.20" stroke="#000" stroke-width="0.8"/>
<line x1="173.00" y1="302.60" x2="173.00" y2="307.20" stroke="#000" stroke-width="0.8"/>
<line x1="178.28" y1="302.60" x2="178.28" y2="309.60" stroke="#000" stroke-width="0.9"/>
<text x="113.70" y="334.60" font-family="Liberation Serif" font-size="11.5" text-anchor="middle" textLength="57.50" lengthAdjust="spacingAndGlyphs">Time [min]</text>
<line x1="188.90" y1="302.60" x2="188.90" y2="309.60" stroke="#000" stroke-width="0.9"/>
<text x="188.90" y="321.80" font-family="Liberation Serif" font-size="11.5" text-anchor="middle" textLength="6.23" lengthAdjust="spacingAndGlyphs">0</text>
<line x1="196.38" y1="302.60" x2="196.38" y2="307.20" stroke="#000" stroke-width="0.8"/>
<line x1="203.86" y1="302.60" x2="203.86" y2="307.20" stroke="#000" stroke-width="0.8"/>
<line x1="211.34" y1="302.60" x2="211.34" y2="307.20" stroke="#000" stroke-width="0.8"/>
<line x1="218.82" y1="302.60" x2="218.82" y2="307.20" stroke="#000" stroke-width="0.8"/>
<line x1="226.30" y1="302.60" x2="226.30" y2="309.60" stroke="#000" stroke-width="0.9"/>
<text x="226.30" y="321.80" font-family="Liberation Serif" font-size="11.5" text-anchor="middle" textLength="18.69" lengthAdjust="spacingAndGlyphs">400</text>
<line x1="233.78" y1="302.60" x2="233.78" y2="307.20" stroke="#000" stroke-width="0.8"/>
<line x1="241.26" y1="302.60" x2="241.26" y2="307.20" stroke="#000" stroke-width="0.8"/>
<line x1="248.74" y1="302.60" x2="248.74" y2="307.20" stroke="#000" stroke-width="0.8"/>
<line x1="256.22" y1="302.60" x2="256.22" y2="307.20" stroke="#000" stroke-width="0.8"/>
<line x1="263.70" y1="302.60" x2="263.70" y2="309.60" stroke="#000" stroke-width="0.9"/>
<text x="263.70" y="321.80" font-family="Liberation Serif" font-size="11.5" text-anchor="middle" textLength="18.69" lengthAdjust="spacingAndGlyphs">800</text>
<line x1="271.18" y1="302.60" x2="271.18" y2="307.20" stroke="#000" stroke-width="0.8"/>
<line x1="278.66" y1="302.60" x2="278.66" y2="307.20" stroke="#000" stroke-width="0.8"/>
<line x1="286.14" y1="302.60" x2="286.14" y2="307.20" stroke="#000" stroke-width="0.8"/>
<line x1="293.62" y1="302.60" x2="293.62" y2="307.20" stroke="#000" stroke-width="0.8"/>
<line x1="301.10" y1="302.60" x2="301.10" y2="309.60" stroke="#000" stroke-width="0.9"/>
<text x="301.10" y="321.80" font-family="Liberation Serif" font-size="11.5" text-anchor="middle" textLength="24.92" lengthAdjust="spacingAndGlyphs">1200</text>
<line x1="308.58" y1="302.60" x2="308.58" y2="307.20" stroke="#000" stroke-width="0.8"/>
<line x1="316.06" y1="302.60" x2="316.06" y2="307.20" stroke="#000" stroke-width="0.8"/>
<text x="256.20" y="334.20" font-family="Liberation Serif" font-size="11.5" text-anchor="middle" textLength="55.60" lengthAdjust="spacingAndGlyphs">Time [min]</text>
<rect x="45.70" y="341.80" width="65.30" height="7.80" fill="url(#gpink)" stroke="#000" stroke-width="0.8"/>
<line x1="45.70" y1="349.60" x2="45.70" y2="352.80" stroke="#000" stroke-width="0.8"/>
<line x1="111.00" y1="349.60" x2="111.00" y2="352.80" stroke="#000" stroke-width="0.8"/>
<text x="45.70" y="360.60" font-family="Liberation Serif" font-size="11.5" text-anchor="middle" textLength="17.00" lengthAdjust="spacingAndGlyphs">low</text>
<text x="111.00" y="360.60" font-family="Liberation Serif" font-size="11.5" text-anchor="middle" textLength="22.00" lengthAdjust="spacingAndGlyphs">high</text>
<text x="114.00" y="348.10" font-family="Liberation Serif" font-size="11.2" textLength="37.00" lengthAdjust="spacingAndGlyphs">Counts</text>
<rect x="188.90" y="341.80" width="65.80" height="7.80" fill="url(#gpink)" stroke="#000" stroke-width="0.8"/>
<line x1="188.90" y1="349.60" x2="188.90" y2="352.80" stroke="#000" stroke-width="0.8"/>
<line x1="254.70" y1="349.60" x2="254.70" y2="352.80" stroke="#000" stroke-width="0.8"/>
<text x="188.90" y="360.60" font-family="Liberation Serif" font-size="11.5" text-anchor="middle" textLength="17.00" lengthAdjust="spacingAndGlyphs">low</text>
<text x="254.70" y="360.60" font-family="Liberation Serif" font-size="11.5" text-anchor="middle" textLength="22.00" lengthAdjust="spacingAndGlyphs">high</text>
<text x="257.40" y="348.10" font-family="Liberation Serif" font-size="11.2" textLength="37.00" lengthAdjust="spacingAndGlyphs">Counts</text>
<line x1="49.30" y1="369.50" x2="49.30" y2="447.50" stroke="#000" stroke-width="0.9"/>
<line x1="49.30" y1="447.50" x2="226.70" y2="447.50" stroke="#000" stroke-width="0.9"/>
<line x1="41.70" y1="447.50" x2="49.30" y2="447.50" stroke="#000" stroke-width="0.9"/>
<text x="39.80" y="451.10" font-family="Liberation Serif" font-size="11.5" text-anchor="end" textLength="6.23" lengthAdjust="spacingAndGlyphs">0</text>
<line x1="44.50" y1="442.31" x2="49.30" y2="442.31" stroke="#000" stroke-width="0.8"/>
<line x1="44.50" y1="437.13" x2="49.30" y2="437.13" stroke="#000" stroke-width="0.8"/>
<line x1="44.50" y1="431.94" x2="49.30" y2="431.94" stroke="#000" stroke-width="0.8"/>
<line x1="44.50" y1="426.75" x2="49.30" y2="426.75" stroke="#000" stroke-width="0.8"/>
<line x1="41.70" y1="421.57" x2="49.30" y2="421.57" stroke="#000" stroke-width="0.9"/>
<text x="39.80" y="425.17" font-family="Liberation Serif" font-size="11.5" text-anchor="end" textLength="21.79" lengthAdjust="spacingAndGlyphs">0.04</text>
<line x1="44.50" y1="416.38" x2="49.30" y2="416.38" stroke="#000" stroke-width="0.8"/>
<line x1="44.50" y1="411.19" x2="49.30" y2="411.19" stroke="#000" stroke-width="0.8"/>
<line x1="44.50" y1="406.01" x2="49.30" y2="406.01" stroke="#000" stroke-width="0.8"/>
<line x1="44.50" y1="400.82" x2="49.30" y2="400.82" stroke="#000" stroke-width="0.8"/>
<line x1="41.70" y1="395.63" x2="49.30" y2="395.63" stroke="#000" stroke-width="0.9"/>
<text x="39.80" y="399.23" font-family="Liberation Serif" font-size="11.5" text-anchor="end" textLength="21.79" lengthAdjust="spacingAndGlyphs">0.08</text>
<line x1="44.50" y1="390.45" x2="49.30" y2="390.45" stroke="#000" stroke-width="0.8"/>
<line x1="44.50" y1="385.26" x2="49.30" y2="385.26" stroke="#000" stroke-width="0.8"/>
<line x1="44.50" y1="380.07" x2="49.30" y2="380.07" stroke="#000" stroke-width="0.8"/>
<line x1="44.50" y1="374.89" x2="49.30" y2="374.89" stroke="#000" stroke-width="0.8"/>
<line x1="41.70" y1="369.70" x2="49.30" y2="369.70" stroke="#000" stroke-width="0.9"/>
<text x="39.80" y="373.30" font-family="Liberation Serif" font-size="11.5" text-anchor="end" textLength="21.79" lengthAdjust="spacingAndGlyphs">0.12</text>
<text x="11.30" y="409.40" font-family="Liberation Serif" font-size="11.4" text-anchor="middle" textLength="96.00" lengthAdjust="spacingAndGlyphs" transform="rotate(-90 11.30 409.40)">Velocity [mm/min]</text>
<text x="56.60" y="376.50" font-family="Liberation Serif" font-size="14.2" textLength="17.30" lengthAdjust="spacingAndGlyphs">(e)</text>
<line x1="60.60" y1="447.50" x2="60.60" y2="452.20" stroke="#000" stroke-width="0.9"/>
<text x="0" y="0" font-family="Liberation Serif" font-size="10.4" text-anchor="middle" textLength="18.0" lengthAdjust="spacingAndGlyphs" transform="translate(60.80 462.00) rotate(-45) translate(0 3.5)">Glu</text>
<line x1="82.65" y1="447.50" x2="82.65" y2="452.20" stroke="#000" stroke-width="0.9"/>
<text x="0" y="0" font-family="Liberation Serif" font-size="10.4" text-anchor="middle" textLength="17.5" lengthAdjust="spacingAndGlyphs" transform="translate(82.85 462.00) rotate(-45) translate(0 3.5)">Gal</text>
<line x1="104.70" y1="447.50" x2="104.70" y2="452.20" stroke="#000" stroke-width="0.9"/>
<text x="0" y="0" font-family="Liberation Serif" font-size="10.4" text-anchor="middle" textLength="16.5" lengthAdjust="spacingAndGlyphs" transform="translate(104.90 462.00) rotate(-45) translate(0 3.5)">Rib</text>
<line x1="126.75" y1="447.50" x2="126.75" y2="452.20" stroke="#000" stroke-width="0.9"/>
<text x="0" y="0" font-family="Liberation Serif" font-size="10.4" text-anchor="middle" textLength="20.0" lengthAdjust="spacingAndGlyphs" transform="translate(126.95 462.00) rotate(-45) translate(0 3.5)">Mal</text>
<line x1="148.80" y1="447.50" x2="148.80" y2="452.20" stroke="#000" stroke-width="0.9"/>
<text x="0" y="0" font-family="Liberation Serif" font-size="10.4" text-anchor="middle" textLength="17.0" lengthAdjust="spacingAndGlyphs" transform="translate(149.00 462.00) rotate(-45) translate(0 3.5)">Lac</text>
<line x1="170.85" y1="447.50" x2="170.85" y2="452.20" stroke="#000" stroke-width="0.9"/>
<text x="0" y="0" font-family="Liberation Serif" font-size="10.4" text-anchor="middle" textLength="18.0" lengthAdjust="spacingAndGlyphs" transform="translate(171.05 462.00) rotate(-45) translate(0 3.5)">Suc</text>
<line x1="192.90" y1="447.50" x2="192.90" y2="452.20" stroke="#000" stroke-width="0.9"/>
<text x="0" y="0" font-family="Liberation Serif" font-size="10.4" text-anchor="middle" textLength="20.0" lengthAdjust="spacingAndGlyphs" transform="translate(193.10 462.00) rotate(-45) translate(0 3.5)">Wat</text>
<line x1="214.95" y1="447.50" x2="214.95" y2="452.20" stroke="#000" stroke-width="0.9"/>
<text x="0" y="0" font-family="Liberation Serif" font-size="10.4" text-anchor="middle" textLength="17.0" lengthAdjust="spacingAndGlyphs" transform="translate(215.15 462.00) rotate(-45) translate(0 3.5)">GA</text>
<circle cx="57.4" cy="380.4" r="1.4" fill="#a6bddb"/>
<circle cx="57.4" cy="394.6" r="1.4" fill="#a6bddb"/>
<circle cx="64.3" cy="393.0" r="1.4" fill="#fcd20f"/>
<circle cx="64.3" cy="402.5" r="1.4" fill="#fcd20f"/>
<circle cx="64.3" cy="409.5" r="1.4" fill="#fcd20f"/>
<circle cx="64.3" cy="411.5" r="1.4" fill="#fcd20f"/>
<circle cx="59.2" cy="410.2" r="1.4" fill="#f4a36a"/>
<circle cx="59.2" cy="406.0" r="1.4" fill="#f4a36a"/>
<circle cx="61.2" cy="420.8" r="1.4" fill="#f47c70"/>
<circle cx="62.9" cy="420.8" r="1.4" fill="#f47c70"/>
<circle cx="61.4" cy="423.4" r="1.4" fill="#f47c70"/>
<circle cx="62.8" cy="423.6" r="1.4" fill="#f47c70"/>
<circle cx="79.6" cy="401.5" r="1.4" fill="#a6bddb"/>
<circle cx="82.3" cy="403.0" r="1.4" fill="#f4a36a"/>
<circle cx="81.5" cy="413.0" r="1.4" fill="#f4a36a"/>
<circle cx="82.3" cy="411.0" r="1.4" fill="#f4a36a"/>
<circle cx="86.4" cy="408.4" r="1.4" fill="#fcd20f"/>
<circle cx="86.4" cy="418.4" r="1.4" fill="#fcd20f"/>
<circle cx="86.4" cy="411.0" r="1.4" fill="#fcd20f"/>
<circle cx="104.2" cy="401.5" r="1.4" fill="#f4a36a"/>
<circle cx="104.2" cy="410.7" r="1.4" fill="#f4a36a"/>
<circle cx="104.2" cy="413.8" r="1.4" fill="#f4a36a"/>
<circle cx="101.9" cy="387.0" r="1.4" fill="#a6bddb"/>
<circle cx="108.8" cy="396.0" r="1.4" fill="#fcd20f"/>
<circle cx="104.2" cy="408.0" r="1.4" fill="#f4a36a"/>
<circle cx="124.5" cy="401.5" r="1.4" fill="#a6bddb"/>
<circle cx="124.5" cy="409.2" r="1.4" fill="#a6bddb"/>
<circle cx="126.5" cy="401.5" r="1.4" fill="#f4a36a"/>
<circle cx="130.6" cy="400.0" r="1.4" fill="#fcd20f"/>
<circle cx="130.6" cy="411.5" r="1.4" fill="#fcd20f"/>
<circle cx="128.6" cy="418.0" r="1.4" fill="#f47c70"/>
<circle cx="148.1" cy="402.3" r="1.4" fill="#f4a36a"/>
<circle cx="148.1" cy="404.5" r="1.4" fill="#f4a36a"/>
<circle cx="148.1" cy="409.0" r="1.4" fill="#f4a36a"/>
<circle cx="148.1" cy="411.5" r="1.4" fill="#f4a36a"/>
<circle cx="150.8" cy="407.6" r="1.4" fill="#f47c70"/>
<circle cx="150.8" cy="418.4" r="1.4" fill="#f47c70"/>
<circle cx="153.1" cy="394.9" r="1.4" fill="#fcd20f"/>
<circle cx="168.5" cy="374.9" r="1.4" fill="#a6bddb"/>
<circle cx="168.5" cy="388.4" r="1.4" fill="#a6bddb"/>
<circle cx="170.5" cy="385.4" r="1.4" fill="#f4a36a"/>
<circle cx="170.5" cy="402.3" r="1.4" fill="#f4a36a"/>
<circle cx="170.5" cy="408.0" r="1.4" fill="#f4a36a"/>
<circle cx="170.5" cy="410.5" r="1.4" fill="#f4a36a"/>
<circle cx="170.5" cy="413.0" r="1.4" fill="#f4a36a"/>
<circle cx="170.5" cy="416.0" r="1.4" fill="#f4a36a"/>
<circle cx="175.1" cy="397.6" r="1.4" fill="#fcd20f"/>
<circle cx="175.1" cy="406.1" r="1.4" fill="#fcd20f"/>
<circle cx="190.5" cy="391.1" r="1.4" fill="#a6bddb"/>
<circle cx="190.5" cy="396.5" r="1.4" fill="#a6bddb"/>
<circle cx="192.8" cy="404.2" r="1.4" fill="#f4a36a"/>
<circle cx="192.8" cy="411.1" r="1.4" fill="#f4a36a"/>
<circle cx="197.4" cy="403.0" r="1.4" fill="#fcd20f"/>
<circle cx="213.0" cy="371.9" r="1.4" fill="#a6bddb"/>
<circle cx="213.0" cy="378.1" r="1.4" fill="#a6bddb"/>
<circle cx="213.0" cy="384.2" r="1.4" fill="#a6bddb"/>
<circle cx="213.0" cy="392.6" r="1.4" fill="#a6bddb"/>
<circle cx="213.0" cy="411.9" r="1.4" fill="#a6bddb"/>
<circle cx="219.4" cy="396.8" r="1.4" fill="#fcd20f"/>
<circle cx="217.4" cy="404.2" r="1.4" fill="#f47c70"/>
<circle cx="217.4" cy="408.5" r="1.4" fill="#f47c70"/>
<circle cx="217.4" cy="412.0" r="1.4" fill="#f47c70"/>
<circle cx="217.4" cy="423.0" r="1.4" fill="#f47c70"/>
<circle cx="217.4" cy="426.0" r="1.4" fill="#f47c70"/>
<circle cx="217.4" cy="429.0" r="1.4" fill="#f47c70"/>
<circle cx="217.4" cy="431.0" r="1.4" fill="#f47c70"/>
<circle cx="215.1" cy="417.2" r="1.4" fill="#f4a36a"/>
<circle cx="219.7" cy="414.2" r="1.4" fill="#fcd20f"/>
<circle cx="219.7" cy="426.0" r="1.4" fill="#fcd20f"/>
<circle cx="219.7" cy="428.0" r="1.4" fill="#fcd20f"/>
<circle cx="219.7" cy="430.0" r="1.4" fill="#fcd20f"/>
<circle cx="57.4" cy="389.0" r="2.4" fill="#a6bddb" stroke="#000" stroke-width="1.1"/>
<circle cx="79.2" cy="406.6" r="2.4" fill="#a6bddb" stroke="#000" stroke-width="1.1"/>
<circle cx="101.9" cy="389.7" r="2.4" fill="#a6bddb" stroke="#000" stroke-width="1.1"/>
<circle cx="123.7" cy="405.0" r="2.4" fill="#a6bddb" stroke="#000" stroke-width="1.1"/>
<circle cx="168.5" cy="382.3" r="2.4" fill="#a6bddb" stroke="#000" stroke-width="1.1"/>
<circle cx="190.5" cy="393.9" r="2.4" fill="#a6bddb" stroke="#000" stroke-width="1.1"/>
<circle cx="213.0" cy="388.0" r="2.4" fill="#a6bddb" stroke="#000" stroke-width="1.1"/>
<polygon points="56.4,406.0 62.0,406.0 59.2,410.7" fill="#f4a36a" stroke="#000" stroke-width="1.1" stroke-linejoin="miter"/>
<polygon points="79.5,406.2 85.1,406.2 82.3,410.9" fill="#f4a36a" stroke="#000" stroke-width="1.1" stroke-linejoin="miter"/>
<polygon points="101.4,403.4 107.0,403.4 104.2,408.1" fill="#f4a36a" stroke="#000" stroke-width="1.1" stroke-linejoin="miter"/>
<polygon points="123.7,401.9 129.3,401.9 126.5,406.6" fill="#f4a36a" stroke="#000" stroke-width="1.1" stroke-linejoin="miter"/>
<polygon points="145.3,404.7 150.9,404.7 148.1,409.4" fill="#f4a36a" stroke="#000" stroke-width="1.1" stroke-linejoin="miter"/>
<polygon points="167.7,403.4 173.3,403.4 170.5,408.1" fill="#f4a36a" stroke="#000" stroke-width="1.1" stroke-linejoin="miter"/>
<polygon points="190.0,405.0 195.6,405.0 192.8,409.7" fill="#f4a36a" stroke="#000" stroke-width="1.1" stroke-linejoin="miter"/>
<polygon points="212.3,410.1 217.9,410.1 215.1,414.8" fill="#f4a36a" stroke="#000" stroke-width="1.1" stroke-linejoin="miter"/>
<polygon points="125.8,422.1 131.4,422.1 128.6,417.4" fill="#f47c70" stroke="#000" stroke-width="1.1" stroke-linejoin="miter"/>
<polygon points="148.0,415.2 153.6,415.2 150.8,410.5" fill="#f47c70" stroke="#000" stroke-width="1.1" stroke-linejoin="miter"/>
<polygon points="214.6,421.7 220.2,421.7 217.4,417.0" fill="#f47c70" stroke="#000" stroke-width="1.1" stroke-linejoin="miter"/>
<rect x="61.7" y="402.4" width="5.2" height="5.2" fill="#fcd20f" stroke="#000" stroke-width="1.1"/>
<rect x="83.8" y="411.2" width="5.2" height="5.2" fill="#fcd20f" stroke="#000" stroke-width="1.1"/>
<rect x="106.2" y="396.3" width="5.2" height="5.2" fill="#fcd20f" stroke="#000" stroke-width="1.1"/>
<rect x="128.0" y="404.3" width="5.2" height="5.2" fill="#fcd20f" stroke="#000" stroke-width="1.1"/>
<rect x="150.5" y="397.0" width="5.2" height="5.2" fill="#fcd20f" stroke="#000" stroke-width="1.1"/>
<rect x="172.5" y="399.2" width="5.2" height="5.2" fill="#fcd20f" stroke="#000" stroke-width="1.1"/>
<rect x="194.8" y="397.4" width="5.2" height="5.2" fill="#fcd20f" stroke="#000" stroke-width="1.1"/>
<rect x="217.1" y="415.9" width="5.2" height="5.2" fill="#fcd20f" stroke="#000" stroke-width="1.1"/>
<circle cx="242.6" cy="380.0" r="2.6" fill="#a6bddb" stroke="#000" stroke-width="1.2"/>
<polygon points="239.8,389.1 246.0,389.1 242.9,394.4" fill="#f4a36a" stroke="#000" stroke-width="1.1" stroke-linejoin="miter"/>
<polygon points="239.8,405.5 246.0,405.5 242.9,400.2" fill="#f47c70" stroke="#000" stroke-width="1.1" stroke-linejoin="miter"/>
<rect x="240.2" y="411.7" width="5.4" height="5.4" fill="#fcd20f" stroke="#000" stroke-width="1.1"/>
<circle cx="242.6" cy="425.9" r="1.4" fill="#a6bddb"/>
<circle cx="242.6" cy="437.4" r="1.4" fill="#f4a36a"/>
<circle cx="242.6" cy="448.9" r="1.4" fill="#f47c70"/>
<circle cx="242.6" cy="460.4" r="1.4" fill="#fcd20f"/>
<text x="252.10" y="383.20" font-family="Liberation Serif" font-size="9.2" fill="#222" textLength="64.50" lengthAdjust="spacingAndGlyphs">Pp - Japan Mean</text>
<text x="252.10" y="394.80" font-family="Liberation Serif" font-size="9.2" fill="#222" textLength="68.00" lengthAdjust="spacingAndGlyphs">Bu - Iso. 1 Mean</text>
<text x="252.10" y="406.20" font-family="Liberation Serif" font-size="9.2" fill="#222" textLength="60.00" lengthAdjust="spacingAndGlyphs">Bu Iso. 2 Mean</text>
<text x="252.10" y="417.60" font-family="Liberation Serif" font-size="9.2" fill="#222" textLength="58.00" lengthAdjust="spacingAndGlyphs">Fs Iso. 1 Mean</text>
<text x="252.10" y="429.10" font-family="Liberation Serif" font-size="9.2" fill="#222" textLength="44.00" lengthAdjust="spacingAndGlyphs">Pp - Japan</text>
<text x="252.10" y="440.60" font-family="Liberation Serif" font-size="9.2" fill="#222" textLength="42.00" lengthAdjust="spacingAndGlyphs">Bu - Iso. 1</text>
<text x="252.10" y="452.10" font-family="Liberation Serif" font-size="9.2" fill="#222" textLength="42.00" lengthAdjust="spacingAndGlyphs">Bu - Iso. 2</text>
<text x="252.10" y="463.60" font-family="Liberation Serif" font-size="9.2" fill="#222" textLength="40.00" lengthAdjust="spacingAndGlyphs">Fs - Iso. 1</text>
<rect x="1.10" y="474.10" width="48.50" height="11.10" fill="#a6bddb"/>
<text x="25.65" y="482.20" font-family="Liberation Serif" font-size="8.6" text-anchor="middle" textLength="41.80" lengthAdjust="spacingAndGlyphs">Pp - Japan</text>
<text x="60.70" y="482.20" font-family="Liberation Serif" font-size="8.4" text-anchor="middle" textLength="4.70" lengthAdjust="spacingAndGlyphs">4</text>
<text x="82.95" y="482.20" font-family="Liberation Serif" font-size="8.4" text-anchor="middle" textLength="4.70" lengthAdjust="spacingAndGlyphs">4</text>
<text x="105.15" y="482.20" font-family="Liberation Serif" font-size="8.4" text-anchor="middle" textLength="4.70" lengthAdjust="spacingAndGlyphs">4</text>
<text x="127.40" y="482.20" font-family="Liberation Serif" font-size="8.4" text-anchor="middle" textLength="4.70" lengthAdjust="spacingAndGlyphs">4</text>
<text x="149.75" y="482.20" font-family="Liberation Serif" font-size="8.4" text-anchor="middle" textLength="4.70" lengthAdjust="spacingAndGlyphs">0</text>
<text x="172.10" y="482.20" font-family="Liberation Serif" font-size="8.4" text-anchor="middle" textLength="4.70" lengthAdjust="spacingAndGlyphs">4</text>
<text x="194.30" y="482.20" font-family="Liberation Serif" font-size="8.4" text-anchor="middle" textLength="4.70" lengthAdjust="spacingAndGlyphs">4</text>
<text x="216.80" y="482.20" font-family="Liberation Serif" font-size="8.4" text-anchor="middle" textLength="4.70" lengthAdjust="spacingAndGlyphs">7</text>
<rect x="1.10" y="485.20" width="48.50" height="10.70" fill="#f4a36a"/>
<text x="25.65" y="492.90" font-family="Liberation Serif" font-size="8.6" text-anchor="middle" textLength="41.80" lengthAdjust="spacingAndGlyphs">Bu - Iso. 1</text>
<text x="60.70" y="492.90" font-family="Liberation Serif" font-size="8.4" text-anchor="middle" textLength="4.70" lengthAdjust="spacingAndGlyphs">4</text>
<text x="82.95" y="492.90" font-family="Liberation Serif" font-size="8.4" text-anchor="middle" textLength="4.70" lengthAdjust="spacingAndGlyphs">8</text>
<text x="105.15" y="492.90" font-family="Liberation Serif" font-size="8.4" text-anchor="middle" textLength="4.70" lengthAdjust="spacingAndGlyphs">8</text>
<text x="127.40" y="492.90" font-family="Liberation Serif" font-size="8.4" text-anchor="middle" textLength="4.70" lengthAdjust="spacingAndGlyphs">8</text>
<text x="149.75" y="492.90" font-family="Liberation Serif" font-size="8.4" text-anchor="middle" textLength="9.40" lengthAdjust="spacingAndGlyphs">12</text>
<text x="172.10" y="492.90" font-family="Liberation Serif" font-size="8.4" text-anchor="middle" textLength="4.70" lengthAdjust="spacingAndGlyphs">8</text>
<text x="194.30" y="492.90" font-family="Liberation Serif" font-size="8.4" text-anchor="middle" textLength="4.70" lengthAdjust="spacingAndGlyphs">8</text>
<text x="216.80" y="492.90" font-family="Liberation Serif" font-size="8.4" text-anchor="middle" textLength="4.70" lengthAdjust="spacingAndGlyphs">5</text>
<rect x="1.10" y="495.90" width="48.50" height="10.80" fill="#f47c70"/>
<text x="25.65" y="503.70" font-family="Liberation Serif" font-size="8.6" text-anchor="middle" textLength="41.80" lengthAdjust="spacingAndGlyphs">Bu - Iso. 2</text>
<text x="60.70" y="503.70" font-family="Liberation Serif" font-size="8.4" text-anchor="middle" textLength="4.70" lengthAdjust="spacingAndGlyphs">4</text>
<text x="82.95" y="503.70" font-family="Liberation Serif" font-size="8.4" text-anchor="middle" textLength="4.70" lengthAdjust="spacingAndGlyphs">0</text>
<text x="105.15" y="503.70" font-family="Liberation Serif" font-size="8.4" text-anchor="middle" textLength="4.70" lengthAdjust="spacingAndGlyphs">0</text>
<text x="127.40" y="503.70" font-family="Liberation Serif" font-size="8.4" text-anchor="middle" textLength="4.70" lengthAdjust="spacingAndGlyphs">4</text>
<text x="149.75" y="503.70" font-family="Liberation Serif" font-size="8.4" text-anchor="middle" textLength="4.70" lengthAdjust="spacingAndGlyphs">4</text>
<text x="172.10" y="503.70" font-family="Liberation Serif" font-size="8.4" text-anchor="middle" textLength="4.70" lengthAdjust="spacingAndGlyphs">0</text>
<text x="194.30" y="503.70" font-family="Liberation Serif" font-size="8.4" text-anchor="middle" textLength="4.70" lengthAdjust="spacingAndGlyphs">0</text>
<text x="216.80" y="503.70" font-family="Liberation Serif" font-size="8.4" text-anchor="middle" textLength="9.40" lengthAdjust="spacingAndGlyphs">11</text>
<rect x="1.10" y="506.70" width="48.50" height="10.90" fill="#fcd20f"/>
<text x="25.65" y="514.60" font-family="Liberation Serif" font-size="8.6" text-anchor="middle" textLength="41.80" lengthAdjust="spacingAndGlyphs">Fs - Iso. 1</text>
<text x="60.70" y="514.60" font-family="Liberation Serif" font-size="8.4" text-anchor="middle" textLength="9.40" lengthAdjust="spacingAndGlyphs">12</text>
<text x="82.95" y="514.60" font-family="Liberation Serif" font-size="8.4" text-anchor="middle" textLength="4.70" lengthAdjust="spacingAndGlyphs">4</text>
<text x="105.15" y="514.60" font-family="Liberation Serif" font-size="8.4" text-anchor="middle" textLength="4.70" lengthAdjust="spacingAndGlyphs">4</text>
<text x="127.40" y="514.60" font-family="Liberation Serif" font-size="8.4" text-anchor="middle" textLength="4.70" lengthAdjust="spacingAndGlyphs">4</text>
<text x="149.75" y="514.60" font-family="Liberation Serif" font-size="8.4" text-anchor="middle" textLength="4.70" lengthAdjust="spacingAndGlyphs">4</text>
<text x="172.10" y="514.60" font-family="Liberation Serif" font-size="8.4" text-anchor="middle" textLength="4.70" lengthAdjust="spacingAndGlyphs">4</text>
<text x="194.30" y="514.60" font-family="Liberation Serif" font-size="8.4" text-anchor="middle" textLength="4.70" lengthAdjust="spacingAndGlyphs">4</text>
<text x="216.80" y="514.60" font-family="Liberation Serif" font-size="8.4" text-anchor="middle" textLength="4.70" lengthAdjust="spacingAndGlyphs">8</text>
<line x1="0.70" y1="474.10" x2="228.70" y2="474.10" stroke="#000" stroke-width="0.8"/>
<line x1="0.70" y1="485.20" x2="228.70" y2="485.20" stroke="#000" stroke-width="0.8"/>
<line x1="0.70" y1="495.90" x2="228.70" y2="495.90" stroke="#000" stroke-width="0.8"/>
<line x1="0.70" y1="506.70" x2="228.70" y2="506.70" stroke="#000" stroke-width="0.8"/>
<line x1="0.70" y1="517.60" x2="228.70" y2="517.60" stroke="#000" stroke-width="0.8"/>
<line x1="1.10" y1="474.10" x2="1.10" y2="517.60" stroke="#000" stroke-width="0.8"/>
<line x1="49.60" y1="474.10" x2="49.60" y2="517.60" stroke="#000" stroke-width="0.8"/>
<line x1="71.80" y1="474.10" x2="71.80" y2="517.60" stroke="#000" stroke-width="0.8"/>
<line x1="94.10" y1="474.10" x2="94.10" y2="517.60" stroke="#000" stroke-width="0.8"/>
<line x1="116.20" y1="474.10" x2="116.20" y2="517.60" stroke="#000" stroke-width="0.8"/>
<line x1="138.60" y1="474.10" x2="138.60" y2="517.60" stroke="#000" stroke-width="0.8"/>
<line x1="160.90" y1="474.10" x2="160.90" y2="517.60" stroke="#000" stroke-width="0.8"/>
<line x1="183.30" y1="474.10" x2="183.30" y2="517.60" stroke="#000" stroke-width="0.8"/>
<line x1="205.30" y1="474.10" x2="205.30" y2="517.60" stroke="#000" stroke-width="0.8"/>
<line x1="228.30" y1="474.10" x2="228.30" y2="517.60" stroke="#000" stroke-width="0.8"/>
</svg>
</body></html>
